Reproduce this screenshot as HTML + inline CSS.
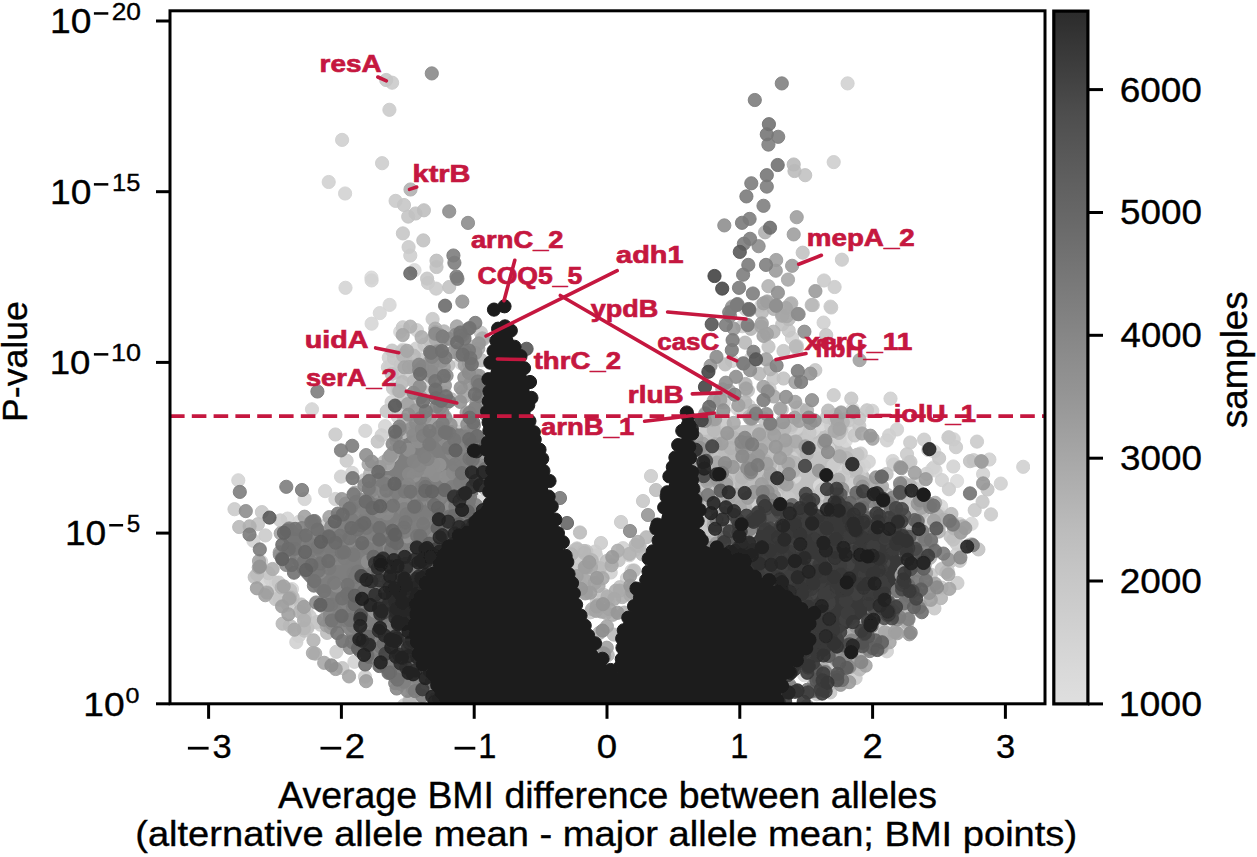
<!DOCTYPE html>
<html><head><meta charset="utf-8"><style>
html,body{margin:0;padding:0;background:#fff;}
svg{display:block;}
circle{stroke-width:1px;fill-opacity:0.9;stroke-opacity:0.9;}
circle.o{fill-opacity:1;stroke-opacity:1;}
text{font-family:"Liberation Sans",sans-serif;stroke:#000;stroke-width:0.35px;}
.lab{fill:#c5173f;stroke:#c5173f;stroke-width:0.7px;}
.tk{font-size:32px;fill:#000;}
.sup{font-size:22.5px;fill:#000;}
</style></head><body>
<svg width="1257" height="857" viewBox="0 0 1257 857">
<defs>
<filter id="bl" x="0" y="0" width="1" height="1"><feGaussianBlur stdDeviation="0.6"/></filter>
<clipPath id="clip"><rect x="170" y="11" width="875" height="693"/></clipPath>
<linearGradient id="cb" x1="0" y1="1" x2="0" y2="0">
<stop offset="0.00" stop-color="#dfdfdf"/><stop offset="0.05" stop-color="#d9d9d9"/><stop offset="0.10" stop-color="#d2d2d2"/><stop offset="0.15" stop-color="#cbcbcb"/><stop offset="0.20" stop-color="#c4c4c4"/><stop offset="0.25" stop-color="#bcbcbc"/><stop offset="0.30" stop-color="#b2b2b2"/><stop offset="0.35" stop-color="#a8a8a8"/><stop offset="0.40" stop-color="#9e9e9e"/><stop offset="0.45" stop-color="#949494"/><stop offset="0.50" stop-color="#8c8c8c"/><stop offset="0.55" stop-color="#838383"/><stop offset="0.60" stop-color="#7a7a7a"/><stop offset="0.65" stop-color="#717171"/><stop offset="0.70" stop-color="#686868"/><stop offset="0.75" stop-color="#606060"/><stop offset="0.80" stop-color="#575757"/><stop offset="0.85" stop-color="#4e4e4e"/><stop offset="0.90" stop-color="#424242"/><stop offset="0.95" stop-color="#373737"/><stop offset="1.00" stop-color="#2b2b2b"/>
</linearGradient>
</defs>
<rect width="1257" height="857" fill="#fff"/>
<g clip-path="url(#clip)"><g filter="url(#bl)">
<path d="M427.0 698.0 L406.8 686.9 L388.3 677.2 L373.5 666.1 L362.7 653.3 L351.2 643.8 L344.5 632.2 L330.7 617.5 L321.7 598.5 L308.9 584.6 L298.4 573.1 L289.3 558.5 L284.3 544.5 L286.9 533.5 L293.9 530.0 L311.4 530.0 L342.8 518.8 L356.0 502.3 L370.9 487.4 L386.6 468.5 L399.3 445.3 L406.7 425.0 L477.7 425.0 L479.9 698.0 Z" fill="#7e7e7e"/>
<path d="M700.0 428.0 L760.0 424.0 L835.0 426.0 L850.0 445.0 L870.0 475.0 L900.0 495.0 L930.0 515.0 L915.0 550.0 L895.0 585.0 L870.0 615.0 L840.0 645.0 L805.0 670.0 L780.0 690.0 L700.0 690.0 Z" fill="#c0c0c0"/>
<path d="M751.1 531.3 L786.5 513.6 L818.2 508.1 L854.1 512.7 L885.4 526.1 L901.4 544.6 L903.8 566.7 L895.6 590.5 L868.1 613.4 L838.3 636.3 L807.2 660.1 L788.6 684.1 L783.2 695.0 L711.0 695.0 L711.0 565.1 Z" fill="#383838"/>
<circle cx="957.1" cy="481.0" r="6.6" fill="#dcdcdc" stroke="#dcdcdc"/>
<circle cx="425.9" cy="385.2" r="6.6" fill="#dbdbdb" stroke="#dbdbdb"/>
<circle cx="852.7" cy="409.2" r="6.6" fill="#dbdbdb" stroke="#dbdbdb"/>
<circle cx="849.7" cy="431.1" r="6.6" fill="#dadada" stroke="#dadada"/>
<circle cx="485.5" cy="628.7" r="6.6" fill="#dadada" stroke="#dadada"/>
<circle cx="487.1" cy="684.0" r="6.6" fill="#dadada" stroke="#dadada"/>
<circle cx="821.7" cy="674.3" r="6.6" fill="#d9d9d9" stroke="#d9d9d9"/>
<circle cx="932.2" cy="469.1" r="6.6" fill="#d9d9d9" stroke="#d9d9d9"/>
<circle cx="923.1" cy="504.6" r="6.6" fill="#d9d9d9" stroke="#d9d9d9"/>
<circle cx="920.9" cy="576.2" r="6.6" fill="#d9d9d9" stroke="#d9d9d9"/>
<circle cx="414.5" cy="270.2" r="6.6" fill="#d9d9d9" stroke="#d9d9d9"/>
<circle cx="371.4" cy="277.6" r="6.6" fill="#d9d9d9" stroke="#d9d9d9"/>
<circle cx="482.4" cy="628.2" r="6.6" fill="#d9d9d9" stroke="#d9d9d9"/>
<circle cx="916.7" cy="543.3" r="6.6" fill="#d9d9d9" stroke="#d9d9d9"/>
<circle cx="904.7" cy="483.5" r="6.6" fill="#d9d9d9" stroke="#d9d9d9"/>
<circle cx="907.7" cy="582.0" r="6.6" fill="#d9d9d9" stroke="#d9d9d9"/>
<circle cx="804.3" cy="675.2" r="6.6" fill="#d9d9d9" stroke="#d9d9d9"/>
<circle cx="820.0" cy="485.8" r="6.6" fill="#d9d9d9" stroke="#d9d9d9"/>
<circle cx="479.4" cy="501.6" r="6.6" fill="#d9d9d9" stroke="#d9d9d9"/>
<circle cx="818.6" cy="423.4" r="6.6" fill="#d9d9d9" stroke="#d9d9d9"/>
<circle cx="820.9" cy="424.3" r="6.6" fill="#d9d9d9" stroke="#d9d9d9"/>
<circle cx="916.5" cy="572.7" r="6.6" fill="#d8d8d8" stroke="#d8d8d8"/>
<circle cx="971.6" cy="523.8" r="6.6" fill="#d8d8d8" stroke="#d8d8d8"/>
<circle cx="842.8" cy="492.3" r="6.6" fill="#d8d8d8" stroke="#d8d8d8"/>
<circle cx="845.8" cy="440.7" r="6.6" fill="#d8d8d8" stroke="#d8d8d8"/>
<circle cx="941.1" cy="506.2" r="6.6" fill="#d8d8d8" stroke="#d8d8d8"/>
<circle cx="859.5" cy="481.9" r="6.6" fill="#d8d8d8" stroke="#d8d8d8"/>
<circle cx="815.1" cy="660.6" r="6.6" fill="#d8d8d8" stroke="#d8d8d8"/>
<circle cx="845.8" cy="418.7" r="6.6" fill="#d8d8d8" stroke="#d8d8d8"/>
<circle cx="292.0" cy="589.0" r="6.6" fill="#d8d8d8" stroke="#d8d8d8"/>
<circle cx="924.2" cy="547.3" r="6.6" fill="#d8d8d8" stroke="#d8d8d8"/>
<circle cx="903.7" cy="550.7" r="6.6" fill="#d7d7d7" stroke="#d7d7d7"/>
<circle cx="790.3" cy="508.0" r="6.6" fill="#d7d7d7" stroke="#d7d7d7"/>
<circle cx="914.5" cy="483.8" r="6.6" fill="#d7d7d7" stroke="#d7d7d7"/>
<circle cx="935.5" cy="470.5" r="6.6" fill="#d7d7d7" stroke="#d7d7d7"/>
<circle cx="813.5" cy="429.7" r="6.6" fill="#d7d7d7" stroke="#d7d7d7"/>
<circle cx="482.0" cy="514.3" r="6.6" fill="#d7d7d7" stroke="#d7d7d7"/>
<circle cx="761.3" cy="305.5" r="6.6" fill="#d7d7d7" stroke="#d7d7d7"/>
<circle cx="484.9" cy="697.0" r="6.6" fill="#d7d7d7" stroke="#d7d7d7"/>
<circle cx="934.2" cy="451.5" r="6.6" fill="#d7d7d7" stroke="#d7d7d7"/>
<circle cx="439.1" cy="335.4" r="6.6" fill="#d7d7d7" stroke="#d7d7d7"/>
<circle cx="904.5" cy="539.3" r="6.6" fill="#d7d7d7" stroke="#d7d7d7"/>
<circle cx="895.9" cy="595.2" r="6.6" fill="#d7d7d7" stroke="#d7d7d7"/>
<circle cx="941.7" cy="517.1" r="6.6" fill="#d6d6d6" stroke="#d6d6d6"/>
<circle cx="299.3" cy="521.7" r="6.6" fill="#d6d6d6" stroke="#d6d6d6"/>
<circle cx="398.7" cy="407.2" r="6.6" fill="#d6d6d6" stroke="#d6d6d6"/>
<circle cx="828.1" cy="448.5" r="6.6" fill="#d6d6d6" stroke="#d6d6d6"/>
<circle cx="263.7" cy="579.3" r="6.6" fill="#d6d6d6" stroke="#d6d6d6"/>
<circle cx="389.6" cy="304.9" r="6.6" fill="#d6d6d6" stroke="#d6d6d6"/>
<circle cx="379.8" cy="313.1" r="6.6" fill="#d6d6d6" stroke="#d6d6d6"/>
<circle cx="371.6" cy="323.7" r="6.6" fill="#d6d6d6" stroke="#d6d6d6"/>
<circle cx="400.2" cy="331.8" r="6.6" fill="#d6d6d6" stroke="#d6d6d6"/>
<circle cx="403.0" cy="349.6" r="6.6" fill="#d6d6d6" stroke="#d6d6d6"/>
<circle cx="794.5" cy="476.8" r="6.6" fill="#d6d6d6" stroke="#d6d6d6"/>
<circle cx="844.0" cy="471.1" r="6.6" fill="#d6d6d6" stroke="#d6d6d6"/>
<circle cx="908.3" cy="508.1" r="6.6" fill="#d6d6d6" stroke="#d6d6d6"/>
<circle cx="793.8" cy="420.7" r="6.6" fill="#d6d6d6" stroke="#d6d6d6"/>
<circle cx="912.8" cy="548.1" r="6.6" fill="#d5d5d5" stroke="#d5d5d5"/>
<circle cx="806.7" cy="668.9" r="6.6" fill="#d5d5d5" stroke="#d5d5d5"/>
<circle cx="287.6" cy="518.6" r="6.6" fill="#d5d5d5" stroke="#d5d5d5"/>
<circle cx="826.9" cy="420.2" r="6.6" fill="#d5d5d5" stroke="#d5d5d5"/>
<circle cx="460.8" cy="363.0" r="6.6" fill="#d5d5d5" stroke="#d5d5d5"/>
<circle cx="915.4" cy="508.1" r="6.6" fill="#d5d5d5" stroke="#d5d5d5"/>
<circle cx="940.1" cy="513.8" r="6.6" fill="#d5d5d5" stroke="#d5d5d5"/>
<circle cx="385.1" cy="426.2" r="6.6" fill="#d5d5d5" stroke="#d5d5d5"/>
<circle cx="864.1" cy="466.1" r="6.6" fill="#d5d5d5" stroke="#d5d5d5"/>
<circle cx="895.5" cy="535.3" r="6.6" fill="#d5d5d5" stroke="#d5d5d5"/>
<circle cx="909.1" cy="515.0" r="6.6" fill="#d5d5d5" stroke="#d5d5d5"/>
<circle cx="908.2" cy="594.2" r="6.6" fill="#d5d5d5" stroke="#d5d5d5"/>
<circle cx="732.0" cy="361.0" r="6.6" fill="#d4d4d4" stroke="#d4d4d4"/>
<circle cx="737.4" cy="408.7" r="6.6" fill="#d4d4d4" stroke="#d4d4d4"/>
<circle cx="410.4" cy="375.5" r="6.6" fill="#d4d4d4" stroke="#d4d4d4"/>
<circle cx="886.0" cy="495.9" r="6.6" fill="#d4d4d4" stroke="#d4d4d4"/>
<circle cx="352.2" cy="472.9" r="6.6" fill="#d4d4d4" stroke="#d4d4d4"/>
<circle cx="399.1" cy="369.9" r="6.6" fill="#d4d4d4" stroke="#d4d4d4"/>
<circle cx="896.7" cy="507.0" r="6.6" fill="#d4d4d4" stroke="#d4d4d4"/>
<circle cx="892.7" cy="461.0" r="6.6" fill="#d4d4d4" stroke="#d4d4d4"/>
<circle cx="873.5" cy="627.2" r="6.6" fill="#d4d4d4" stroke="#d4d4d4"/>
<circle cx="281.9" cy="591.7" r="6.6" fill="#d4d4d4" stroke="#d4d4d4"/>
<circle cx="931.2" cy="522.2" r="6.6" fill="#d4d4d4" stroke="#d4d4d4"/>
<circle cx="631.7" cy="570.7" r="6.6" fill="#d4d4d4" stroke="#d4d4d4"/>
<circle cx="914.3" cy="581.7" r="6.6" fill="#d4d4d4" stroke="#d4d4d4"/>
<circle cx="345.5" cy="287.8" r="6.6" fill="#d4d4d4" stroke="#d4d4d4"/>
<circle cx="371.6" cy="280.4" r="6.6" fill="#d4d4d4" stroke="#d4d4d4"/>
<circle cx="312.0" cy="409.3" r="6.6" fill="#d4d4d4" stroke="#d4d4d4"/>
<circle cx="365.3" cy="430.8" r="6.6" fill="#d4d4d4" stroke="#d4d4d4"/>
<circle cx="238.3" cy="480.3" r="6.6" fill="#d4d4d4" stroke="#d4d4d4"/>
<circle cx="304.6" cy="499.0" r="6.6" fill="#d4d4d4" stroke="#d4d4d4"/>
<circle cx="843.0" cy="475.4" r="6.6" fill="#d4d4d4" stroke="#d4d4d4"/>
<circle cx="431.6" cy="340.1" r="6.6" fill="#d4d4d4" stroke="#d4d4d4"/>
<circle cx="390.1" cy="367.9" r="6.6" fill="#d3d3d3" stroke="#d3d3d3"/>
<circle cx="839.7" cy="439.2" r="6.6" fill="#d3d3d3" stroke="#d3d3d3"/>
<circle cx="797.0" cy="345.9" r="6.6" fill="#d3d3d3" stroke="#d3d3d3"/>
<circle cx="397.2" cy="407.5" r="6.6" fill="#d3d3d3" stroke="#d3d3d3"/>
<circle cx="298.8" cy="636.0" r="6.6" fill="#d3d3d3" stroke="#d3d3d3"/>
<circle cx="914.3" cy="602.4" r="6.6" fill="#d3d3d3" stroke="#d3d3d3"/>
<circle cx="397.9" cy="416.7" r="6.6" fill="#d3d3d3" stroke="#d3d3d3"/>
<circle cx="279.6" cy="599.8" r="6.6" fill="#d3d3d3" stroke="#d3d3d3"/>
<circle cx="344.5" cy="643.6" r="6.6" fill="#d3d3d3" stroke="#d3d3d3"/>
<circle cx="868.8" cy="461.7" r="6.6" fill="#d3d3d3" stroke="#d3d3d3"/>
<circle cx="953.3" cy="466.5" r="6.6" fill="#d3d3d3" stroke="#d3d3d3"/>
<circle cx="306.4" cy="610.6" r="6.6" fill="#d3d3d3" stroke="#d3d3d3"/>
<circle cx="412.3" cy="691.3" r="6.6" fill="#d3d3d3" stroke="#d3d3d3"/>
<circle cx="403.5" cy="366.2" r="6.6" fill="#d3d3d3" stroke="#d3d3d3"/>
<circle cx="354.4" cy="661.8" r="6.6" fill="#d3d3d3" stroke="#d3d3d3"/>
<circle cx="586.3" cy="575.6" r="6.6" fill="#d3d3d3" stroke="#d3d3d3"/>
<circle cx="793.1" cy="428.5" r="6.6" fill="#d3d3d3" stroke="#d3d3d3"/>
<circle cx="345.1" cy="193.5" r="6.6" fill="#d3d3d3" stroke="#d3d3d3"/>
<circle cx="846.7" cy="661.6" r="6.6" fill="#d3d3d3" stroke="#d3d3d3"/>
<circle cx="792.0" cy="338.0" r="6.6" fill="#d2d2d2" stroke="#d2d2d2"/>
<circle cx="634.6" cy="550.3" r="6.6" fill="#d2d2d2" stroke="#d2d2d2"/>
<circle cx="748.9" cy="405.9" r="6.6" fill="#d2d2d2" stroke="#d2d2d2"/>
<circle cx="886.4" cy="601.8" r="6.6" fill="#d2d2d2" stroke="#d2d2d2"/>
<circle cx="941.9" cy="480.1" r="6.6" fill="#d2d2d2" stroke="#d2d2d2"/>
<circle cx="411.8" cy="394.7" r="6.6" fill="#d2d2d2" stroke="#d2d2d2"/>
<circle cx="796.5" cy="427.9" r="6.6" fill="#d2d2d2" stroke="#d2d2d2"/>
<circle cx="270.5" cy="579.2" r="6.6" fill="#d2d2d2" stroke="#d2d2d2"/>
<circle cx="968.9" cy="545.1" r="6.6" fill="#d2d2d2" stroke="#d2d2d2"/>
<circle cx="253.4" cy="540.8" r="6.6" fill="#d2d2d2" stroke="#d2d2d2"/>
<circle cx="983.1" cy="474.0" r="6.6" fill="#d2d2d2" stroke="#d2d2d2"/>
<circle cx="834.0" cy="662.0" r="6.6" fill="#d2d2d2" stroke="#d2d2d2"/>
<circle cx="953.7" cy="439.3" r="6.6" fill="#d2d2d2" stroke="#d2d2d2"/>
<circle cx="959.9" cy="524.1" r="6.6" fill="#d2d2d2" stroke="#d2d2d2"/>
<circle cx="629.3" cy="555.3" r="6.6" fill="#d2d2d2" stroke="#d2d2d2"/>
<circle cx="408.0" cy="374.3" r="6.6" fill="#d2d2d2" stroke="#d2d2d2"/>
<circle cx="834.8" cy="484.0" r="6.6" fill="#d2d2d2" stroke="#d2d2d2"/>
<circle cx="623.0" cy="548.2" r="6.6" fill="#d2d2d2" stroke="#d2d2d2"/>
<circle cx="836.0" cy="432.5" r="6.6" fill="#d2d2d2" stroke="#d2d2d2"/>
<circle cx="900.2" cy="489.5" r="6.6" fill="#d2d2d2" stroke="#d2d2d2"/>
<circle cx="843.2" cy="648.5" r="6.6" fill="#d2d2d2" stroke="#d2d2d2"/>
<circle cx="723.9" cy="402.5" r="6.6" fill="#d1d1d1" stroke="#d1d1d1"/>
<circle cx="328.7" cy="182.0" r="6.6" fill="#d1d1d1" stroke="#d1d1d1"/>
<circle cx="847.6" cy="83.4" r="6.6" fill="#d1d1d1" stroke="#d1d1d1"/>
<circle cx="296.3" cy="642.2" r="6.6" fill="#d1d1d1" stroke="#d1d1d1"/>
<circle cx="766.6" cy="303.1" r="6.6" fill="#d1d1d1" stroke="#d1d1d1"/>
<circle cx="930.9" cy="525.1" r="6.6" fill="#d1d1d1" stroke="#d1d1d1"/>
<circle cx="933.7" cy="467.5" r="6.6" fill="#d1d1d1" stroke="#d1d1d1"/>
<circle cx="576.2" cy="570.0" r="6.6" fill="#d1d1d1" stroke="#d1d1d1"/>
<circle cx="731.6" cy="445.2" r="6.6" fill="#d1d1d1" stroke="#d1d1d1"/>
<circle cx="886.9" cy="651.3" r="6.6" fill="#d1d1d1" stroke="#d1d1d1"/>
<circle cx="701.0" cy="622.1" r="6.6" fill="#d1d1d1" stroke="#d1d1d1"/>
<circle cx="481.8" cy="576.3" r="6.6" fill="#d0d0d0" stroke="#d0d0d0"/>
<circle cx="849.5" cy="484.5" r="6.6" fill="#d0d0d0" stroke="#d0d0d0"/>
<circle cx="924.3" cy="560.1" r="6.6" fill="#d0d0d0" stroke="#d0d0d0"/>
<circle cx="908.4" cy="462.5" r="6.6" fill="#d0d0d0" stroke="#d0d0d0"/>
<circle cx="699.4" cy="520.6" r="6.6" fill="#d0d0d0" stroke="#d0d0d0"/>
<circle cx="933.2" cy="553.1" r="6.6" fill="#d0d0d0" stroke="#d0d0d0"/>
<circle cx="610.7" cy="572.5" r="6.6" fill="#d0d0d0" stroke="#d0d0d0"/>
<circle cx="341.0" cy="476.6" r="6.6" fill="#d0d0d0" stroke="#d0d0d0"/>
<circle cx="325.1" cy="491.1" r="6.6" fill="#d0d0d0" stroke="#d0d0d0"/>
<circle cx="335.4" cy="499.0" r="6.6" fill="#d0d0d0" stroke="#d0d0d0"/>
<circle cx="823.6" cy="322.6" r="6.6" fill="#d0d0d0" stroke="#d0d0d0"/>
<circle cx="890.5" cy="398.6" r="6.6" fill="#d0d0d0" stroke="#d0d0d0"/>
<circle cx="1023.2" cy="466.8" r="6.6" fill="#d0d0d0" stroke="#d0d0d0"/>
<circle cx="1000.8" cy="483.6" r="6.6" fill="#d0d0d0" stroke="#d0d0d0"/>
<circle cx="926.6" cy="473.8" r="6.6" fill="#d0d0d0" stroke="#d0d0d0"/>
<circle cx="787.3" cy="458.9" r="6.6" fill="#d0d0d0" stroke="#d0d0d0"/>
<circle cx="897.0" cy="429.5" r="6.6" fill="#d0d0d0" stroke="#d0d0d0"/>
<circle cx="283.1" cy="560.0" r="6.6" fill="#d0d0d0" stroke="#d0d0d0"/>
<circle cx="796.4" cy="427.0" r="6.6" fill="#d0d0d0" stroke="#d0d0d0"/>
<circle cx="704.2" cy="698.2" r="6.6" fill="#d0d0d0" stroke="#d0d0d0"/>
<circle cx="444.8" cy="392.5" r="6.6" fill="#d0d0d0" stroke="#d0d0d0"/>
<circle cx="872.3" cy="410.8" r="6.6" fill="#d0d0d0" stroke="#d0d0d0"/>
<circle cx="388.8" cy="357.6" r="6.6" fill="#d0d0d0" stroke="#d0d0d0"/>
<circle cx="891.8" cy="606.0" r="6.6" fill="#d0d0d0" stroke="#d0d0d0"/>
<circle cx="956.5" cy="554.6" r="6.6" fill="#d0d0d0" stroke="#d0d0d0"/>
<circle cx="770.3" cy="425.8" r="6.6" fill="#d0d0d0" stroke="#d0d0d0"/>
<circle cx="459.0" cy="421.5" r="6.6" fill="#d0d0d0" stroke="#d0d0d0"/>
<circle cx="391.6" cy="402.2" r="6.6" fill="#d0d0d0" stroke="#d0d0d0"/>
<circle cx="751.0" cy="358.4" r="6.6" fill="#d0d0d0" stroke="#d0d0d0"/>
<circle cx="989.4" cy="459.5" r="6.6" fill="#d0d0d0" stroke="#d0d0d0"/>
<circle cx="886.9" cy="440.4" r="6.6" fill="#d0d0d0" stroke="#d0d0d0"/>
<circle cx="626.9" cy="578.5" r="6.6" fill="#d0d0d0" stroke="#d0d0d0"/>
<circle cx="749.1" cy="532.3" r="6.6" fill="#d0d0d0" stroke="#d0d0d0"/>
<circle cx="904.8" cy="626.6" r="6.6" fill="#d0d0d0" stroke="#d0d0d0"/>
<circle cx="732.0" cy="460.6" r="6.6" fill="#cfcfcf" stroke="#cfcfcf"/>
<circle cx="381.6" cy="435.3" r="6.6" fill="#cfcfcf" stroke="#cfcfcf"/>
<circle cx="771.1" cy="467.6" r="6.6" fill="#cfcfcf" stroke="#cfcfcf"/>
<circle cx="903.1" cy="613.6" r="6.6" fill="#cfcfcf" stroke="#cfcfcf"/>
<circle cx="741.0" cy="411.6" r="6.6" fill="#cfcfcf" stroke="#cfcfcf"/>
<circle cx="596.0" cy="555.5" r="6.6" fill="#cfcfcf" stroke="#cfcfcf"/>
<circle cx="342.1" cy="139.9" r="6.6" fill="#cfcfcf" stroke="#cfcfcf"/>
<circle cx="791.6" cy="458.2" r="6.6" fill="#cfcfcf" stroke="#cfcfcf"/>
<circle cx="889.1" cy="435.4" r="6.6" fill="#cfcfcf" stroke="#cfcfcf"/>
<circle cx="917.0" cy="541.3" r="6.6" fill="#cfcfcf" stroke="#cfcfcf"/>
<circle cx="759.1" cy="505.6" r="6.6" fill="#cfcfcf" stroke="#cfcfcf"/>
<circle cx="931.4" cy="541.3" r="6.6" fill="#cfcfcf" stroke="#cfcfcf"/>
<circle cx="699.2" cy="456.7" r="6.6" fill="#cfcfcf" stroke="#cfcfcf"/>
<circle cx="401.0" cy="404.1" r="6.6" fill="#cfcfcf" stroke="#cfcfcf"/>
<circle cx="876.5" cy="610.4" r="6.6" fill="#cfcfcf" stroke="#cfcfcf"/>
<circle cx="850.9" cy="648.2" r="6.6" fill="#cfcfcf" stroke="#cfcfcf"/>
<circle cx="727.9" cy="535.3" r="6.6" fill="#cfcfcf" stroke="#cfcfcf"/>
<circle cx="858.4" cy="467.3" r="6.6" fill="#cfcfcf" stroke="#cfcfcf"/>
<circle cx="416.3" cy="348.5" r="6.6" fill="#cfcfcf" stroke="#cfcfcf"/>
<circle cx="413.3" cy="704.3" r="6.6" fill="#cfcfcf" stroke="#cfcfcf"/>
<circle cx="275.8" cy="582.7" r="6.6" fill="#cfcfcf" stroke="#cfcfcf"/>
<circle cx="695.1" cy="494.3" r="6.6" fill="#cecece" stroke="#cecece"/>
<circle cx="414.6" cy="404.0" r="6.6" fill="#cecece" stroke="#cecece"/>
<circle cx="387.9" cy="367.3" r="6.6" fill="#cecece" stroke="#cecece"/>
<circle cx="261.1" cy="561.6" r="6.6" fill="#cecece" stroke="#cecece"/>
<circle cx="794.6" cy="690.8" r="6.6" fill="#cecece" stroke="#cecece"/>
<circle cx="880.7" cy="477.7" r="6.6" fill="#cecece" stroke="#cecece"/>
<circle cx="416.9" cy="330.2" r="6.6" fill="#cecece" stroke="#cecece"/>
<circle cx="859.4" cy="631.6" r="6.6" fill="#cecece" stroke="#cecece"/>
<circle cx="437.2" cy="380.4" r="6.6" fill="#cecece" stroke="#cecece"/>
<circle cx="410.3" cy="255.5" r="6.6" fill="#cecece" stroke="#cecece"/>
<circle cx="833.7" cy="162.1" r="6.6" fill="#cecece" stroke="#cecece"/>
<circle cx="830.5" cy="306.6" r="6.6" fill="#cecece" stroke="#cecece"/>
<circle cx="739.4" cy="472.7" r="6.6" fill="#cecece" stroke="#cecece"/>
<circle cx="280.0" cy="590.5" r="6.6" fill="#cecece" stroke="#cecece"/>
<circle cx="690.4" cy="451.3" r="6.6" fill="#cecece" stroke="#cecece"/>
<circle cx="775.2" cy="495.8" r="6.6" fill="#cecece" stroke="#cecece"/>
<circle cx="893.7" cy="464.5" r="6.6" fill="#cecece" stroke="#cecece"/>
<circle cx="927.1" cy="553.7" r="6.6" fill="#cecece" stroke="#cecece"/>
<circle cx="718.6" cy="532.8" r="6.6" fill="#cecece" stroke="#cecece"/>
<circle cx="823.0" cy="493.2" r="6.6" fill="#cecece" stroke="#cecece"/>
<circle cx="858.5" cy="664.1" r="6.6" fill="#cecece" stroke="#cecece"/>
<circle cx="923.4" cy="550.4" r="6.6" fill="#cecece" stroke="#cecece"/>
<circle cx="851.3" cy="660.7" r="6.6" fill="#cdcdcd" stroke="#cdcdcd"/>
<circle cx="367.9" cy="483.0" r="6.6" fill="#cdcdcd" stroke="#cdcdcd"/>
<circle cx="320.4" cy="624.7" r="6.6" fill="#cdcdcd" stroke="#cdcdcd"/>
<circle cx="948.4" cy="437.4" r="6.6" fill="#cdcdcd" stroke="#cdcdcd"/>
<circle cx="948.9" cy="489.2" r="6.6" fill="#cdcdcd" stroke="#cdcdcd"/>
<circle cx="890.0" cy="505.4" r="6.6" fill="#cdcdcd" stroke="#cdcdcd"/>
<circle cx="906.6" cy="541.9" r="6.6" fill="#cdcdcd" stroke="#cdcdcd"/>
<circle cx="699.1" cy="451.1" r="6.6" fill="#cdcdcd" stroke="#cdcdcd"/>
<circle cx="651.0" cy="476.0" r="6.6" fill="#cdcdcd" stroke="#cdcdcd"/>
<circle cx="382.1" cy="163.2" r="6.6" fill="#cdcdcd" stroke="#cdcdcd"/>
<circle cx="595.2" cy="551.5" r="6.6" fill="#cdcdcd" stroke="#cdcdcd"/>
<circle cx="831.3" cy="426.1" r="6.6" fill="#cdcdcd" stroke="#cdcdcd"/>
<circle cx="700.4" cy="622.4" r="6.6" fill="#cdcdcd" stroke="#cdcdcd"/>
<circle cx="608.4" cy="600.0" r="6.6" fill="#cdcdcd" stroke="#cdcdcd"/>
<circle cx="764.4" cy="498.6" r="6.6" fill="#cdcdcd" stroke="#cdcdcd"/>
<circle cx="764.9" cy="513.6" r="6.6" fill="#cdcdcd" stroke="#cdcdcd"/>
<circle cx="365.0" cy="676.7" r="6.6" fill="#cdcdcd" stroke="#cdcdcd"/>
<circle cx="823.2" cy="489.1" r="6.6" fill="#cdcdcd" stroke="#cdcdcd"/>
<circle cx="745.9" cy="309.4" r="6.6" fill="#cccccc" stroke="#cccccc"/>
<circle cx="399.9" cy="391.0" r="6.6" fill="#cccccc" stroke="#cccccc"/>
<circle cx="404.0" cy="705.3" r="6.6" fill="#cccccc" stroke="#cccccc"/>
<circle cx="709.1" cy="602.8" r="6.6" fill="#cccccc" stroke="#cccccc"/>
<circle cx="833.5" cy="465.6" r="6.6" fill="#cccccc" stroke="#cccccc"/>
<circle cx="304.3" cy="614.3" r="6.6" fill="#cccccc" stroke="#cccccc"/>
<circle cx="765.7" cy="440.2" r="6.6" fill="#cccccc" stroke="#cccccc"/>
<circle cx="900.0" cy="487.7" r="6.6" fill="#cccccc" stroke="#cccccc"/>
<circle cx="829.7" cy="476.0" r="6.6" fill="#cccccc" stroke="#cccccc"/>
<circle cx="336.4" cy="651.8" r="6.6" fill="#cccccc" stroke="#cccccc"/>
<circle cx="398.0" cy="371.7" r="6.6" fill="#cccccc" stroke="#cccccc"/>
<circle cx="704.9" cy="427.8" r="6.6" fill="#cccccc" stroke="#cccccc"/>
<circle cx="742.3" cy="326.2" r="6.6" fill="#cccccc" stroke="#cccccc"/>
<circle cx="621.0" cy="522.0" r="6.6" fill="#cccccc" stroke="#cccccc"/>
<circle cx="601.0" cy="543.0" r="6.6" fill="#cccccc" stroke="#cccccc"/>
<circle cx="924.1" cy="439.6" r="6.6" fill="#cccccc" stroke="#cccccc"/>
<circle cx="915.5" cy="512.2" r="6.6" fill="#cccccc" stroke="#cccccc"/>
<circle cx="773.8" cy="440.7" r="6.6" fill="#cccccc" stroke="#cccccc"/>
<circle cx="415.7" cy="380.9" r="6.6" fill="#cccccc" stroke="#cccccc"/>
<circle cx="956.8" cy="543.9" r="6.6" fill="#cccccc" stroke="#cccccc"/>
<circle cx="574.6" cy="550.2" r="6.6" fill="#cbcbcb" stroke="#cbcbcb"/>
<circle cx="327.8" cy="523.7" r="6.6" fill="#cbcbcb" stroke="#cbcbcb"/>
<circle cx="855.6" cy="678.0" r="6.6" fill="#cbcbcb" stroke="#cbcbcb"/>
<circle cx="917.0" cy="489.3" r="6.6" fill="#cbcbcb" stroke="#cbcbcb"/>
<circle cx="932.1" cy="546.7" r="6.6" fill="#cbcbcb" stroke="#cbcbcb"/>
<circle cx="432.4" cy="416.8" r="6.6" fill="#cbcbcb" stroke="#cbcbcb"/>
<circle cx="888.9" cy="529.4" r="6.6" fill="#cbcbcb" stroke="#cbcbcb"/>
<circle cx="309.8" cy="616.5" r="6.6" fill="#cbcbcb" stroke="#cbcbcb"/>
<circle cx="860.8" cy="453.5" r="6.6" fill="#cbcbcb" stroke="#cbcbcb"/>
<circle cx="291.3" cy="626.8" r="6.6" fill="#cbcbcb" stroke="#cbcbcb"/>
<circle cx="755.8" cy="359.7" r="6.6" fill="#cbcbcb" stroke="#cbcbcb"/>
<circle cx="910.2" cy="442.5" r="6.6" fill="#cbcbcb" stroke="#cbcbcb"/>
<circle cx="612.5" cy="561.6" r="6.6" fill="#cbcbcb" stroke="#cbcbcb"/>
<circle cx="769.5" cy="388.5" r="6.6" fill="#cbcbcb" stroke="#cbcbcb"/>
<circle cx="639.1" cy="546.0" r="6.6" fill="#cbcbcb" stroke="#cbcbcb"/>
<circle cx="930.6" cy="549.4" r="6.6" fill="#cbcbcb" stroke="#cbcbcb"/>
<circle cx="691.9" cy="518.4" r="6.6" fill="#cbcbcb" stroke="#cbcbcb"/>
<circle cx="880.3" cy="495.0" r="6.6" fill="#cbcbcb" stroke="#cbcbcb"/>
<circle cx="392.1" cy="82.7" r="6.6" fill="#cbcbcb" stroke="#cbcbcb"/>
<circle cx="389.4" cy="109.8" r="6.6" fill="#cbcbcb" stroke="#cbcbcb"/>
<circle cx="408.6" cy="247.1" r="6.6" fill="#cbcbcb" stroke="#cbcbcb"/>
<circle cx="428.0" cy="282.9" r="6.6" fill="#cbcbcb" stroke="#cbcbcb"/>
<circle cx="436.1" cy="288.6" r="6.6" fill="#cbcbcb" stroke="#cbcbcb"/>
<circle cx="335.4" cy="434.5" r="6.6" fill="#cbcbcb" stroke="#cbcbcb"/>
<circle cx="346.6" cy="460.7" r="6.6" fill="#cbcbcb" stroke="#cbcbcb"/>
<circle cx="234.5" cy="509.2" r="6.6" fill="#cbcbcb" stroke="#cbcbcb"/>
<circle cx="265.4" cy="535.4" r="6.6" fill="#cbcbcb" stroke="#cbcbcb"/>
<circle cx="280.3" cy="520.4" r="6.6" fill="#cbcbcb" stroke="#cbcbcb"/>
<circle cx="841.9" cy="259.7" r="6.6" fill="#cbcbcb" stroke="#cbcbcb"/>
<circle cx="824.0" cy="280.5" r="6.6" fill="#cbcbcb" stroke="#cbcbcb"/>
<circle cx="834.6" cy="287.0" r="6.6" fill="#cbcbcb" stroke="#cbcbcb"/>
<circle cx="831.2" cy="307.5" r="6.6" fill="#cbcbcb" stroke="#cbcbcb"/>
<circle cx="796.9" cy="348.4" r="6.6" fill="#cbcbcb" stroke="#cbcbcb"/>
<circle cx="833.7" cy="395.2" r="6.6" fill="#cbcbcb" stroke="#cbcbcb"/>
<circle cx="991.0" cy="514.4" r="6.6" fill="#cbcbcb" stroke="#cbcbcb"/>
<circle cx="977.0" cy="441.6" r="6.6" fill="#cbcbcb" stroke="#cbcbcb"/>
<circle cx="949.0" cy="437.4" r="6.6" fill="#cbcbcb" stroke="#cbcbcb"/>
<circle cx="956.0" cy="447.2" r="6.6" fill="#cbcbcb" stroke="#cbcbcb"/>
<circle cx="907.0" cy="454.2" r="6.6" fill="#cbcbcb" stroke="#cbcbcb"/>
<circle cx="960.2" cy="532.6" r="6.6" fill="#cbcbcb" stroke="#cbcbcb"/>
<circle cx="947.6" cy="570.4" r="6.6" fill="#cbcbcb" stroke="#cbcbcb"/>
<circle cx="957.4" cy="583.0" r="6.6" fill="#cbcbcb" stroke="#cbcbcb"/>
<circle cx="791.4" cy="690.8" r="6.6" fill="#cbcbcb" stroke="#cbcbcb"/>
<circle cx="973.6" cy="460.2" r="6.6" fill="#cbcbcb" stroke="#cbcbcb"/>
<circle cx="757.0" cy="695.1" r="6.6" fill="#cbcbcb" stroke="#cbcbcb"/>
<circle cx="486.6" cy="682.0" r="6.6" fill="#cbcbcb" stroke="#cbcbcb"/>
<circle cx="696.5" cy="657.3" r="6.6" fill="#cbcbcb" stroke="#cbcbcb"/>
<circle cx="823.5" cy="449.0" r="6.6" fill="#cbcbcb" stroke="#cbcbcb"/>
<circle cx="924.3" cy="580.8" r="6.6" fill="#cbcbcb" stroke="#cbcbcb"/>
<circle cx="700.0" cy="483.2" r="6.6" fill="#cacaca" stroke="#cacaca"/>
<circle cx="875.6" cy="633.9" r="6.6" fill="#cacaca" stroke="#cacaca"/>
<circle cx="287.7" cy="604.8" r="6.6" fill="#cacaca" stroke="#cacaca"/>
<circle cx="437.9" cy="391.9" r="6.6" fill="#cacaca" stroke="#cacaca"/>
<circle cx="864.7" cy="510.2" r="6.6" fill="#cacaca" stroke="#cacaca"/>
<circle cx="877.7" cy="626.7" r="6.6" fill="#cacaca" stroke="#cacaca"/>
<circle cx="633.6" cy="588.5" r="6.6" fill="#cacaca" stroke="#cacaca"/>
<circle cx="919.2" cy="546.1" r="6.6" fill="#cacaca" stroke="#cacaca"/>
<circle cx="873.0" cy="500.2" r="6.6" fill="#cacaca" stroke="#cacaca"/>
<circle cx="912.0" cy="575.5" r="6.6" fill="#cacaca" stroke="#cacaca"/>
<circle cx="586.9" cy="575.6" r="6.6" fill="#cacaca" stroke="#cacaca"/>
<circle cx="905.4" cy="542.3" r="6.6" fill="#cacaca" stroke="#cacaca"/>
<circle cx="859.8" cy="476.9" r="6.6" fill="#cacaca" stroke="#cacaca"/>
<circle cx="468.5" cy="390.8" r="6.6" fill="#cacaca" stroke="#cacaca"/>
<circle cx="829.5" cy="667.7" r="6.6" fill="#cacaca" stroke="#cacaca"/>
<circle cx="395.6" cy="200.9" r="6.6" fill="#cacaca" stroke="#cacaca"/>
<circle cx="839.6" cy="672.8" r="6.6" fill="#cacaca" stroke="#cacaca"/>
<circle cx="714.0" cy="485.0" r="6.6" fill="#cacaca" stroke="#cacaca"/>
<circle cx="751.6" cy="464.6" r="6.6" fill="#cacaca" stroke="#cacaca"/>
<circle cx="596.9" cy="600.5" r="6.6" fill="#cacaca" stroke="#cacaca"/>
<circle cx="720.5" cy="401.9" r="6.6" fill="#c9c9c9" stroke="#c9c9c9"/>
<circle cx="928.3" cy="449.9" r="6.6" fill="#c9c9c9" stroke="#c9c9c9"/>
<circle cx="584.2" cy="584.3" r="6.6" fill="#c9c9c9" stroke="#c9c9c9"/>
<circle cx="403.3" cy="402.4" r="6.6" fill="#c9c9c9" stroke="#c9c9c9"/>
<circle cx="974.7" cy="510.2" r="6.6" fill="#c9c9c9" stroke="#c9c9c9"/>
<circle cx="402.8" cy="327.3" r="6.6" fill="#c9c9c9" stroke="#c9c9c9"/>
<circle cx="698.8" cy="543.5" r="6.6" fill="#c9c9c9" stroke="#c9c9c9"/>
<circle cx="480.7" cy="610.2" r="6.6" fill="#c9c9c9" stroke="#c9c9c9"/>
<circle cx="783.0" cy="420.0" r="6.6" fill="#c9c9c9" stroke="#c9c9c9"/>
<circle cx="393.0" cy="388.4" r="6.6" fill="#c9c9c9" stroke="#c9c9c9"/>
<circle cx="742.5" cy="502.4" r="6.6" fill="#c9c9c9" stroke="#c9c9c9"/>
<circle cx="733.1" cy="490.7" r="6.6" fill="#c9c9c9" stroke="#c9c9c9"/>
<circle cx="703.4" cy="663.4" r="6.6" fill="#c9c9c9" stroke="#c9c9c9"/>
<circle cx="842.7" cy="477.3" r="6.6" fill="#c9c9c9" stroke="#c9c9c9"/>
<circle cx="713.9" cy="417.5" r="6.6" fill="#c9c9c9" stroke="#c9c9c9"/>
<circle cx="432.6" cy="319.0" r="6.6" fill="#c9c9c9" stroke="#c9c9c9"/>
<circle cx="917.1" cy="561.1" r="6.6" fill="#c9c9c9" stroke="#c9c9c9"/>
<circle cx="763.6" cy="500.5" r="6.6" fill="#c9c9c9" stroke="#c9c9c9"/>
<circle cx="934.4" cy="608.4" r="6.6" fill="#c9c9c9" stroke="#c9c9c9"/>
<circle cx="291.2" cy="594.0" r="6.6" fill="#c9c9c9" stroke="#c9c9c9"/>
<circle cx="727.8" cy="546.4" r="6.6" fill="#c8c8c8" stroke="#c8c8c8"/>
<circle cx="923.3" cy="568.7" r="6.6" fill="#c8c8c8" stroke="#c8c8c8"/>
<circle cx="888.9" cy="609.3" r="6.6" fill="#c8c8c8" stroke="#c8c8c8"/>
<circle cx="857.6" cy="649.1" r="6.6" fill="#c8c8c8" stroke="#c8c8c8"/>
<circle cx="577.8" cy="563.3" r="6.6" fill="#c8c8c8" stroke="#c8c8c8"/>
<circle cx="912.9" cy="609.2" r="6.6" fill="#c8c8c8" stroke="#c8c8c8"/>
<circle cx="278.7" cy="582.6" r="6.6" fill="#c8c8c8" stroke="#c8c8c8"/>
<circle cx="911.9" cy="487.4" r="6.6" fill="#c8c8c8" stroke="#c8c8c8"/>
<circle cx="932.1" cy="533.9" r="6.6" fill="#c8c8c8" stroke="#c8c8c8"/>
<circle cx="841.4" cy="429.9" r="6.6" fill="#c8c8c8" stroke="#c8c8c8"/>
<circle cx="481.8" cy="517.6" r="6.6" fill="#c8c8c8" stroke="#c8c8c8"/>
<circle cx="643.0" cy="501.0" r="6.6" fill="#c8c8c8" stroke="#c8c8c8"/>
<circle cx="854.6" cy="435.5" r="6.6" fill="#c8c8c8" stroke="#c8c8c8"/>
<circle cx="261.9" cy="512.1" r="6.6" fill="#c8c8c8" stroke="#c8c8c8"/>
<circle cx="394.0" cy="358.3" r="6.6" fill="#c8c8c8" stroke="#c8c8c8"/>
<circle cx="816.8" cy="694.2" r="6.6" fill="#c8c8c8" stroke="#c8c8c8"/>
<circle cx="427.7" cy="392.5" r="6.6" fill="#c8c8c8" stroke="#c8c8c8"/>
<circle cx="707.8" cy="703.3" r="6.6" fill="#c8c8c8" stroke="#c8c8c8"/>
<circle cx="812.5" cy="673.2" r="6.6" fill="#c8c8c8" stroke="#c8c8c8"/>
<circle cx="797.2" cy="470.1" r="6.6" fill="#c8c8c8" stroke="#c8c8c8"/>
<circle cx="577.0" cy="548.4" r="6.6" fill="#c8c8c8" stroke="#c8c8c8"/>
<circle cx="859.1" cy="645.8" r="6.6" fill="#c8c8c8" stroke="#c8c8c8"/>
<circle cx="781.8" cy="409.5" r="6.6" fill="#c7c7c7" stroke="#c7c7c7"/>
<circle cx="622.8" cy="595.4" r="6.6" fill="#c7c7c7" stroke="#c7c7c7"/>
<circle cx="386.2" cy="80.0" r="6.6" fill="#c7c7c7" stroke="#c7c7c7"/>
<circle cx="404.0" cy="205.0" r="6.6" fill="#c7c7c7" stroke="#c7c7c7"/>
<circle cx="402.9" cy="233.4" r="6.6" fill="#c7c7c7" stroke="#c7c7c7"/>
<circle cx="463.0" cy="391.1" r="6.6" fill="#c7c7c7" stroke="#c7c7c7"/>
<circle cx="902.7" cy="586.0" r="6.6" fill="#c7c7c7" stroke="#c7c7c7"/>
<circle cx="850.7" cy="504.5" r="6.6" fill="#c7c7c7" stroke="#c7c7c7"/>
<circle cx="268.5" cy="573.2" r="6.6" fill="#c7c7c7" stroke="#c7c7c7"/>
<circle cx="422.7" cy="702.4" r="6.6" fill="#c7c7c7" stroke="#c7c7c7"/>
<circle cx="788.7" cy="498.2" r="6.6" fill="#c7c7c7" stroke="#c7c7c7"/>
<circle cx="400.8" cy="364.1" r="6.6" fill="#c7c7c7" stroke="#c7c7c7"/>
<circle cx="823.3" cy="508.4" r="6.6" fill="#c7c7c7" stroke="#c7c7c7"/>
<circle cx="860.7" cy="495.2" r="6.6" fill="#c7c7c7" stroke="#c7c7c7"/>
<circle cx="891.9" cy="532.0" r="6.6" fill="#c7c7c7" stroke="#c7c7c7"/>
<circle cx="813.1" cy="446.5" r="6.6" fill="#c7c7c7" stroke="#c7c7c7"/>
<circle cx="317.1" cy="622.0" r="6.6" fill="#c7c7c7" stroke="#c7c7c7"/>
<circle cx="959.8" cy="560.8" r="6.6" fill="#c7c7c7" stroke="#c7c7c7"/>
<circle cx="809.5" cy="432.7" r="6.6" fill="#c7c7c7" stroke="#c7c7c7"/>
<circle cx="817.6" cy="447.9" r="6.6" fill="#c6c6c6" stroke="#c6c6c6"/>
<circle cx="480.9" cy="332.7" r="6.6" fill="#c6c6c6" stroke="#c6c6c6"/>
<circle cx="723.6" cy="530.5" r="6.6" fill="#c6c6c6" stroke="#c6c6c6"/>
<circle cx="310.3" cy="623.4" r="6.6" fill="#c6c6c6" stroke="#c6c6c6"/>
<circle cx="473.8" cy="362.5" r="6.6" fill="#c6c6c6" stroke="#c6c6c6"/>
<circle cx="788.7" cy="330.6" r="6.6" fill="#c6c6c6" stroke="#c6c6c6"/>
<circle cx="943.9" cy="517.8" r="6.6" fill="#c6c6c6" stroke="#c6c6c6"/>
<circle cx="590.5" cy="612.3" r="6.6" fill="#c6c6c6" stroke="#c6c6c6"/>
<circle cx="427.1" cy="278.6" r="6.6" fill="#c6c6c6" stroke="#c6c6c6"/>
<circle cx="386.7" cy="411.2" r="6.6" fill="#c6c6c6" stroke="#c6c6c6"/>
<circle cx="812.8" cy="305.0" r="6.6" fill="#c6c6c6" stroke="#c6c6c6"/>
<circle cx="826.2" cy="335.1" r="6.6" fill="#c6c6c6" stroke="#c6c6c6"/>
<circle cx="783.5" cy="351.0" r="6.6" fill="#c6c6c6" stroke="#c6c6c6"/>
<circle cx="815.3" cy="370.2" r="6.6" fill="#c6c6c6" stroke="#c6c6c6"/>
<circle cx="773.5" cy="378.5" r="6.6" fill="#c6c6c6" stroke="#c6c6c6"/>
<circle cx="851.3" cy="398.6" r="6.6" fill="#c6c6c6" stroke="#c6c6c6"/>
<circle cx="827.0" cy="416.9" r="6.6" fill="#c6c6c6" stroke="#c6c6c6"/>
<circle cx="848.7" cy="420.3" r="6.6" fill="#c6c6c6" stroke="#c6c6c6"/>
<circle cx="867.0" cy="410.3" r="6.6" fill="#c6c6c6" stroke="#c6c6c6"/>
<circle cx="982.6" cy="501.8" r="6.6" fill="#c6c6c6" stroke="#c6c6c6"/>
<circle cx="930.8" cy="574.6" r="6.6" fill="#c6c6c6" stroke="#c6c6c6"/>
<circle cx="790.9" cy="427.3" r="6.6" fill="#c6c6c6" stroke="#c6c6c6"/>
<circle cx="908.5" cy="576.0" r="6.6" fill="#c6c6c6" stroke="#c6c6c6"/>
<circle cx="880.5" cy="640.5" r="6.6" fill="#c6c6c6" stroke="#c6c6c6"/>
<circle cx="757.4" cy="512.6" r="6.6" fill="#c6c6c6" stroke="#c6c6c6"/>
<circle cx="703.0" cy="533.5" r="6.6" fill="#c6c6c6" stroke="#c6c6c6"/>
<circle cx="707.9" cy="576.6" r="6.6" fill="#c6c6c6" stroke="#c6c6c6"/>
<circle cx="852.2" cy="667.2" r="6.6" fill="#c6c6c6" stroke="#c6c6c6"/>
<circle cx="464.4" cy="337.2" r="6.6" fill="#c6c6c6" stroke="#c6c6c6"/>
<circle cx="700.6" cy="531.9" r="6.6" fill="#c6c6c6" stroke="#c6c6c6"/>
<circle cx="405.2" cy="357.5" r="6.6" fill="#c6c6c6" stroke="#c6c6c6"/>
<circle cx="484.5" cy="633.4" r="6.6" fill="#c6c6c6" stroke="#c6c6c6"/>
<circle cx="951.5" cy="560.5" r="6.6" fill="#c6c6c6" stroke="#c6c6c6"/>
<circle cx="711.0" cy="518.4" r="6.6" fill="#c6c6c6" stroke="#c6c6c6"/>
<circle cx="939.1" cy="458.2" r="6.6" fill="#c6c6c6" stroke="#c6c6c6"/>
<circle cx="725.1" cy="424.5" r="6.6" fill="#c6c6c6" stroke="#c6c6c6"/>
<circle cx="805.8" cy="440.7" r="6.6" fill="#c6c6c6" stroke="#c6c6c6"/>
<circle cx="818.9" cy="445.0" r="6.6" fill="#c6c6c6" stroke="#c6c6c6"/>
<circle cx="734.6" cy="465.0" r="6.6" fill="#c6c6c6" stroke="#c6c6c6"/>
<circle cx="987.5" cy="489.5" r="6.6" fill="#c5c5c5" stroke="#c5c5c5"/>
<circle cx="830.3" cy="692.4" r="6.6" fill="#c5c5c5" stroke="#c5c5c5"/>
<circle cx="693.9" cy="551.2" r="6.6" fill="#c5c5c5" stroke="#c5c5c5"/>
<circle cx="909.0" cy="502.3" r="6.6" fill="#c5c5c5" stroke="#c5c5c5"/>
<circle cx="783.0" cy="314.3" r="6.6" fill="#c5c5c5" stroke="#c5c5c5"/>
<circle cx="859.3" cy="425.9" r="6.6" fill="#c5c5c5" stroke="#c5c5c5"/>
<circle cx="910.4" cy="461.9" r="6.6" fill="#c5c5c5" stroke="#c5c5c5"/>
<circle cx="422.6" cy="359.8" r="6.6" fill="#c5c5c5" stroke="#c5c5c5"/>
<circle cx="801.4" cy="409.8" r="6.6" fill="#c5c5c5" stroke="#c5c5c5"/>
<circle cx="848.8" cy="468.2" r="6.6" fill="#c5c5c5" stroke="#c5c5c5"/>
<circle cx="700.2" cy="697.1" r="6.6" fill="#c5c5c5" stroke="#c5c5c5"/>
<circle cx="424.4" cy="344.7" r="6.6" fill="#c5c5c5" stroke="#c5c5c5"/>
<circle cx="797.5" cy="407.4" r="6.6" fill="#c5c5c5" stroke="#c5c5c5"/>
<circle cx="414.1" cy="407.7" r="6.6" fill="#c5c5c5" stroke="#c5c5c5"/>
<circle cx="392.1" cy="350.6" r="6.6" fill="#c5c5c5" stroke="#c5c5c5"/>
<circle cx="603.3" cy="594.7" r="6.6" fill="#c5c5c5" stroke="#c5c5c5"/>
<circle cx="765.9" cy="488.5" r="6.6" fill="#c5c5c5" stroke="#c5c5c5"/>
<circle cx="941.5" cy="587.6" r="6.6" fill="#c5c5c5" stroke="#c5c5c5"/>
<circle cx="402.0" cy="351.3" r="6.6" fill="#c4c4c4" stroke="#c4c4c4"/>
<circle cx="763.6" cy="418.4" r="6.6" fill="#c4c4c4" stroke="#c4c4c4"/>
<circle cx="342.4" cy="668.1" r="6.6" fill="#c4c4c4" stroke="#c4c4c4"/>
<circle cx="914.5" cy="549.2" r="6.6" fill="#c4c4c4" stroke="#c4c4c4"/>
<circle cx="705.9" cy="582.2" r="6.6" fill="#c4c4c4" stroke="#c4c4c4"/>
<circle cx="918.6" cy="565.6" r="6.6" fill="#c4c4c4" stroke="#c4c4c4"/>
<circle cx="445.7" cy="404.0" r="6.6" fill="#c4c4c4" stroke="#c4c4c4"/>
<circle cx="275.6" cy="599.2" r="6.6" fill="#c4c4c4" stroke="#c4c4c4"/>
<circle cx="397.6" cy="390.1" r="6.6" fill="#c4c4c4" stroke="#c4c4c4"/>
<circle cx="408.2" cy="216.6" r="6.6" fill="#c4c4c4" stroke="#c4c4c4"/>
<circle cx="377.7" cy="441.5" r="6.6" fill="#c4c4c4" stroke="#c4c4c4"/>
<circle cx="726.6" cy="476.4" r="6.6" fill="#c4c4c4" stroke="#c4c4c4"/>
<circle cx="485.3" cy="489.2" r="6.6" fill="#c4c4c4" stroke="#c4c4c4"/>
<circle cx="751.4" cy="439.2" r="6.6" fill="#c4c4c4" stroke="#c4c4c4"/>
<circle cx="586.3" cy="551.3" r="6.6" fill="#c4c4c4" stroke="#c4c4c4"/>
<circle cx="821.8" cy="490.1" r="6.6" fill="#c4c4c4" stroke="#c4c4c4"/>
<circle cx="756.7" cy="433.0" r="6.6" fill="#c4c4c4" stroke="#c4c4c4"/>
<circle cx="935.8" cy="518.8" r="6.6" fill="#c4c4c4" stroke="#c4c4c4"/>
<circle cx="364.0" cy="480.3" r="6.6" fill="#c3c3c3" stroke="#c3c3c3"/>
<circle cx="857.5" cy="454.7" r="6.6" fill="#c3c3c3" stroke="#c3c3c3"/>
<circle cx="834.5" cy="420.0" r="6.6" fill="#c3c3c3" stroke="#c3c3c3"/>
<circle cx="901.9" cy="494.9" r="6.6" fill="#c3c3c3" stroke="#c3c3c3"/>
<circle cx="618.7" cy="560.2" r="6.6" fill="#c3c3c3" stroke="#c3c3c3"/>
<circle cx="859.3" cy="418.7" r="6.6" fill="#c3c3c3" stroke="#c3c3c3"/>
<circle cx="910.0" cy="525.1" r="6.6" fill="#c3c3c3" stroke="#c3c3c3"/>
<circle cx="591.8" cy="573.5" r="6.6" fill="#c3c3c3" stroke="#c3c3c3"/>
<circle cx="738.0" cy="493.0" r="6.6" fill="#c3c3c3" stroke="#c3c3c3"/>
<circle cx="289.8" cy="625.7" r="6.6" fill="#c3c3c3" stroke="#c3c3c3"/>
<circle cx="434.8" cy="346.6" r="6.6" fill="#c3c3c3" stroke="#c3c3c3"/>
<circle cx="818.8" cy="458.7" r="6.6" fill="#c2c2c2" stroke="#c2c2c2"/>
<circle cx="290.2" cy="590.2" r="6.6" fill="#c2c2c2" stroke="#c2c2c2"/>
<circle cx="805.2" cy="460.0" r="6.6" fill="#c2c2c2" stroke="#c2c2c2"/>
<circle cx="415.5" cy="213.5" r="6.6" fill="#c2c2c2" stroke="#c2c2c2"/>
<circle cx="423.3" cy="240.4" r="6.6" fill="#c2c2c2" stroke="#c2c2c2"/>
<circle cx="436.5" cy="267.0" r="6.6" fill="#c2c2c2" stroke="#c2c2c2"/>
<circle cx="449.2" cy="287.0" r="6.6" fill="#c2c2c2" stroke="#c2c2c2"/>
<circle cx="257.9" cy="524.2" r="6.6" fill="#c2c2c2" stroke="#c2c2c2"/>
<circle cx="805.2" cy="175.2" r="6.6" fill="#c2c2c2" stroke="#c2c2c2"/>
<circle cx="802.7" cy="252.7" r="6.6" fill="#c2c2c2" stroke="#c2c2c2"/>
<circle cx="768.5" cy="346.8" r="6.6" fill="#c2c2c2" stroke="#c2c2c2"/>
<circle cx="783.5" cy="378.5" r="6.6" fill="#c2c2c2" stroke="#c2c2c2"/>
<circle cx="970.0" cy="461.2" r="6.6" fill="#c2c2c2" stroke="#c2c2c2"/>
<circle cx="978.4" cy="549.4" r="6.6" fill="#c2c2c2" stroke="#c2c2c2"/>
<circle cx="953.2" cy="539.6" r="6.6" fill="#c2c2c2" stroke="#c2c2c2"/>
<circle cx="743.9" cy="697.4" r="6.6" fill="#c2c2c2" stroke="#c2c2c2"/>
<circle cx="430.2" cy="422.0" r="6.6" fill="#c2c2c2" stroke="#c2c2c2"/>
<circle cx="304.3" cy="630.7" r="6.6" fill="#c1c1c1" stroke="#c1c1c1"/>
<circle cx="435.7" cy="391.8" r="6.6" fill="#c1c1c1" stroke="#c1c1c1"/>
<circle cx="897.4" cy="509.4" r="6.6" fill="#c1c1c1" stroke="#c1c1c1"/>
<circle cx="619.8" cy="587.2" r="6.6" fill="#c1c1c1" stroke="#c1c1c1"/>
<circle cx="928.7" cy="556.5" r="6.6" fill="#c1c1c1" stroke="#c1c1c1"/>
<circle cx="918.5" cy="510.9" r="6.6" fill="#c1c1c1" stroke="#c1c1c1"/>
<circle cx="788.7" cy="485.5" r="6.6" fill="#c1c1c1" stroke="#c1c1c1"/>
<circle cx="758.3" cy="450.8" r="6.6" fill="#c1c1c1" stroke="#c1c1c1"/>
<circle cx="919.0" cy="504.6" r="6.6" fill="#c1c1c1" stroke="#c1c1c1"/>
<circle cx="886.6" cy="474.0" r="6.6" fill="#c1c1c1" stroke="#c1c1c1"/>
<circle cx="950.6" cy="536.6" r="6.6" fill="#c1c1c1" stroke="#c1c1c1"/>
<circle cx="391.7" cy="374.0" r="6.6" fill="#c1c1c1" stroke="#c1c1c1"/>
<circle cx="805.3" cy="471.5" r="6.6" fill="#c1c1c1" stroke="#c1c1c1"/>
<circle cx="483.1" cy="397.0" r="6.6" fill="#c1c1c1" stroke="#c1c1c1"/>
<circle cx="851.1" cy="495.9" r="6.6" fill="#c1c1c1" stroke="#c1c1c1"/>
<circle cx="681.2" cy="475.8" r="6.6" fill="#c1c1c1" stroke="#c1c1c1"/>
<circle cx="710.5" cy="618.9" r="6.6" fill="#c1c1c1" stroke="#c1c1c1"/>
<circle cx="782.2" cy="324.3" r="6.6" fill="#c1c1c1" stroke="#c1c1c1"/>
<circle cx="848.4" cy="636.3" r="6.6" fill="#c1c1c1" stroke="#c1c1c1"/>
<circle cx="885.1" cy="635.6" r="6.6" fill="#c0c0c0" stroke="#c0c0c0"/>
<circle cx="904.3" cy="498.7" r="6.6" fill="#c0c0c0" stroke="#c0c0c0"/>
<circle cx="729.3" cy="456.3" r="6.6" fill="#c0c0c0" stroke="#c0c0c0"/>
<circle cx="307.4" cy="628.1" r="6.6" fill="#c0c0c0" stroke="#c0c0c0"/>
<circle cx="430.6" cy="341.4" r="6.6" fill="#c0c0c0" stroke="#c0c0c0"/>
<circle cx="903.3" cy="482.7" r="6.6" fill="#c0c0c0" stroke="#c0c0c0"/>
<circle cx="791.7" cy="424.8" r="6.6" fill="#c0c0c0" stroke="#c0c0c0"/>
<circle cx="417.0" cy="380.9" r="6.6" fill="#c0c0c0" stroke="#c0c0c0"/>
<circle cx="750.0" cy="492.9" r="6.6" fill="#c0c0c0" stroke="#c0c0c0"/>
<circle cx="304.6" cy="616.7" r="6.6" fill="#c0c0c0" stroke="#c0c0c0"/>
<circle cx="769.8" cy="505.5" r="6.6" fill="#bfbfbf" stroke="#bfbfbf"/>
<circle cx="708.5" cy="461.7" r="6.6" fill="#bfbfbf" stroke="#bfbfbf"/>
<circle cx="444.7" cy="416.0" r="6.6" fill="#bfbfbf" stroke="#bfbfbf"/>
<circle cx="962.9" cy="526.1" r="6.6" fill="#bfbfbf" stroke="#bfbfbf"/>
<circle cx="708.9" cy="704.7" r="6.6" fill="#bfbfbf" stroke="#bfbfbf"/>
<circle cx="739.9" cy="473.6" r="6.6" fill="#bfbfbf" stroke="#bfbfbf"/>
<circle cx="747.9" cy="390.6" r="6.6" fill="#bfbfbf" stroke="#bfbfbf"/>
<circle cx="688.4" cy="497.7" r="6.6" fill="#bfbfbf" stroke="#bfbfbf"/>
<circle cx="835.2" cy="677.6" r="6.6" fill="#bfbfbf" stroke="#bfbfbf"/>
<circle cx="748.0" cy="440.9" r="6.6" fill="#bfbfbf" stroke="#bfbfbf"/>
<circle cx="423.9" cy="210.3" r="6.6" fill="#bfbfbf" stroke="#bfbfbf"/>
<circle cx="436.5" cy="260.7" r="6.6" fill="#bfbfbf" stroke="#bfbfbf"/>
<circle cx="606.8" cy="561.0" r="6.6" fill="#bebebe" stroke="#bebebe"/>
<circle cx="656.0" cy="490.0" r="6.6" fill="#bebebe" stroke="#bebebe"/>
<circle cx="909.1" cy="607.9" r="6.6" fill="#bebebe" stroke="#bebebe"/>
<circle cx="254.7" cy="577.2" r="6.6" fill="#bebebe" stroke="#bebebe"/>
<circle cx="634.0" cy="570.5" r="6.6" fill="#bebebe" stroke="#bebebe"/>
<circle cx="303.6" cy="612.3" r="6.6" fill="#bebebe" stroke="#bebebe"/>
<circle cx="403.0" cy="432.0" r="6.6" fill="#bebebe" stroke="#bebebe"/>
<circle cx="597.6" cy="568.2" r="6.6" fill="#bebebe" stroke="#bebebe"/>
<circle cx="292.7" cy="597.4" r="6.6" fill="#bebebe" stroke="#bebebe"/>
<circle cx="759.3" cy="515.3" r="6.6" fill="#bdbdbd" stroke="#bdbdbd"/>
<circle cx="951.4" cy="514.0" r="6.6" fill="#bdbdbd" stroke="#bdbdbd"/>
<circle cx="577.2" cy="549.4" r="6.6" fill="#bdbdbd" stroke="#bdbdbd"/>
<circle cx="572.7" cy="553.0" r="6.6" fill="#bdbdbd" stroke="#bdbdbd"/>
<circle cx="921.4" cy="503.9" r="6.6" fill="#bdbdbd" stroke="#bdbdbd"/>
<circle cx="725.2" cy="364.4" r="6.6" fill="#bdbdbd" stroke="#bdbdbd"/>
<circle cx="754.7" cy="469.6" r="6.6" fill="#bdbdbd" stroke="#bdbdbd"/>
<circle cx="327.1" cy="632.9" r="6.6" fill="#bdbdbd" stroke="#bdbdbd"/>
<circle cx="301.1" cy="604.5" r="6.6" fill="#bdbdbd" stroke="#bdbdbd"/>
<circle cx="257.1" cy="574.4" r="6.6" fill="#bdbdbd" stroke="#bdbdbd"/>
<circle cx="884.0" cy="618.2" r="6.6" fill="#bdbdbd" stroke="#bdbdbd"/>
<circle cx="713.8" cy="424.9" r="6.6" fill="#bdbdbd" stroke="#bdbdbd"/>
<circle cx="841.1" cy="419.9" r="6.6" fill="#bcbcbc" stroke="#bcbcbc"/>
<circle cx="718.2" cy="472.3" r="6.6" fill="#bcbcbc" stroke="#bcbcbc"/>
<circle cx="915.7" cy="512.0" r="6.6" fill="#bcbcbc" stroke="#bcbcbc"/>
<circle cx="448.3" cy="365.2" r="6.6" fill="#bcbcbc" stroke="#bcbcbc"/>
<circle cx="835.5" cy="414.9" r="6.6" fill="#bcbcbc" stroke="#bcbcbc"/>
<circle cx="419.7" cy="373.8" r="6.6" fill="#bcbcbc" stroke="#bcbcbc"/>
<circle cx="696.0" cy="457.6" r="6.6" fill="#bcbcbc" stroke="#bcbcbc"/>
<circle cx="941.7" cy="569.0" r="6.6" fill="#bcbcbc" stroke="#bcbcbc"/>
<circle cx="971.6" cy="544.3" r="6.6" fill="#bcbcbc" stroke="#bcbcbc"/>
<circle cx="859.1" cy="655.2" r="6.6" fill="#bcbcbc" stroke="#bcbcbc"/>
<circle cx="639.6" cy="546.1" r="6.6" fill="#bbbbbb" stroke="#bbbbbb"/>
<circle cx="794.5" cy="171.0" r="6.6" fill="#bbbbbb" stroke="#bbbbbb"/>
<circle cx="920.0" cy="495.6" r="6.6" fill="#bbbbbb" stroke="#bbbbbb"/>
<circle cx="438.7" cy="418.0" r="6.6" fill="#bbbbbb" stroke="#bbbbbb"/>
<circle cx="580.0" cy="532.5" r="6.6" fill="#bbbbbb" stroke="#bbbbbb"/>
<circle cx="584.0" cy="551.0" r="6.6" fill="#bbbbbb" stroke="#bbbbbb"/>
<circle cx="752.4" cy="480.2" r="6.6" fill="#bbbbbb" stroke="#bbbbbb"/>
<circle cx="600.1" cy="568.1" r="6.6" fill="#bbbbbb" stroke="#bbbbbb"/>
<circle cx="855.8" cy="470.2" r="6.6" fill="#bbbbbb" stroke="#bbbbbb"/>
<circle cx="952.8" cy="523.1" r="6.6" fill="#bababa" stroke="#bababa"/>
<circle cx="405.4" cy="421.0" r="6.6" fill="#bababa" stroke="#bababa"/>
<circle cx="889.0" cy="633.5" r="6.6" fill="#bababa" stroke="#bababa"/>
<circle cx="387.3" cy="464.0" r="6.6" fill="#bababa" stroke="#bababa"/>
<circle cx="725.1" cy="451.3" r="6.6" fill="#bababa" stroke="#bababa"/>
<circle cx="481.3" cy="360.2" r="6.6" fill="#bababa" stroke="#bababa"/>
<circle cx="788.8" cy="446.6" r="6.6" fill="#bababa" stroke="#bababa"/>
<circle cx="828.2" cy="410.6" r="6.6" fill="#bababa" stroke="#bababa"/>
<circle cx="938.7" cy="527.2" r="6.6" fill="#bababa" stroke="#bababa"/>
<circle cx="686.9" cy="538.0" r="6.6" fill="#b9b9b9" stroke="#b9b9b9"/>
<circle cx="694.7" cy="480.1" r="6.6" fill="#b9b9b9" stroke="#b9b9b9"/>
<circle cx="859.7" cy="669.4" r="6.6" fill="#b9b9b9" stroke="#b9b9b9"/>
<circle cx="239.2" cy="527.0" r="6.6" fill="#b9b9b9" stroke="#b9b9b9"/>
<circle cx="793.7" cy="164.5" r="6.6" fill="#b9b9b9" stroke="#b9b9b9"/>
<circle cx="811.7" cy="305.0" r="6.6" fill="#b9b9b9" stroke="#b9b9b9"/>
<circle cx="761.9" cy="312.3" r="6.6" fill="#b9b9b9" stroke="#b9b9b9"/>
<circle cx="788.6" cy="319.2" r="6.6" fill="#b9b9b9" stroke="#b9b9b9"/>
<circle cx="745.1" cy="342.6" r="6.6" fill="#b9b9b9" stroke="#b9b9b9"/>
<circle cx="707.5" cy="451.5" r="6.6" fill="#b9b9b9" stroke="#b9b9b9"/>
<circle cx="642.4" cy="554.3" r="6.6" fill="#b9b9b9" stroke="#b9b9b9"/>
<circle cx="713.7" cy="430.1" r="6.6" fill="#b9b9b9" stroke="#b9b9b9"/>
<circle cx="742.1" cy="484.9" r="6.6" fill="#b9b9b9" stroke="#b9b9b9"/>
<circle cx="613.8" cy="634.6" r="6.6" fill="#b9b9b9" stroke="#b9b9b9"/>
<circle cx="830.1" cy="684.1" r="6.6" fill="#b9b9b9" stroke="#b9b9b9"/>
<circle cx="691.0" cy="561.3" r="6.6" fill="#b9b9b9" stroke="#b9b9b9"/>
<circle cx="457.9" cy="349.6" r="6.6" fill="#b9b9b9" stroke="#b9b9b9"/>
<circle cx="451.5" cy="399.3" r="6.6" fill="#b9b9b9" stroke="#b9b9b9"/>
<circle cx="726.7" cy="540.3" r="6.6" fill="#b9b9b9" stroke="#b9b9b9"/>
<circle cx="795.9" cy="346.3" r="6.6" fill="#b9b9b9" stroke="#b9b9b9"/>
<circle cx="682.2" cy="503.0" r="6.6" fill="#b9b9b9" stroke="#b9b9b9"/>
<circle cx="413.8" cy="381.3" r="6.6" fill="#b8b8b8" stroke="#b8b8b8"/>
<circle cx="303.9" cy="628.3" r="6.6" fill="#b8b8b8" stroke="#b8b8b8"/>
<circle cx="743.3" cy="449.7" r="6.6" fill="#b8b8b8" stroke="#b8b8b8"/>
<circle cx="402.5" cy="382.0" r="6.6" fill="#b8b8b8" stroke="#b8b8b8"/>
<circle cx="788.9" cy="472.6" r="6.6" fill="#b8b8b8" stroke="#b8b8b8"/>
<circle cx="738.9" cy="440.4" r="6.6" fill="#b8b8b8" stroke="#b8b8b8"/>
<circle cx="794.5" cy="462.9" r="6.6" fill="#b8b8b8" stroke="#b8b8b8"/>
<circle cx="427.8" cy="417.4" r="6.6" fill="#b8b8b8" stroke="#b8b8b8"/>
<circle cx="413.8" cy="355.7" r="6.6" fill="#b8b8b8" stroke="#b8b8b8"/>
<circle cx="693.3" cy="485.6" r="6.6" fill="#b8b8b8" stroke="#b8b8b8"/>
<circle cx="282.6" cy="623.7" r="6.6" fill="#b8b8b8" stroke="#b8b8b8"/>
<circle cx="770.1" cy="464.3" r="6.6" fill="#b8b8b8" stroke="#b8b8b8"/>
<circle cx="946.3" cy="572.3" r="6.6" fill="#b8b8b8" stroke="#b8b8b8"/>
<circle cx="391.8" cy="456.0" r="6.6" fill="#b8b8b8" stroke="#b8b8b8"/>
<circle cx="789.4" cy="461.1" r="6.6" fill="#b7b7b7" stroke="#b7b7b7"/>
<circle cx="584.4" cy="553.0" r="6.6" fill="#b7b7b7" stroke="#b7b7b7"/>
<circle cx="734.8" cy="528.3" r="6.6" fill="#b7b7b7" stroke="#b7b7b7"/>
<circle cx="700.4" cy="677.7" r="6.6" fill="#b7b7b7" stroke="#b7b7b7"/>
<circle cx="733.1" cy="437.6" r="6.6" fill="#b7b7b7" stroke="#b7b7b7"/>
<circle cx="404.1" cy="420.0" r="6.6" fill="#b7b7b7" stroke="#b7b7b7"/>
<circle cx="759.3" cy="373.8" r="6.6" fill="#b7b7b7" stroke="#b7b7b7"/>
<circle cx="814.4" cy="501.0" r="6.6" fill="#b7b7b7" stroke="#b7b7b7"/>
<circle cx="690.0" cy="571.0" r="6.6" fill="#b7b7b7" stroke="#b7b7b7"/>
<circle cx="784.5" cy="428.7" r="6.6" fill="#b6b6b6" stroke="#b6b6b6"/>
<circle cx="797.4" cy="690.1" r="6.6" fill="#b6b6b6" stroke="#b6b6b6"/>
<circle cx="607.7" cy="655.1" r="6.6" fill="#b6b6b6" stroke="#b6b6b6"/>
<circle cx="829.7" cy="502.6" r="6.6" fill="#b6b6b6" stroke="#b6b6b6"/>
<circle cx="383.8" cy="462.2" r="6.6" fill="#b6b6b6" stroke="#b6b6b6"/>
<circle cx="707.7" cy="542.7" r="6.6" fill="#b6b6b6" stroke="#b6b6b6"/>
<circle cx="921.9" cy="497.0" r="6.6" fill="#b6b6b6" stroke="#b6b6b6"/>
<circle cx="953.9" cy="528.4" r="6.6" fill="#b6b6b6" stroke="#b6b6b6"/>
<circle cx="646.4" cy="537.3" r="6.6" fill="#b6b6b6" stroke="#b6b6b6"/>
<circle cx="743.8" cy="521.3" r="6.6" fill="#b6b6b6" stroke="#b6b6b6"/>
<circle cx="476.5" cy="375.4" r="6.6" fill="#b6b6b6" stroke="#b6b6b6"/>
<circle cx="378.4" cy="467.9" r="6.6" fill="#b6b6b6" stroke="#b6b6b6"/>
<circle cx="846.6" cy="458.1" r="6.6" fill="#b6b6b6" stroke="#b6b6b6"/>
<circle cx="906.9" cy="536.9" r="6.6" fill="#b6b6b6" stroke="#b6b6b6"/>
<circle cx="749.2" cy="416.8" r="6.6" fill="#b6b6b6" stroke="#b6b6b6"/>
<circle cx="718.8" cy="493.8" r="6.6" fill="#b6b6b6" stroke="#b6b6b6"/>
<circle cx="788.5" cy="689.4" r="6.6" fill="#b6b6b6" stroke="#b6b6b6"/>
<circle cx="637.3" cy="545.8" r="6.6" fill="#b5b5b5" stroke="#b5b5b5"/>
<circle cx="444.0" cy="331.4" r="6.6" fill="#b5b5b5" stroke="#b5b5b5"/>
<circle cx="635.7" cy="545.0" r="6.6" fill="#b5b5b5" stroke="#b5b5b5"/>
<circle cx="940.9" cy="598.1" r="6.6" fill="#b5b5b5" stroke="#b5b5b5"/>
<circle cx="403.1" cy="355.5" r="6.6" fill="#b5b5b5" stroke="#b5b5b5"/>
<circle cx="591.7" cy="560.2" r="6.6" fill="#b5b5b5" stroke="#b5b5b5"/>
<circle cx="878.2" cy="514.9" r="6.6" fill="#b5b5b5" stroke="#b5b5b5"/>
<circle cx="909.9" cy="485.4" r="6.6" fill="#b5b5b5" stroke="#b5b5b5"/>
<circle cx="696.8" cy="617.8" r="6.6" fill="#b5b5b5" stroke="#b5b5b5"/>
<circle cx="477.1" cy="377.7" r="6.6" fill="#b5b5b5" stroke="#b5b5b5"/>
<circle cx="695.5" cy="587.2" r="6.6" fill="#b5b5b5" stroke="#b5b5b5"/>
<circle cx="409.5" cy="700.8" r="6.6" fill="#b5b5b5" stroke="#b5b5b5"/>
<circle cx="842.8" cy="422.0" r="6.6" fill="#b5b5b5" stroke="#b5b5b5"/>
<circle cx="765.4" cy="461.0" r="6.6" fill="#b5b5b5" stroke="#b5b5b5"/>
<circle cx="704.3" cy="582.6" r="6.6" fill="#b5b5b5" stroke="#b5b5b5"/>
<circle cx="793.0" cy="471.4" r="6.6" fill="#b5b5b5" stroke="#b5b5b5"/>
<circle cx="734.4" cy="456.4" r="6.6" fill="#b5b5b5" stroke="#b5b5b5"/>
<circle cx="571.3" cy="554.4" r="6.6" fill="#b5b5b5" stroke="#b5b5b5"/>
<circle cx="920.4" cy="606.1" r="6.6" fill="#b5b5b5" stroke="#b5b5b5"/>
<circle cx="745.5" cy="509.3" r="6.6" fill="#b5b5b5" stroke="#b5b5b5"/>
<circle cx="706.1" cy="460.6" r="6.6" fill="#b5b5b5" stroke="#b5b5b5"/>
<circle cx="705.8" cy="460.5" r="6.6" fill="#b5b5b5" stroke="#b5b5b5"/>
<circle cx="706.2" cy="600.8" r="6.6" fill="#b5b5b5" stroke="#b5b5b5"/>
<circle cx="937.0" cy="514.6" r="6.6" fill="#b4b4b4" stroke="#b4b4b4"/>
<circle cx="742.1" cy="477.6" r="6.6" fill="#b4b4b4" stroke="#b4b4b4"/>
<circle cx="391.2" cy="456.6" r="6.6" fill="#b4b4b4" stroke="#b4b4b4"/>
<circle cx="838.8" cy="432.9" r="6.6" fill="#b4b4b4" stroke="#b4b4b4"/>
<circle cx="578.9" cy="579.4" r="6.6" fill="#b4b4b4" stroke="#b4b4b4"/>
<circle cx="721.0" cy="525.8" r="6.6" fill="#b4b4b4" stroke="#b4b4b4"/>
<circle cx="750.8" cy="328.8" r="6.6" fill="#b4b4b4" stroke="#b4b4b4"/>
<circle cx="708.1" cy="608.8" r="6.6" fill="#b4b4b4" stroke="#b4b4b4"/>
<circle cx="581.3" cy="585.1" r="6.6" fill="#b4b4b4" stroke="#b4b4b4"/>
<circle cx="938.8" cy="531.6" r="6.6" fill="#b3b3b3" stroke="#b3b3b3"/>
<circle cx="768.4" cy="286.2" r="6.6" fill="#b3b3b3" stroke="#b3b3b3"/>
<circle cx="791.3" cy="303.3" r="6.6" fill="#b3b3b3" stroke="#b3b3b3"/>
<circle cx="790.2" cy="304.2" r="6.6" fill="#b3b3b3" stroke="#b3b3b3"/>
<circle cx="773.5" cy="331.7" r="6.6" fill="#b3b3b3" stroke="#b3b3b3"/>
<circle cx="770.2" cy="369.3" r="6.6" fill="#b3b3b3" stroke="#b3b3b3"/>
<circle cx="745.1" cy="401.9" r="6.6" fill="#b3b3b3" stroke="#b3b3b3"/>
<circle cx="807.0" cy="410.3" r="6.6" fill="#b3b3b3" stroke="#b3b3b3"/>
<circle cx="726.1" cy="480.9" r="6.6" fill="#b3b3b3" stroke="#b3b3b3"/>
<circle cx="788.6" cy="507.2" r="6.6" fill="#b3b3b3" stroke="#b3b3b3"/>
<circle cx="695.8" cy="542.0" r="6.6" fill="#b3b3b3" stroke="#b3b3b3"/>
<circle cx="910.9" cy="541.7" r="6.6" fill="#b3b3b3" stroke="#b3b3b3"/>
<circle cx="281.7" cy="587.5" r="6.6" fill="#b3b3b3" stroke="#b3b3b3"/>
<circle cx="806.8" cy="453.9" r="6.6" fill="#b3b3b3" stroke="#b3b3b3"/>
<circle cx="410.3" cy="326.6" r="6.6" fill="#b3b3b3" stroke="#b3b3b3"/>
<circle cx="747.5" cy="696.4" r="6.6" fill="#b3b3b3" stroke="#b3b3b3"/>
<circle cx="911.9" cy="525.1" r="6.6" fill="#b3b3b3" stroke="#b3b3b3"/>
<circle cx="844.4" cy="661.6" r="6.6" fill="#b3b3b3" stroke="#b3b3b3"/>
<circle cx="930.0" cy="557.8" r="6.6" fill="#b2b2b2" stroke="#b2b2b2"/>
<circle cx="876.4" cy="493.4" r="6.6" fill="#b2b2b2" stroke="#b2b2b2"/>
<circle cx="745.5" cy="384.0" r="6.6" fill="#b2b2b2" stroke="#b2b2b2"/>
<circle cx="313.5" cy="640.3" r="6.6" fill="#b2b2b2" stroke="#b2b2b2"/>
<circle cx="692.0" cy="427.9" r="6.6" fill="#b2b2b2" stroke="#b2b2b2"/>
<circle cx="299.7" cy="611.7" r="6.6" fill="#b2b2b2" stroke="#b2b2b2"/>
<circle cx="708.0" cy="680.8" r="6.6" fill="#b2b2b2" stroke="#b2b2b2"/>
<circle cx="696.0" cy="523.4" r="6.6" fill="#b2b2b2" stroke="#b2b2b2"/>
<circle cx="906.7" cy="619.5" r="6.6" fill="#b2b2b2" stroke="#b2b2b2"/>
<circle cx="629.5" cy="553.9" r="6.6" fill="#b2b2b2" stroke="#b2b2b2"/>
<circle cx="437.0" cy="393.4" r="6.6" fill="#b2b2b2" stroke="#b2b2b2"/>
<circle cx="962.8" cy="526.7" r="6.6" fill="#b1b1b1" stroke="#b1b1b1"/>
<circle cx="624.4" cy="612.6" r="6.6" fill="#b1b1b1" stroke="#b1b1b1"/>
<circle cx="773.7" cy="308.9" r="6.6" fill="#b1b1b1" stroke="#b1b1b1"/>
<circle cx="730.6" cy="448.1" r="6.6" fill="#b1b1b1" stroke="#b1b1b1"/>
<circle cx="410.5" cy="189.5" r="6.6" fill="#b1b1b1" stroke="#b1b1b1"/>
<circle cx="864.6" cy="516.7" r="6.6" fill="#b1b1b1" stroke="#b1b1b1"/>
<circle cx="745.8" cy="443.6" r="6.6" fill="#b1b1b1" stroke="#b1b1b1"/>
<circle cx="622.3" cy="597.1" r="6.6" fill="#b1b1b1" stroke="#b1b1b1"/>
<circle cx="370.1" cy="473.9" r="6.6" fill="#b1b1b1" stroke="#b1b1b1"/>
<circle cx="839.6" cy="641.5" r="6.6" fill="#b1b1b1" stroke="#b1b1b1"/>
<circle cx="314.6" cy="527.3" r="6.6" fill="#b1b1b1" stroke="#b1b1b1"/>
<circle cx="705.1" cy="679.3" r="6.6" fill="#b1b1b1" stroke="#b1b1b1"/>
<circle cx="907.2" cy="622.8" r="6.6" fill="#b1b1b1" stroke="#b1b1b1"/>
<circle cx="704.8" cy="581.2" r="6.6" fill="#b1b1b1" stroke="#b1b1b1"/>
<circle cx="417.9" cy="389.4" r="6.6" fill="#b1b1b1" stroke="#b1b1b1"/>
<circle cx="914.8" cy="578.1" r="6.6" fill="#b0b0b0" stroke="#b0b0b0"/>
<circle cx="850.4" cy="665.8" r="6.6" fill="#b0b0b0" stroke="#b0b0b0"/>
<circle cx="722.3" cy="389.3" r="6.6" fill="#b0b0b0" stroke="#b0b0b0"/>
<circle cx="930.0" cy="543.6" r="6.6" fill="#b0b0b0" stroke="#b0b0b0"/>
<circle cx="765.1" cy="232.3" r="6.6" fill="#b0b0b0" stroke="#b0b0b0"/>
<circle cx="744.6" cy="530.2" r="6.6" fill="#b0b0b0" stroke="#b0b0b0"/>
<circle cx="483.3" cy="339.2" r="6.6" fill="#b0b0b0" stroke="#b0b0b0"/>
<circle cx="249.6" cy="526.3" r="6.6" fill="#b0b0b0" stroke="#b0b0b0"/>
<circle cx="831.7" cy="496.7" r="6.6" fill="#b0b0b0" stroke="#b0b0b0"/>
<circle cx="599.3" cy="633.0" r="6.6" fill="#b0b0b0" stroke="#b0b0b0"/>
<circle cx="762.8" cy="435.0" r="6.6" fill="#b0b0b0" stroke="#b0b0b0"/>
<circle cx="924.9" cy="564.6" r="6.6" fill="#b0b0b0" stroke="#b0b0b0"/>
<circle cx="943.9" cy="519.8" r="6.6" fill="#b0b0b0" stroke="#b0b0b0"/>
<circle cx="638.0" cy="541.9" r="6.6" fill="#afafaf" stroke="#afafaf"/>
<circle cx="304.0" cy="620.3" r="6.6" fill="#afafaf" stroke="#afafaf"/>
<circle cx="701.5" cy="552.9" r="6.6" fill="#afafaf" stroke="#afafaf"/>
<circle cx="474.3" cy="346.4" r="6.6" fill="#afafaf" stroke="#afafaf"/>
<circle cx="737.4" cy="508.1" r="6.6" fill="#afafaf" stroke="#afafaf"/>
<circle cx="903.7" cy="571.3" r="6.6" fill="#afafaf" stroke="#afafaf"/>
<circle cx="290.1" cy="597.6" r="6.6" fill="#afafaf" stroke="#afafaf"/>
<circle cx="715.5" cy="444.2" r="6.6" fill="#afafaf" stroke="#afafaf"/>
<circle cx="601.5" cy="611.7" r="6.6" fill="#afafaf" stroke="#afafaf"/>
<circle cx="740.2" cy="500.4" r="6.6" fill="#afafaf" stroke="#afafaf"/>
<circle cx="607.6" cy="596.5" r="6.6" fill="#afafaf" stroke="#afafaf"/>
<circle cx="597.5" cy="605.2" r="6.6" fill="#afafaf" stroke="#afafaf"/>
<circle cx="338.0" cy="517.4" r="6.6" fill="#afafaf" stroke="#afafaf"/>
<circle cx="830.0" cy="503.2" r="6.6" fill="#afafaf" stroke="#afafaf"/>
<circle cx="772.5" cy="700.4" r="6.6" fill="#aeaeae" stroke="#aeaeae"/>
<circle cx="813.9" cy="684.4" r="6.6" fill="#aeaeae" stroke="#aeaeae"/>
<circle cx="617.8" cy="550.7" r="6.6" fill="#aeaeae" stroke="#aeaeae"/>
<circle cx="687.7" cy="563.6" r="6.6" fill="#aeaeae" stroke="#aeaeae"/>
<circle cx="689.0" cy="538.0" r="6.6" fill="#aeaeae" stroke="#aeaeae"/>
<circle cx="846.5" cy="662.1" r="6.6" fill="#aeaeae" stroke="#aeaeae"/>
<circle cx="823.4" cy="669.1" r="6.6" fill="#aeaeae" stroke="#aeaeae"/>
<circle cx="713.9" cy="522.0" r="6.6" fill="#aeaeae" stroke="#aeaeae"/>
<circle cx="871.7" cy="488.4" r="6.6" fill="#aeaeae" stroke="#aeaeae"/>
<circle cx="765.9" cy="443.3" r="6.6" fill="#adadad" stroke="#adadad"/>
<circle cx="785.8" cy="449.6" r="6.6" fill="#adadad" stroke="#adadad"/>
<circle cx="272.6" cy="569.0" r="6.6" fill="#adadad" stroke="#adadad"/>
<circle cx="421.6" cy="337.2" r="6.6" fill="#adadad" stroke="#adadad"/>
<circle cx="482.2" cy="338.4" r="6.6" fill="#adadad" stroke="#adadad"/>
<circle cx="615.9" cy="590.7" r="6.6" fill="#adadad" stroke="#adadad"/>
<circle cx="898.1" cy="590.6" r="6.6" fill="#adadad" stroke="#adadad"/>
<circle cx="435.3" cy="328.6" r="6.6" fill="#adadad" stroke="#adadad"/>
<circle cx="399.3" cy="391.1" r="6.6" fill="#adadad" stroke="#adadad"/>
<circle cx="843.8" cy="660.1" r="6.6" fill="#adadad" stroke="#adadad"/>
<circle cx="935.2" cy="502.8" r="6.6" fill="#adadad" stroke="#adadad"/>
<circle cx="315.2" cy="653.6" r="6.6" fill="#adadad" stroke="#adadad"/>
<circle cx="703.7" cy="617.6" r="6.6" fill="#acacac" stroke="#acacac"/>
<circle cx="592.1" cy="609.1" r="6.6" fill="#acacac" stroke="#acacac"/>
<circle cx="696.8" cy="450.2" r="6.6" fill="#acacac" stroke="#acacac"/>
<circle cx="598.5" cy="586.0" r="6.6" fill="#acacac" stroke="#acacac"/>
<circle cx="440.7" cy="344.5" r="6.6" fill="#acacac" stroke="#acacac"/>
<circle cx="831.3" cy="495.2" r="6.6" fill="#acacac" stroke="#acacac"/>
<circle cx="712.1" cy="419.6" r="6.6" fill="#ababab" stroke="#ababab"/>
<circle cx="920.5" cy="605.9" r="6.6" fill="#ababab" stroke="#ababab"/>
<circle cx="837.3" cy="482.0" r="6.6" fill="#ababab" stroke="#ababab"/>
<circle cx="441.5" cy="353.4" r="6.6" fill="#ababab" stroke="#ababab"/>
<circle cx="912.9" cy="598.8" r="6.6" fill="#ababab" stroke="#ababab"/>
<circle cx="612.7" cy="614.8" r="6.6" fill="#ababab" stroke="#ababab"/>
<circle cx="882.0" cy="486.3" r="6.6" fill="#ababab" stroke="#ababab"/>
<circle cx="744.4" cy="521.9" r="6.6" fill="#ababab" stroke="#ababab"/>
<circle cx="601.8" cy="611.1" r="6.6" fill="#ababab" stroke="#ababab"/>
<circle cx="736.4" cy="494.8" r="6.6" fill="#ababab" stroke="#ababab"/>
<circle cx="611.6" cy="565.3" r="6.6" fill="#ababab" stroke="#ababab"/>
<circle cx="436.0" cy="339.6" r="6.6" fill="#ababab" stroke="#ababab"/>
<circle cx="688.6" cy="460.8" r="6.6" fill="#ababab" stroke="#ababab"/>
<circle cx="754.3" cy="410.9" r="6.6" fill="#ababab" stroke="#ababab"/>
<circle cx="824.1" cy="443.3" r="6.6" fill="#ababab" stroke="#ababab"/>
<circle cx="619.8" cy="590.6" r="6.6" fill="#ababab" stroke="#ababab"/>
<circle cx="923.7" cy="587.1" r="6.6" fill="#ababab" stroke="#ababab"/>
<circle cx="748.4" cy="526.4" r="6.6" fill="#ababab" stroke="#ababab"/>
<circle cx="312.9" cy="653.0" r="6.6" fill="#ababab" stroke="#ababab"/>
<circle cx="833.0" cy="648.8" r="6.6" fill="#aaaaaa" stroke="#aaaaaa"/>
<circle cx="837.9" cy="424.5" r="6.6" fill="#aaaaaa" stroke="#aaaaaa"/>
<circle cx="707.6" cy="477.3" r="6.6" fill="#aaaaaa" stroke="#aaaaaa"/>
<circle cx="695.8" cy="656.3" r="6.6" fill="#aaaaaa" stroke="#aaaaaa"/>
<circle cx="429.6" cy="361.7" r="6.6" fill="#aaaaaa" stroke="#aaaaaa"/>
<circle cx="795.8" cy="441.5" r="6.6" fill="#aaaaaa" stroke="#aaaaaa"/>
<circle cx="591.0" cy="567.0" r="6.6" fill="#aaaaaa" stroke="#aaaaaa"/>
<circle cx="768.6" cy="478.3" r="6.6" fill="#aaaaaa" stroke="#aaaaaa"/>
<circle cx="910.3" cy="582.9" r="6.6" fill="#aaaaaa" stroke="#aaaaaa"/>
<circle cx="414.1" cy="366.6" r="6.6" fill="#aaaaaa" stroke="#aaaaaa"/>
<circle cx="584.2" cy="591.9" r="6.6" fill="#aaaaaa" stroke="#aaaaaa"/>
<circle cx="885.0" cy="632.2" r="6.6" fill="#a9a9a9" stroke="#a9a9a9"/>
<circle cx="695.0" cy="540.0" r="6.6" fill="#a9a9a9" stroke="#a9a9a9"/>
<circle cx="772.7" cy="428.7" r="6.6" fill="#a9a9a9" stroke="#a9a9a9"/>
<circle cx="860.1" cy="481.6" r="6.6" fill="#a9a9a9" stroke="#a9a9a9"/>
<circle cx="773.8" cy="396.5" r="6.6" fill="#a9a9a9" stroke="#a9a9a9"/>
<circle cx="727.2" cy="496.1" r="6.6" fill="#a9a9a9" stroke="#a9a9a9"/>
<circle cx="630.4" cy="595.0" r="6.6" fill="#a9a9a9" stroke="#a9a9a9"/>
<circle cx="606.2" cy="612.9" r="6.6" fill="#a9a9a9" stroke="#a9a9a9"/>
<circle cx="729.3" cy="390.9" r="6.6" fill="#a9a9a9" stroke="#a9a9a9"/>
<circle cx="725.3" cy="513.3" r="6.6" fill="#a9a9a9" stroke="#a9a9a9"/>
<circle cx="786.9" cy="316.1" r="6.6" fill="#a9a9a9" stroke="#a9a9a9"/>
<circle cx="614.2" cy="598.9" r="6.6" fill="#a8a8a8" stroke="#a8a8a8"/>
<circle cx="738.8" cy="698.7" r="6.6" fill="#a8a8a8" stroke="#a8a8a8"/>
<circle cx="863.3" cy="483.0" r="6.6" fill="#a8a8a8" stroke="#a8a8a8"/>
<circle cx="838.5" cy="479.7" r="6.6" fill="#a8a8a8" stroke="#a8a8a8"/>
<circle cx="685.2" cy="528.4" r="6.6" fill="#a8a8a8" stroke="#a8a8a8"/>
<circle cx="489.4" cy="704.3" r="6.6" fill="#a8a8a8" stroke="#a8a8a8"/>
<circle cx="733.7" cy="422.9" r="6.6" fill="#a8a8a8" stroke="#a8a8a8"/>
<circle cx="906.7" cy="549.3" r="6.6" fill="#a8a8a8" stroke="#a8a8a8"/>
<circle cx="834.6" cy="430.9" r="6.6" fill="#a8a8a8" stroke="#a8a8a8"/>
<circle cx="739.8" cy="507.3" r="6.6" fill="#a8a8a8" stroke="#a8a8a8"/>
<circle cx="851.5" cy="654.6" r="6.6" fill="#a8a8a8" stroke="#a8a8a8"/>
<circle cx="839.7" cy="456.3" r="6.6" fill="#a8a8a8" stroke="#a8a8a8"/>
<circle cx="585.3" cy="580.7" r="6.6" fill="#a8a8a8" stroke="#a8a8a8"/>
<circle cx="684.8" cy="530.9" r="6.6" fill="#a8a8a8" stroke="#a8a8a8"/>
<circle cx="881.8" cy="647.8" r="6.6" fill="#a8a8a8" stroke="#a8a8a8"/>
<circle cx="901.6" cy="575.1" r="6.6" fill="#a7a7a7" stroke="#a7a7a7"/>
<circle cx="602.6" cy="578.2" r="6.6" fill="#a7a7a7" stroke="#a7a7a7"/>
<circle cx="851.0" cy="634.9" r="6.6" fill="#a7a7a7" stroke="#a7a7a7"/>
<circle cx="788.0" cy="279.6" r="6.6" fill="#a7a7a7" stroke="#a7a7a7"/>
<circle cx="782.4" cy="481.8" r="6.6" fill="#a7a7a7" stroke="#a7a7a7"/>
<circle cx="718.5" cy="512.9" r="6.6" fill="#a7a7a7" stroke="#a7a7a7"/>
<circle cx="911.2" cy="534.9" r="6.6" fill="#a7a7a7" stroke="#a7a7a7"/>
<circle cx="717.1" cy="462.5" r="6.6" fill="#a7a7a7" stroke="#a7a7a7"/>
<circle cx="948.4" cy="574.4" r="6.6" fill="#a7a7a7" stroke="#a7a7a7"/>
<circle cx="464.4" cy="396.6" r="6.6" fill="#a7a7a7" stroke="#a7a7a7"/>
<circle cx="294.4" cy="629.7" r="6.6" fill="#a7a7a7" stroke="#a7a7a7"/>
<circle cx="846.0" cy="651.1" r="6.6" fill="#a7a7a7" stroke="#a7a7a7"/>
<circle cx="706.2" cy="474.5" r="6.6" fill="#a7a7a7" stroke="#a7a7a7"/>
<circle cx="402.7" cy="335.0" r="6.6" fill="#a6a6a6" stroke="#a6a6a6"/>
<circle cx="324.2" cy="662.8" r="6.6" fill="#a6a6a6" stroke="#a6a6a6"/>
<circle cx="785.9" cy="308.0" r="6.6" fill="#a6a6a6" stroke="#a6a6a6"/>
<circle cx="420.8" cy="397.1" r="6.6" fill="#a6a6a6" stroke="#a6a6a6"/>
<circle cx="407.0" cy="350.8" r="6.6" fill="#a6a6a6" stroke="#a6a6a6"/>
<circle cx="889.6" cy="642.2" r="6.6" fill="#a6a6a6" stroke="#a6a6a6"/>
<circle cx="847.5" cy="650.9" r="6.6" fill="#a6a6a6" stroke="#a6a6a6"/>
<circle cx="758.8" cy="454.7" r="6.6" fill="#a6a6a6" stroke="#a6a6a6"/>
<circle cx="782.1" cy="315.7" r="6.6" fill="#a6a6a6" stroke="#a6a6a6"/>
<circle cx="368.6" cy="464.3" r="6.6" fill="#a6a6a6" stroke="#a6a6a6"/>
<circle cx="696.1" cy="446.7" r="6.6" fill="#a6a6a6" stroke="#a6a6a6"/>
<circle cx="697.6" cy="499.0" r="6.6" fill="#a6a6a6" stroke="#a6a6a6"/>
<circle cx="435.5" cy="332.1" r="6.6" fill="#a5a5a5" stroke="#a5a5a5"/>
<circle cx="479.3" cy="463.8" r="6.6" fill="#a5a5a5" stroke="#a5a5a5"/>
<circle cx="355.0" cy="492.6" r="6.6" fill="#a5a5a5" stroke="#a5a5a5"/>
<circle cx="427.9" cy="374.1" r="6.6" fill="#a5a5a5" stroke="#a5a5a5"/>
<circle cx="750.1" cy="473.6" r="6.6" fill="#a5a5a5" stroke="#a5a5a5"/>
<circle cx="728.4" cy="498.5" r="6.6" fill="#a5a5a5" stroke="#a5a5a5"/>
<circle cx="761.4" cy="326.7" r="6.6" fill="#a5a5a5" stroke="#a5a5a5"/>
<circle cx="478.3" cy="348.4" r="6.6" fill="#a5a5a5" stroke="#a5a5a5"/>
<circle cx="467.2" cy="368.4" r="6.6" fill="#a5a5a5" stroke="#a5a5a5"/>
<circle cx="949.4" cy="588.9" r="6.6" fill="#a5a5a5" stroke="#a5a5a5"/>
<circle cx="771.4" cy="491.0" r="6.6" fill="#a5a5a5" stroke="#a5a5a5"/>
<circle cx="935.1" cy="583.7" r="6.6" fill="#a4a4a4" stroke="#a4a4a4"/>
<circle cx="837.1" cy="419.2" r="6.6" fill="#a4a4a4" stroke="#a4a4a4"/>
<circle cx="748.0" cy="458.2" r="6.6" fill="#a4a4a4" stroke="#a4a4a4"/>
<circle cx="631.6" cy="588.5" r="6.6" fill="#a4a4a4" stroke="#a4a4a4"/>
<circle cx="258.8" cy="567.4" r="6.6" fill="#a4a4a4" stroke="#a4a4a4"/>
<circle cx="827.0" cy="676.2" r="6.6" fill="#a4a4a4" stroke="#a4a4a4"/>
<circle cx="259.0" cy="561.0" r="6.6" fill="#a4a4a4" stroke="#a4a4a4"/>
<circle cx="326.6" cy="625.5" r="6.6" fill="#a4a4a4" stroke="#a4a4a4"/>
<circle cx="725.3" cy="467.7" r="6.6" fill="#a4a4a4" stroke="#a4a4a4"/>
<circle cx="606.9" cy="626.4" r="6.6" fill="#a4a4a4" stroke="#a4a4a4"/>
<circle cx="466.4" cy="702.9" r="6.6" fill="#a4a4a4" stroke="#a4a4a4"/>
<circle cx="865.6" cy="665.6" r="6.6" fill="#a4a4a4" stroke="#a4a4a4"/>
<circle cx="862.0" cy="433.5" r="6.6" fill="#a4a4a4" stroke="#a4a4a4"/>
<circle cx="705.4" cy="413.3" r="6.6" fill="#a4a4a4" stroke="#a4a4a4"/>
<circle cx="404.5" cy="367.3" r="6.6" fill="#a4a4a4" stroke="#a4a4a4"/>
<circle cx="349.0" cy="676.4" r="6.6" fill="#a4a4a4" stroke="#a4a4a4"/>
<circle cx="596.0" cy="610.8" r="6.6" fill="#a4a4a4" stroke="#a4a4a4"/>
<circle cx="750.1" cy="466.9" r="6.6" fill="#a4a4a4" stroke="#a4a4a4"/>
<circle cx="609.2" cy="609.1" r="6.6" fill="#a3a3a3" stroke="#a3a3a3"/>
<circle cx="839.6" cy="428.9" r="6.6" fill="#a3a3a3" stroke="#a3a3a3"/>
<circle cx="934.0" cy="520.8" r="6.6" fill="#a3a3a3" stroke="#a3a3a3"/>
<circle cx="785.3" cy="513.3" r="6.6" fill="#a3a3a3" stroke="#a3a3a3"/>
<circle cx="707.4" cy="481.9" r="6.6" fill="#a3a3a3" stroke="#a3a3a3"/>
<circle cx="788.3" cy="463.9" r="6.6" fill="#a3a3a3" stroke="#a3a3a3"/>
<circle cx="594.7" cy="583.0" r="6.6" fill="#a3a3a3" stroke="#a3a3a3"/>
<circle cx="387.7" cy="463.2" r="6.6" fill="#a3a3a3" stroke="#a3a3a3"/>
<circle cx="456.9" cy="326.4" r="6.6" fill="#a3a3a3" stroke="#a3a3a3"/>
<circle cx="586.2" cy="567.4" r="6.6" fill="#a3a3a3" stroke="#a3a3a3"/>
<circle cx="873.6" cy="515.9" r="6.6" fill="#a3a3a3" stroke="#a3a3a3"/>
<circle cx="872.6" cy="438.7" r="6.6" fill="#a3a3a3" stroke="#a3a3a3"/>
<circle cx="409.0" cy="367.0" r="6.6" fill="#a3a3a3" stroke="#a3a3a3"/>
<circle cx="788.6" cy="508.9" r="6.6" fill="#a3a3a3" stroke="#a3a3a3"/>
<circle cx="586.3" cy="592.8" r="6.6" fill="#a3a3a3" stroke="#a3a3a3"/>
<circle cx="921.9" cy="507.7" r="6.6" fill="#a3a3a3" stroke="#a3a3a3"/>
<circle cx="789.1" cy="684.1" r="6.6" fill="#a3a3a3" stroke="#a3a3a3"/>
<circle cx="844.8" cy="654.4" r="6.6" fill="#a2a2a2" stroke="#a2a2a2"/>
<circle cx="265.3" cy="595.2" r="6.6" fill="#a2a2a2" stroke="#a2a2a2"/>
<circle cx="714.2" cy="525.9" r="6.6" fill="#a2a2a2" stroke="#a2a2a2"/>
<circle cx="585.1" cy="593.4" r="6.6" fill="#a2a2a2" stroke="#a2a2a2"/>
<circle cx="283.7" cy="586.4" r="6.6" fill="#a2a2a2" stroke="#a2a2a2"/>
<circle cx="795.4" cy="382.1" r="6.6" fill="#a2a2a2" stroke="#a2a2a2"/>
<circle cx="766.9" cy="333.9" r="6.6" fill="#a2a2a2" stroke="#a2a2a2"/>
<circle cx="702.8" cy="443.8" r="6.6" fill="#a2a2a2" stroke="#a2a2a2"/>
<circle cx="794.7" cy="417.7" r="6.6" fill="#a2a2a2" stroke="#a2a2a2"/>
<circle cx="280.7" cy="533.3" r="6.6" fill="#a2a2a2" stroke="#a2a2a2"/>
<circle cx="745.5" cy="522.2" r="6.6" fill="#a2a2a2" stroke="#a2a2a2"/>
<circle cx="279.7" cy="552.3" r="6.6" fill="#a2a2a2" stroke="#a2a2a2"/>
<circle cx="810.3" cy="664.3" r="6.6" fill="#a1a1a1" stroke="#a1a1a1"/>
<circle cx="710.2" cy="557.4" r="6.6" fill="#a1a1a1" stroke="#a1a1a1"/>
<circle cx="429.4" cy="418.4" r="6.6" fill="#a1a1a1" stroke="#a1a1a1"/>
<circle cx="774.2" cy="496.7" r="6.6" fill="#a1a1a1" stroke="#a1a1a1"/>
<circle cx="894.9" cy="632.1" r="6.6" fill="#a1a1a1" stroke="#a1a1a1"/>
<circle cx="699.6" cy="675.1" r="6.6" fill="#a1a1a1" stroke="#a1a1a1"/>
<circle cx="329.4" cy="517.1" r="6.6" fill="#a1a1a1" stroke="#a1a1a1"/>
<circle cx="926.1" cy="572.9" r="6.6" fill="#a1a1a1" stroke="#a1a1a1"/>
<circle cx="289.1" cy="598.6" r="6.6" fill="#a1a1a1" stroke="#a1a1a1"/>
<circle cx="707.5" cy="479.1" r="6.6" fill="#a1a1a1" stroke="#a1a1a1"/>
<circle cx="716.2" cy="549.0" r="6.6" fill="#a1a1a1" stroke="#a1a1a1"/>
<circle cx="266.9" cy="592.5" r="6.6" fill="#a1a1a1" stroke="#a1a1a1"/>
<circle cx="407.7" cy="404.1" r="6.6" fill="#a1a1a1" stroke="#a1a1a1"/>
<circle cx="304.6" cy="516.7" r="6.6" fill="#a1a1a1" stroke="#a1a1a1"/>
<circle cx="775.8" cy="305.0" r="6.6" fill="#a1a1a1" stroke="#a1a1a1"/>
<circle cx="763.5" cy="303.3" r="6.6" fill="#a1a1a1" stroke="#a1a1a1"/>
<circle cx="761.8" cy="323.4" r="6.6" fill="#a1a1a1" stroke="#a1a1a1"/>
<circle cx="763.5" cy="335.9" r="6.6" fill="#a1a1a1" stroke="#a1a1a1"/>
<circle cx="766.0" cy="359.3" r="6.6" fill="#a1a1a1" stroke="#a1a1a1"/>
<circle cx="746.0" cy="388.5" r="6.6" fill="#a1a1a1" stroke="#a1a1a1"/>
<circle cx="763.5" cy="386.9" r="6.6" fill="#a1a1a1" stroke="#a1a1a1"/>
<circle cx="795.2" cy="401.9" r="6.6" fill="#a1a1a1" stroke="#a1a1a1"/>
<circle cx="859.6" cy="360.1" r="6.6" fill="#a1a1a1" stroke="#a1a1a1"/>
<circle cx="738.4" cy="405.2" r="6.6" fill="#a1a1a1" stroke="#a1a1a1"/>
<circle cx="780.2" cy="408.6" r="6.6" fill="#a1a1a1" stroke="#a1a1a1"/>
<circle cx="981.2" cy="461.2" r="6.6" fill="#a1a1a1" stroke="#a1a1a1"/>
<circle cx="930.8" cy="599.8" r="6.6" fill="#a1a1a1" stroke="#a1a1a1"/>
<circle cx="732.3" cy="306.5" r="6.6" fill="#a0a0a0" stroke="#a0a0a0"/>
<circle cx="909.4" cy="634.3" r="6.6" fill="#a0a0a0" stroke="#a0a0a0"/>
<circle cx="720.2" cy="399.7" r="6.6" fill="#a0a0a0" stroke="#a0a0a0"/>
<circle cx="288.4" cy="614.3" r="6.6" fill="#a0a0a0" stroke="#a0a0a0"/>
<circle cx="897.3" cy="633.2" r="6.6" fill="#a0a0a0" stroke="#a0a0a0"/>
<circle cx="393.5" cy="452.3" r="6.6" fill="#a0a0a0" stroke="#a0a0a0"/>
<circle cx="910.0" cy="547.3" r="6.6" fill="#a0a0a0" stroke="#a0a0a0"/>
<circle cx="576.6" cy="576.2" r="6.6" fill="#a0a0a0" stroke="#a0a0a0"/>
<circle cx="701.9" cy="544.3" r="6.6" fill="#a0a0a0" stroke="#a0a0a0"/>
<circle cx="604.3" cy="656.6" r="6.6" fill="#a0a0a0" stroke="#a0a0a0"/>
<circle cx="799.1" cy="420.8" r="6.6" fill="#a0a0a0" stroke="#a0a0a0"/>
<circle cx="717.2" cy="481.4" r="6.6" fill="#a0a0a0" stroke="#a0a0a0"/>
<circle cx="770.7" cy="473.6" r="6.6" fill="#a0a0a0" stroke="#a0a0a0"/>
<circle cx="708.4" cy="556.7" r="6.6" fill="#a0a0a0" stroke="#a0a0a0"/>
<circle cx="750.4" cy="418.6" r="6.6" fill="#a0a0a0" stroke="#a0a0a0"/>
<circle cx="584.8" cy="567.1" r="6.6" fill="#a0a0a0" stroke="#a0a0a0"/>
<circle cx="596.8" cy="606.5" r="6.6" fill="#a0a0a0" stroke="#a0a0a0"/>
<circle cx="304.0" cy="606.9" r="6.6" fill="#9f9f9f" stroke="#9f9f9f"/>
<circle cx="282.1" cy="606.4" r="6.6" fill="#9f9f9f" stroke="#9f9f9f"/>
<circle cx="335.7" cy="669.0" r="6.6" fill="#9f9f9f" stroke="#9f9f9f"/>
<circle cx="256.9" cy="588.3" r="6.6" fill="#9f9f9f" stroke="#9f9f9f"/>
<circle cx="311.0" cy="527.1" r="6.6" fill="#9f9f9f" stroke="#9f9f9f"/>
<circle cx="726.3" cy="484.5" r="6.6" fill="#9f9f9f" stroke="#9f9f9f"/>
<circle cx="785.2" cy="440.4" r="6.6" fill="#9f9f9f" stroke="#9f9f9f"/>
<circle cx="742.9" cy="363.4" r="6.6" fill="#9f9f9f" stroke="#9f9f9f"/>
<circle cx="770.8" cy="695.9" r="6.6" fill="#9f9f9f" stroke="#9f9f9f"/>
<circle cx="366.1" cy="681.2" r="6.6" fill="#9f9f9f" stroke="#9f9f9f"/>
<circle cx="774.3" cy="435.3" r="6.6" fill="#9f9f9f" stroke="#9f9f9f"/>
<circle cx="698.5" cy="449.1" r="6.6" fill="#9f9f9f" stroke="#9f9f9f"/>
<circle cx="759.1" cy="434.3" r="6.6" fill="#9e9e9e" stroke="#9e9e9e"/>
<circle cx="606.8" cy="647.7" r="6.6" fill="#9e9e9e" stroke="#9e9e9e"/>
<circle cx="914.8" cy="472.8" r="6.6" fill="#9e9e9e" stroke="#9e9e9e"/>
<circle cx="796.7" cy="217.2" r="6.6" fill="#9e9e9e" stroke="#9e9e9e"/>
<circle cx="793.7" cy="234.4" r="6.6" fill="#9e9e9e" stroke="#9e9e9e"/>
<circle cx="776.2" cy="260.0" r="6.6" fill="#9e9e9e" stroke="#9e9e9e"/>
<circle cx="981.7" cy="461.7" r="6.6" fill="#9e9e9e" stroke="#9e9e9e"/>
<circle cx="739.0" cy="535.7" r="6.6" fill="#9e9e9e" stroke="#9e9e9e"/>
<circle cx="880.7" cy="647.6" r="6.6" fill="#9e9e9e" stroke="#9e9e9e"/>
<circle cx="766.6" cy="463.8" r="6.6" fill="#9e9e9e" stroke="#9e9e9e"/>
<circle cx="715.2" cy="419.2" r="6.6" fill="#9e9e9e" stroke="#9e9e9e"/>
<circle cx="786.7" cy="484.4" r="6.6" fill="#9e9e9e" stroke="#9e9e9e"/>
<circle cx="761.2" cy="450.0" r="6.6" fill="#9e9e9e" stroke="#9e9e9e"/>
<circle cx="767.1" cy="301.5" r="6.6" fill="#9e9e9e" stroke="#9e9e9e"/>
<circle cx="960.8" cy="532.6" r="6.6" fill="#9e9e9e" stroke="#9e9e9e"/>
<circle cx="464.7" cy="365.1" r="6.6" fill="#9e9e9e" stroke="#9e9e9e"/>
<circle cx="721.6" cy="443.6" r="6.6" fill="#9e9e9e" stroke="#9e9e9e"/>
<circle cx="694.2" cy="445.6" r="6.6" fill="#9d9d9d" stroke="#9d9d9d"/>
<circle cx="761.8" cy="484.2" r="6.6" fill="#9d9d9d" stroke="#9d9d9d"/>
<circle cx="443.8" cy="366.9" r="6.6" fill="#9d9d9d" stroke="#9d9d9d"/>
<circle cx="388.7" cy="458.1" r="6.6" fill="#9d9d9d" stroke="#9d9d9d"/>
<circle cx="632.2" cy="592.1" r="6.6" fill="#9d9d9d" stroke="#9d9d9d"/>
<circle cx="805.4" cy="446.4" r="6.6" fill="#9d9d9d" stroke="#9d9d9d"/>
<circle cx="696.4" cy="438.2" r="6.6" fill="#9d9d9d" stroke="#9d9d9d"/>
<circle cx="710.4" cy="586.3" r="6.6" fill="#9d9d9d" stroke="#9d9d9d"/>
<circle cx="466.6" cy="412.5" r="6.6" fill="#9d9d9d" stroke="#9d9d9d"/>
<circle cx="590.2" cy="592.7" r="6.6" fill="#9d9d9d" stroke="#9d9d9d"/>
<circle cx="481.0" cy="695.3" r="6.6" fill="#9d9d9d" stroke="#9d9d9d"/>
<circle cx="775.5" cy="517.3" r="6.6" fill="#9d9d9d" stroke="#9d9d9d"/>
<circle cx="705.3" cy="414.3" r="6.6" fill="#9c9c9c" stroke="#9c9c9c"/>
<circle cx="771.0" cy="424.3" r="6.6" fill="#9c9c9c" stroke="#9c9c9c"/>
<circle cx="821.4" cy="671.4" r="6.6" fill="#9c9c9c" stroke="#9c9c9c"/>
<circle cx="430.9" cy="376.5" r="6.6" fill="#9c9c9c" stroke="#9c9c9c"/>
<circle cx="483.8" cy="473.0" r="6.6" fill="#9c9c9c" stroke="#9c9c9c"/>
<circle cx="379.7" cy="467.1" r="6.6" fill="#9c9c9c" stroke="#9c9c9c"/>
<circle cx="330.6" cy="627.5" r="6.6" fill="#9c9c9c" stroke="#9c9c9c"/>
<circle cx="747.8" cy="497.8" r="6.6" fill="#9c9c9c" stroke="#9c9c9c"/>
<circle cx="436.2" cy="370.3" r="6.6" fill="#9c9c9c" stroke="#9c9c9c"/>
<circle cx="713.6" cy="400.9" r="6.6" fill="#9c9c9c" stroke="#9c9c9c"/>
<circle cx="488.3" cy="658.4" r="6.6" fill="#9c9c9c" stroke="#9c9c9c"/>
<circle cx="841.1" cy="412.5" r="6.6" fill="#9b9b9b" stroke="#9b9b9b"/>
<circle cx="775.8" cy="270.7" r="6.6" fill="#9b9b9b" stroke="#9b9b9b"/>
<circle cx="792.1" cy="265.8" r="6.6" fill="#9b9b9b" stroke="#9b9b9b"/>
<circle cx="815.4" cy="291.1" r="6.6" fill="#9b9b9b" stroke="#9b9b9b"/>
<circle cx="589.2" cy="562.2" r="6.6" fill="#9b9b9b" stroke="#9b9b9b"/>
<circle cx="731.6" cy="308.2" r="6.6" fill="#9b9b9b" stroke="#9b9b9b"/>
<circle cx="425.6" cy="411.8" r="6.6" fill="#9b9b9b" stroke="#9b9b9b"/>
<circle cx="696.9" cy="469.6" r="6.6" fill="#9b9b9b" stroke="#9b9b9b"/>
<circle cx="702.1" cy="647.7" r="6.6" fill="#9b9b9b" stroke="#9b9b9b"/>
<circle cx="742.4" cy="527.8" r="6.6" fill="#9b9b9b" stroke="#9b9b9b"/>
<circle cx="849.2" cy="682.1" r="6.6" fill="#9a9a9a" stroke="#9a9a9a"/>
<circle cx="469.9" cy="383.9" r="6.6" fill="#9a9a9a" stroke="#9a9a9a"/>
<circle cx="612.3" cy="557.0" r="6.6" fill="#9a9a9a" stroke="#9a9a9a"/>
<circle cx="689.1" cy="511.3" r="6.6" fill="#9a9a9a" stroke="#9a9a9a"/>
<circle cx="780.2" cy="458.0" r="6.6" fill="#9a9a9a" stroke="#9a9a9a"/>
<circle cx="710.9" cy="574.1" r="6.6" fill="#9a9a9a" stroke="#9a9a9a"/>
<circle cx="396.5" cy="440.7" r="6.6" fill="#9a9a9a" stroke="#9a9a9a"/>
<circle cx="684.4" cy="514.2" r="6.6" fill="#9a9a9a" stroke="#9a9a9a"/>
<circle cx="703.6" cy="453.8" r="6.6" fill="#9a9a9a" stroke="#9a9a9a"/>
<circle cx="965.3" cy="528.1" r="6.6" fill="#9a9a9a" stroke="#9a9a9a"/>
<circle cx="710.1" cy="658.6" r="6.6" fill="#9a9a9a" stroke="#9a9a9a"/>
<circle cx="840.6" cy="684.8" r="6.6" fill="#999999" stroke="#999999"/>
<circle cx="435.7" cy="368.5" r="6.6" fill="#999999" stroke="#999999"/>
<circle cx="708.3" cy="612.8" r="6.6" fill="#999999" stroke="#999999"/>
<circle cx="925.7" cy="479.2" r="6.6" fill="#999999" stroke="#999999"/>
<circle cx="630.3" cy="585.6" r="6.6" fill="#999999" stroke="#999999"/>
<circle cx="737.1" cy="522.7" r="6.6" fill="#999999" stroke="#999999"/>
<circle cx="431.8" cy="356.9" r="6.6" fill="#999999" stroke="#999999"/>
<circle cx="900.3" cy="467.3" r="6.6" fill="#999999" stroke="#999999"/>
<circle cx="597.0" cy="578.0" r="6.6" fill="#999999" stroke="#999999"/>
<circle cx="630.0" cy="576.0" r="6.6" fill="#999999" stroke="#999999"/>
<circle cx="699.7" cy="543.7" r="6.6" fill="#999999" stroke="#999999"/>
<circle cx="717.3" cy="479.1" r="6.6" fill="#989898" stroke="#989898"/>
<circle cx="486.8" cy="598.6" r="6.6" fill="#989898" stroke="#989898"/>
<circle cx="695.3" cy="515.8" r="6.6" fill="#989898" stroke="#989898"/>
<circle cx="807.1" cy="705.9" r="6.6" fill="#989898" stroke="#989898"/>
<circle cx="753.8" cy="492.0" r="6.6" fill="#989898" stroke="#989898"/>
<circle cx="716.4" cy="543.3" r="6.6" fill="#989898" stroke="#989898"/>
<circle cx="913.6" cy="544.4" r="6.6" fill="#989898" stroke="#989898"/>
<circle cx="733.7" cy="328.6" r="6.6" fill="#989898" stroke="#989898"/>
<circle cx="917.7" cy="503.7" r="6.6" fill="#989898" stroke="#989898"/>
<circle cx="436.8" cy="351.5" r="6.6" fill="#989898" stroke="#989898"/>
<circle cx="758.0" cy="455.7" r="6.6" fill="#989898" stroke="#989898"/>
<circle cx="459.7" cy="335.7" r="6.6" fill="#989898" stroke="#989898"/>
<circle cx="709.7" cy="677.8" r="6.6" fill="#989898" stroke="#989898"/>
<circle cx="948.3" cy="559.6" r="6.6" fill="#989898" stroke="#989898"/>
<circle cx="751.3" cy="460.8" r="6.6" fill="#979797" stroke="#979797"/>
<circle cx="772.2" cy="516.9" r="6.6" fill="#979797" stroke="#979797"/>
<circle cx="438.5" cy="355.4" r="6.6" fill="#979797" stroke="#979797"/>
<circle cx="870.4" cy="435.7" r="6.6" fill="#979797" stroke="#979797"/>
<circle cx="905.5" cy="601.5" r="6.6" fill="#979797" stroke="#979797"/>
<circle cx="775.7" cy="446.9" r="6.6" fill="#979797" stroke="#979797"/>
<circle cx="872.7" cy="500.5" r="6.6" fill="#979797" stroke="#979797"/>
<circle cx="742.2" cy="448.2" r="6.6" fill="#979797" stroke="#979797"/>
<circle cx="727.3" cy="433.2" r="6.6" fill="#979797" stroke="#979797"/>
<circle cx="371.1" cy="498.0" r="6.6" fill="#979797" stroke="#979797"/>
<circle cx="390.5" cy="455.5" r="6.6" fill="#979797" stroke="#979797"/>
<circle cx="617.6" cy="612.8" r="6.6" fill="#979797" stroke="#979797"/>
<circle cx="732.8" cy="467.0" r="6.6" fill="#979797" stroke="#979797"/>
<circle cx="415.2" cy="410.6" r="6.6" fill="#979797" stroke="#979797"/>
<circle cx="397.1" cy="530.3" r="6.6" fill="#979797" stroke="#979797"/>
<circle cx="374.8" cy="610.9" r="6.6" fill="#979797" stroke="#979797"/>
<circle cx="785.3" cy="702.1" r="6.6" fill="#979797" stroke="#979797"/>
<circle cx="468.9" cy="363.1" r="6.6" fill="#979797" stroke="#979797"/>
<circle cx="580.9" cy="588.9" r="6.6" fill="#979797" stroke="#979797"/>
<circle cx="983.1" cy="483.4" r="6.6" fill="#979797" stroke="#979797"/>
<circle cx="603.0" cy="604.2" r="6.6" fill="#969696" stroke="#969696"/>
<circle cx="783.0" cy="422.2" r="6.6" fill="#969696" stroke="#969696"/>
<circle cx="786.8" cy="694.8" r="6.6" fill="#969696" stroke="#969696"/>
<circle cx="710.5" cy="648.8" r="6.6" fill="#969696" stroke="#969696"/>
<circle cx="752.1" cy="418.5" r="6.6" fill="#969696" stroke="#969696"/>
<circle cx="406.7" cy="536.4" r="6.6" fill="#969696" stroke="#969696"/>
<circle cx="478.9" cy="343.4" r="6.6" fill="#969696" stroke="#969696"/>
<circle cx="929.1" cy="592.9" r="6.6" fill="#969696" stroke="#969696"/>
<circle cx="648.0" cy="515.0" r="6.6" fill="#969696" stroke="#969696"/>
<circle cx="444.9" cy="385.4" r="6.6" fill="#969696" stroke="#969696"/>
<circle cx="436.7" cy="390.0" r="6.6" fill="#969696" stroke="#969696"/>
<circle cx="341.7" cy="499.1" r="6.6" fill="#969696" stroke="#969696"/>
<circle cx="856.1" cy="626.6" r="6.6" fill="#969696" stroke="#969696"/>
<circle cx="431.5" cy="660.5" r="6.6" fill="#969696" stroke="#969696"/>
<circle cx="489.4" cy="687.2" r="6.6" fill="#969696" stroke="#969696"/>
<circle cx="819.0" cy="470.7" r="6.6" fill="#959595" stroke="#959595"/>
<circle cx="462.3" cy="301.6" r="6.6" fill="#959595" stroke="#959595"/>
<circle cx="901.4" cy="468.2" r="6.6" fill="#959595" stroke="#959595"/>
<circle cx="451.3" cy="552.2" r="6.6" fill="#959595" stroke="#959595"/>
<circle cx="475.3" cy="379.7" r="6.6" fill="#959595" stroke="#959595"/>
<circle cx="404.1" cy="524.9" r="6.6" fill="#959595" stroke="#959595"/>
<circle cx="351.3" cy="507.4" r="6.6" fill="#959595" stroke="#959595"/>
<circle cx="424.8" cy="417.4" r="6.6" fill="#959595" stroke="#959595"/>
<circle cx="853.3" cy="648.4" r="6.6" fill="#959595" stroke="#959595"/>
<circle cx="901.7" cy="534.5" r="6.6" fill="#959595" stroke="#959595"/>
<circle cx="460.3" cy="355.2" r="6.6" fill="#959595" stroke="#959595"/>
<circle cx="710.6" cy="365.7" r="6.6" fill="#959595" stroke="#959595"/>
<circle cx="836.5" cy="659.9" r="6.6" fill="#959595" stroke="#959595"/>
<circle cx="389.5" cy="507.9" r="6.6" fill="#959595" stroke="#959595"/>
<circle cx="423.5" cy="469.8" r="6.6" fill="#959595" stroke="#959595"/>
<circle cx="862.4" cy="486.6" r="6.6" fill="#959595" stroke="#959595"/>
<circle cx="479.3" cy="375.9" r="6.6" fill="#959595" stroke="#959595"/>
<circle cx="440.4" cy="557.0" r="6.6" fill="#959595" stroke="#959595"/>
<circle cx="476.5" cy="402.4" r="6.6" fill="#949494" stroke="#949494"/>
<circle cx="453.4" cy="351.9" r="6.6" fill="#949494" stroke="#949494"/>
<circle cx="414.0" cy="475.6" r="6.6" fill="#949494" stroke="#949494"/>
<circle cx="483.9" cy="453.3" r="6.6" fill="#949494" stroke="#949494"/>
<circle cx="876.1" cy="477.4" r="6.6" fill="#949494" stroke="#949494"/>
<circle cx="877.5" cy="502.7" r="6.6" fill="#949494" stroke="#949494"/>
<circle cx="439.4" cy="464.9" r="6.6" fill="#949494" stroke="#949494"/>
<circle cx="439.9" cy="689.6" r="6.6" fill="#949494" stroke="#949494"/>
<circle cx="445.6" cy="418.2" r="6.6" fill="#949494" stroke="#949494"/>
<circle cx="842.3" cy="489.1" r="6.6" fill="#949494" stroke="#949494"/>
<circle cx="412.1" cy="654.9" r="6.6" fill="#949494" stroke="#949494"/>
<circle cx="427.5" cy="686.4" r="6.6" fill="#949494" stroke="#949494"/>
<circle cx="453.0" cy="641.7" r="6.6" fill="#949494" stroke="#949494"/>
<circle cx="462.3" cy="335.8" r="6.6" fill="#939393" stroke="#939393"/>
<circle cx="810.4" cy="373.6" r="6.6" fill="#939393" stroke="#939393"/>
<circle cx="292.6" cy="537.1" r="6.6" fill="#939393" stroke="#939393"/>
<circle cx="453.4" cy="646.8" r="6.6" fill="#939393" stroke="#939393"/>
<circle cx="441.6" cy="581.5" r="6.6" fill="#939393" stroke="#939393"/>
<circle cx="475.4" cy="353.1" r="6.6" fill="#939393" stroke="#939393"/>
<circle cx="259.9" cy="566.6" r="6.6" fill="#939393" stroke="#939393"/>
<circle cx="810.5" cy="423.1" r="6.6" fill="#939393" stroke="#939393"/>
<circle cx="440.4" cy="335.4" r="6.6" fill="#939393" stroke="#939393"/>
<circle cx="460.3" cy="401.9" r="6.6" fill="#939393" stroke="#939393"/>
<circle cx="485.2" cy="414.0" r="6.6" fill="#939393" stroke="#939393"/>
<circle cx="450.6" cy="424.9" r="6.6" fill="#929292" stroke="#929292"/>
<circle cx="442.3" cy="360.8" r="6.6" fill="#929292" stroke="#929292"/>
<circle cx="420.5" cy="369.4" r="6.6" fill="#929292" stroke="#929292"/>
<circle cx="854.8" cy="510.7" r="6.6" fill="#929292" stroke="#929292"/>
<circle cx="477.0" cy="510.5" r="6.6" fill="#919191" stroke="#919191"/>
<circle cx="411.0" cy="428.6" r="6.6" fill="#919191" stroke="#919191"/>
<circle cx="433.2" cy="504.1" r="6.6" fill="#919191" stroke="#919191"/>
<circle cx="460.7" cy="387.8" r="6.6" fill="#919191" stroke="#919191"/>
<circle cx="279.8" cy="554.7" r="6.6" fill="#919191" stroke="#919191"/>
<circle cx="422.1" cy="466.9" r="6.6" fill="#919191" stroke="#919191"/>
<circle cx="446.4" cy="477.0" r="6.6" fill="#919191" stroke="#919191"/>
<circle cx="603.7" cy="653.3" r="6.6" fill="#919191" stroke="#919191"/>
<circle cx="737.9" cy="522.4" r="6.6" fill="#919191" stroke="#919191"/>
<circle cx="408.6" cy="449.9" r="6.6" fill="#919191" stroke="#919191"/>
<circle cx="700.0" cy="448.0" r="6.6" fill="#919191" stroke="#919191"/>
<circle cx="330.0" cy="620.1" r="6.6" fill="#919191" stroke="#919191"/>
<circle cx="407.4" cy="670.9" r="6.6" fill="#919191" stroke="#919191"/>
<circle cx="477.5" cy="698.6" r="6.6" fill="#919191" stroke="#919191"/>
<circle cx="438.4" cy="351.4" r="6.6" fill="#919191" stroke="#919191"/>
<circle cx="705.0" cy="420.9" r="6.6" fill="#909090" stroke="#909090"/>
<circle cx="426.1" cy="369.6" r="6.6" fill="#909090" stroke="#909090"/>
<circle cx="442.2" cy="412.2" r="6.6" fill="#909090" stroke="#909090"/>
<circle cx="451.4" cy="506.8" r="6.6" fill="#909090" stroke="#909090"/>
<circle cx="448.5" cy="702.2" r="6.6" fill="#909090" stroke="#909090"/>
<circle cx="814.7" cy="420.5" r="6.6" fill="#909090" stroke="#909090"/>
<circle cx="418.2" cy="441.3" r="6.6" fill="#909090" stroke="#909090"/>
<circle cx="435.2" cy="475.1" r="6.6" fill="#909090" stroke="#909090"/>
<circle cx="464.3" cy="377.5" r="6.6" fill="#909090" stroke="#909090"/>
<circle cx="332.3" cy="623.6" r="6.6" fill="#8f8f8f" stroke="#8f8f8f"/>
<circle cx="475.9" cy="505.1" r="6.6" fill="#8f8f8f" stroke="#8f8f8f"/>
<circle cx="477.6" cy="617.5" r="6.6" fill="#8f8f8f" stroke="#8f8f8f"/>
<circle cx="367.9" cy="561.7" r="6.6" fill="#8f8f8f" stroke="#8f8f8f"/>
<circle cx="318.3" cy="550.2" r="6.6" fill="#8f8f8f" stroke="#8f8f8f"/>
<circle cx="433.3" cy="464.3" r="6.6" fill="#8f8f8f" stroke="#8f8f8f"/>
<circle cx="488.7" cy="562.7" r="6.6" fill="#8f8f8f" stroke="#8f8f8f"/>
<circle cx="324.9" cy="602.2" r="6.6" fill="#8f8f8f" stroke="#8f8f8f"/>
<circle cx="429.0" cy="470.7" r="6.6" fill="#8f8f8f" stroke="#8f8f8f"/>
<circle cx="724.3" cy="225.4" r="6.6" fill="#8f8f8f" stroke="#8f8f8f"/>
<circle cx="432.3" cy="364.2" r="6.6" fill="#8f8f8f" stroke="#8f8f8f"/>
<circle cx="376.3" cy="504.5" r="6.6" fill="#8f8f8f" stroke="#8f8f8f"/>
<circle cx="435.9" cy="358.0" r="6.6" fill="#8f8f8f" stroke="#8f8f8f"/>
<circle cx="696.3" cy="496.1" r="6.6" fill="#8e8e8e" stroke="#8e8e8e"/>
<circle cx="435.8" cy="644.5" r="6.6" fill="#8e8e8e" stroke="#8e8e8e"/>
<circle cx="408.5" cy="414.7" r="6.6" fill="#8e8e8e" stroke="#8e8e8e"/>
<circle cx="331.4" cy="665.4" r="6.6" fill="#8e8e8e" stroke="#8e8e8e"/>
<circle cx="898.8" cy="514.6" r="6.6" fill="#8e8e8e" stroke="#8e8e8e"/>
<circle cx="467.3" cy="424.4" r="6.6" fill="#8e8e8e" stroke="#8e8e8e"/>
<circle cx="443.3" cy="542.0" r="6.6" fill="#8e8e8e" stroke="#8e8e8e"/>
<circle cx="477.9" cy="386.0" r="6.6" fill="#8e8e8e" stroke="#8e8e8e"/>
<circle cx="717.5" cy="548.5" r="6.6" fill="#8e8e8e" stroke="#8e8e8e"/>
<circle cx="394.0" cy="610.0" r="6.6" fill="#8e8e8e" stroke="#8e8e8e"/>
<circle cx="404.4" cy="503.1" r="6.6" fill="#8e8e8e" stroke="#8e8e8e"/>
<circle cx="401.9" cy="550.7" r="6.6" fill="#8e8e8e" stroke="#8e8e8e"/>
<circle cx="366.2" cy="455.1" r="6.6" fill="#8e8e8e" stroke="#8e8e8e"/>
<circle cx="371.8" cy="461.6" r="6.6" fill="#8e8e8e" stroke="#8e8e8e"/>
<circle cx="245.8" cy="511.1" r="6.6" fill="#8e8e8e" stroke="#8e8e8e"/>
<circle cx="345.7" cy="503.6" r="6.6" fill="#8e8e8e" stroke="#8e8e8e"/>
<circle cx="758.6" cy="246.2" r="6.6" fill="#8e8e8e" stroke="#8e8e8e"/>
<circle cx="777.9" cy="292.7" r="6.6" fill="#8e8e8e" stroke="#8e8e8e"/>
<circle cx="797.8" cy="314.0" r="6.6" fill="#8e8e8e" stroke="#8e8e8e"/>
<circle cx="776.0" cy="305.8" r="6.6" fill="#8e8e8e" stroke="#8e8e8e"/>
<circle cx="798.6" cy="314.2" r="6.6" fill="#8e8e8e" stroke="#8e8e8e"/>
<circle cx="730.1" cy="315.9" r="6.6" fill="#8e8e8e" stroke="#8e8e8e"/>
<circle cx="804.4" cy="331.7" r="6.6" fill="#8e8e8e" stroke="#8e8e8e"/>
<circle cx="750.1" cy="370.2" r="6.6" fill="#8e8e8e" stroke="#8e8e8e"/>
<circle cx="736.0" cy="376.8" r="6.6" fill="#8e8e8e" stroke="#8e8e8e"/>
<circle cx="725.9" cy="382.7" r="6.6" fill="#8e8e8e" stroke="#8e8e8e"/>
<circle cx="786.0" cy="396.9" r="6.6" fill="#8e8e8e" stroke="#8e8e8e"/>
<circle cx="812.0" cy="400.2" r="6.6" fill="#8e8e8e" stroke="#8e8e8e"/>
<circle cx="723.4" cy="410.3" r="6.6" fill="#8e8e8e" stroke="#8e8e8e"/>
<circle cx="389.0" cy="548.7" r="6.6" fill="#8e8e8e" stroke="#8e8e8e"/>
<circle cx="456.0" cy="661.3" r="6.6" fill="#8e8e8e" stroke="#8e8e8e"/>
<circle cx="336.6" cy="585.6" r="6.6" fill="#8e8e8e" stroke="#8e8e8e"/>
<circle cx="767.6" cy="491.6" r="6.6" fill="#8e8e8e" stroke="#8e8e8e"/>
<circle cx="369.9" cy="643.3" r="6.6" fill="#8d8d8d" stroke="#8d8d8d"/>
<circle cx="323.9" cy="619.7" r="6.6" fill="#8d8d8d" stroke="#8d8d8d"/>
<circle cx="456.8" cy="617.8" r="6.6" fill="#8d8d8d" stroke="#8d8d8d"/>
<circle cx="766.4" cy="414.0" r="6.6" fill="#8d8d8d" stroke="#8d8d8d"/>
<circle cx="360.8" cy="499.5" r="6.6" fill="#8d8d8d" stroke="#8d8d8d"/>
<circle cx="602.6" cy="630.6" r="6.6" fill="#8d8d8d" stroke="#8d8d8d"/>
<circle cx="446.6" cy="375.6" r="6.6" fill="#8d8d8d" stroke="#8d8d8d"/>
<circle cx="453.9" cy="515.6" r="6.6" fill="#8d8d8d" stroke="#8d8d8d"/>
<circle cx="321.7" cy="605.7" r="6.6" fill="#8d8d8d" stroke="#8d8d8d"/>
<circle cx="351.0" cy="597.8" r="6.6" fill="#8d8d8d" stroke="#8d8d8d"/>
<circle cx="445.3" cy="440.2" r="6.6" fill="#8d8d8d" stroke="#8d8d8d"/>
<circle cx="479.8" cy="514.4" r="6.6" fill="#8d8d8d" stroke="#8d8d8d"/>
<circle cx="412.3" cy="611.6" r="6.6" fill="#8d8d8d" stroke="#8d8d8d"/>
<circle cx="913.9" cy="550.5" r="6.6" fill="#8d8d8d" stroke="#8d8d8d"/>
<circle cx="444.7" cy="608.4" r="6.6" fill="#8d8d8d" stroke="#8d8d8d"/>
<circle cx="447.8" cy="675.9" r="6.6" fill="#8d8d8d" stroke="#8d8d8d"/>
<circle cx="419.7" cy="386.6" r="6.6" fill="#8d8d8d" stroke="#8d8d8d"/>
<circle cx="325.8" cy="562.0" r="6.6" fill="#8d8d8d" stroke="#8d8d8d"/>
<circle cx="337.9" cy="537.4" r="6.6" fill="#8d8d8d" stroke="#8d8d8d"/>
<circle cx="419.8" cy="665.3" r="6.6" fill="#8d8d8d" stroke="#8d8d8d"/>
<circle cx="349.8" cy="647.8" r="6.6" fill="#8d8d8d" stroke="#8d8d8d"/>
<circle cx="452.1" cy="574.8" r="6.6" fill="#8d8d8d" stroke="#8d8d8d"/>
<circle cx="449.2" cy="211.4" r="6.6" fill="#8d8d8d" stroke="#8d8d8d"/>
<circle cx="468.0" cy="222.9" r="6.6" fill="#8d8d8d" stroke="#8d8d8d"/>
<circle cx="412.9" cy="580.6" r="6.6" fill="#8d8d8d" stroke="#8d8d8d"/>
<circle cx="380.7" cy="487.9" r="6.6" fill="#8d8d8d" stroke="#8d8d8d"/>
<circle cx="289.9" cy="529.8" r="6.6" fill="#8d8d8d" stroke="#8d8d8d"/>
<circle cx="383.5" cy="601.8" r="6.6" fill="#8c8c8c" stroke="#8c8c8c"/>
<circle cx="293.3" cy="531.9" r="6.6" fill="#8c8c8c" stroke="#8c8c8c"/>
<circle cx="431.4" cy="371.8" r="6.6" fill="#8c8c8c" stroke="#8c8c8c"/>
<circle cx="747.2" cy="468.3" r="6.6" fill="#8c8c8c" stroke="#8c8c8c"/>
<circle cx="382.8" cy="490.2" r="6.6" fill="#8c8c8c" stroke="#8c8c8c"/>
<circle cx="442.5" cy="658.5" r="6.6" fill="#8c8c8c" stroke="#8c8c8c"/>
<circle cx="315.1" cy="541.0" r="6.6" fill="#8c8c8c" stroke="#8c8c8c"/>
<circle cx="853.2" cy="411.8" r="6.6" fill="#8c8c8c" stroke="#8c8c8c"/>
<circle cx="397.9" cy="573.7" r="6.6" fill="#8c8c8c" stroke="#8c8c8c"/>
<circle cx="767.8" cy="391.3" r="6.6" fill="#8c8c8c" stroke="#8c8c8c"/>
<circle cx="467.5" cy="329.6" r="6.6" fill="#8c8c8c" stroke="#8c8c8c"/>
<circle cx="464.1" cy="600.0" r="6.6" fill="#8c8c8c" stroke="#8c8c8c"/>
<circle cx="369.8" cy="547.5" r="6.6" fill="#8c8c8c" stroke="#8c8c8c"/>
<circle cx="468.9" cy="372.8" r="6.6" fill="#8c8c8c" stroke="#8c8c8c"/>
<circle cx="479.6" cy="680.2" r="6.6" fill="#8c8c8c" stroke="#8c8c8c"/>
<circle cx="422.4" cy="366.6" r="6.6" fill="#8c8c8c" stroke="#8c8c8c"/>
<circle cx="286.2" cy="564.9" r="6.6" fill="#8c8c8c" stroke="#8c8c8c"/>
<circle cx="828.0" cy="452.0" r="6.6" fill="#8c8c8c" stroke="#8c8c8c"/>
<circle cx="320.2" cy="571.9" r="6.6" fill="#8c8c8c" stroke="#8c8c8c"/>
<circle cx="349.6" cy="540.3" r="6.6" fill="#8c8c8c" stroke="#8c8c8c"/>
<circle cx="434.9" cy="538.4" r="6.6" fill="#8c8c8c" stroke="#8c8c8c"/>
<circle cx="423.1" cy="519.7" r="6.6" fill="#8c8c8c" stroke="#8c8c8c"/>
<circle cx="383.2" cy="632.3" r="6.6" fill="#8c8c8c" stroke="#8c8c8c"/>
<circle cx="412.8" cy="688.6" r="6.6" fill="#8c8c8c" stroke="#8c8c8c"/>
<circle cx="433.0" cy="631.1" r="6.6" fill="#8c8c8c" stroke="#8c8c8c"/>
<circle cx="403.9" cy="506.9" r="6.6" fill="#8c8c8c" stroke="#8c8c8c"/>
<circle cx="902.2" cy="583.5" r="6.6" fill="#8b8b8b" stroke="#8b8b8b"/>
<circle cx="330.2" cy="612.0" r="6.6" fill="#8b8b8b" stroke="#8b8b8b"/>
<circle cx="724.9" cy="463.2" r="6.6" fill="#8b8b8b" stroke="#8b8b8b"/>
<circle cx="420.5" cy="634.0" r="6.6" fill="#8b8b8b" stroke="#8b8b8b"/>
<circle cx="716.5" cy="356.9" r="6.6" fill="#8b8b8b" stroke="#8b8b8b"/>
<circle cx="707.5" cy="677.4" r="6.6" fill="#8b8b8b" stroke="#8b8b8b"/>
<circle cx="449.1" cy="338.8" r="6.6" fill="#8b8b8b" stroke="#8b8b8b"/>
<circle cx="348.7" cy="627.7" r="6.6" fill="#8b8b8b" stroke="#8b8b8b"/>
<circle cx="387.5" cy="482.1" r="6.6" fill="#8b8b8b" stroke="#8b8b8b"/>
<circle cx="415.5" cy="564.3" r="6.6" fill="#8b8b8b" stroke="#8b8b8b"/>
<circle cx="416.1" cy="423.3" r="6.6" fill="#8b8b8b" stroke="#8b8b8b"/>
<circle cx="399.8" cy="429.6" r="6.6" fill="#8b8b8b" stroke="#8b8b8b"/>
<circle cx="413.5" cy="435.1" r="6.6" fill="#8b8b8b" stroke="#8b8b8b"/>
<circle cx="387.4" cy="607.3" r="6.6" fill="#8b8b8b" stroke="#8b8b8b"/>
<circle cx="468.3" cy="643.1" r="6.6" fill="#8b8b8b" stroke="#8b8b8b"/>
<circle cx="405.0" cy="577.6" r="6.6" fill="#8b8b8b" stroke="#8b8b8b"/>
<circle cx="453.9" cy="586.0" r="6.6" fill="#8b8b8b" stroke="#8b8b8b"/>
<circle cx="937.0" cy="587.4" r="6.6" fill="#8b8b8b" stroke="#8b8b8b"/>
<circle cx="400.6" cy="683.8" r="6.6" fill="#8b8b8b" stroke="#8b8b8b"/>
<circle cx="464.6" cy="601.6" r="6.6" fill="#8b8b8b" stroke="#8b8b8b"/>
<circle cx="869.0" cy="648.9" r="6.6" fill="#8b8b8b" stroke="#8b8b8b"/>
<circle cx="722.1" cy="549.5" r="6.6" fill="#8b8b8b" stroke="#8b8b8b"/>
<circle cx="479.3" cy="667.6" r="6.6" fill="#8b8b8b" stroke="#8b8b8b"/>
<circle cx="383.9" cy="484.3" r="6.6" fill="#8b8b8b" stroke="#8b8b8b"/>
<circle cx="920.1" cy="500.4" r="6.6" fill="#8b8b8b" stroke="#8b8b8b"/>
<circle cx="379.7" cy="606.5" r="6.6" fill="#8b8b8b" stroke="#8b8b8b"/>
<circle cx="432.4" cy="608.0" r="6.6" fill="#8a8a8a" stroke="#8a8a8a"/>
<circle cx="448.8" cy="662.1" r="6.6" fill="#8a8a8a" stroke="#8a8a8a"/>
<circle cx="419.1" cy="501.0" r="6.6" fill="#8a8a8a" stroke="#8a8a8a"/>
<circle cx="431.8" cy="73.4" r="6.6" fill="#8a8a8a" stroke="#8a8a8a"/>
<circle cx="330.0" cy="615.4" r="6.6" fill="#8a8a8a" stroke="#8a8a8a"/>
<circle cx="331.2" cy="526.6" r="6.6" fill="#8a8a8a" stroke="#8a8a8a"/>
<circle cx="288.2" cy="548.5" r="6.6" fill="#8a8a8a" stroke="#8a8a8a"/>
<circle cx="389.7" cy="645.6" r="6.6" fill="#8a8a8a" stroke="#8a8a8a"/>
<circle cx="960.4" cy="557.5" r="6.6" fill="#8a8a8a" stroke="#8a8a8a"/>
<circle cx="897.4" cy="619.3" r="6.6" fill="#8a8a8a" stroke="#8a8a8a"/>
<circle cx="791.3" cy="687.4" r="6.6" fill="#8a8a8a" stroke="#8a8a8a"/>
<circle cx="316.2" cy="602.5" r="6.6" fill="#8a8a8a" stroke="#8a8a8a"/>
<circle cx="286.3" cy="534.8" r="6.6" fill="#8a8a8a" stroke="#8a8a8a"/>
<circle cx="386.8" cy="513.4" r="6.6" fill="#8a8a8a" stroke="#8a8a8a"/>
<circle cx="364.4" cy="485.2" r="6.6" fill="#8a8a8a" stroke="#8a8a8a"/>
<circle cx="930.2" cy="507.2" r="6.6" fill="#8a8a8a" stroke="#8a8a8a"/>
<circle cx="368.6" cy="587.1" r="6.6" fill="#8a8a8a" stroke="#8a8a8a"/>
<circle cx="450.8" cy="587.1" r="6.6" fill="#8a8a8a" stroke="#8a8a8a"/>
<circle cx="435.2" cy="333.7" r="6.6" fill="#8a8a8a" stroke="#8a8a8a"/>
<circle cx="302.9" cy="561.6" r="6.6" fill="#898989" stroke="#898989"/>
<circle cx="882.4" cy="522.7" r="6.6" fill="#898989" stroke="#898989"/>
<circle cx="417.3" cy="470.6" r="6.6" fill="#898989" stroke="#898989"/>
<circle cx="409.1" cy="474.1" r="6.6" fill="#898989" stroke="#898989"/>
<circle cx="379.9" cy="511.3" r="6.6" fill="#898989" stroke="#898989"/>
<circle cx="455.8" cy="334.7" r="6.6" fill="#898989" stroke="#898989"/>
<circle cx="710.4" cy="644.4" r="6.6" fill="#898989" stroke="#898989"/>
<circle cx="742.4" cy="456.2" r="6.6" fill="#898989" stroke="#898989"/>
<circle cx="449.2" cy="583.7" r="6.6" fill="#898989" stroke="#898989"/>
<circle cx="453.1" cy="472.8" r="6.6" fill="#898989" stroke="#898989"/>
<circle cx="437.3" cy="601.6" r="6.6" fill="#898989" stroke="#898989"/>
<circle cx="369.6" cy="633.8" r="6.6" fill="#898989" stroke="#898989"/>
<circle cx="452.3" cy="453.4" r="6.6" fill="#898989" stroke="#898989"/>
<circle cx="389.1" cy="547.7" r="6.6" fill="#898989" stroke="#898989"/>
<circle cx="401.8" cy="608.8" r="6.6" fill="#898989" stroke="#898989"/>
<circle cx="365.2" cy="644.5" r="6.6" fill="#888888" stroke="#888888"/>
<circle cx="485.7" cy="657.9" r="6.6" fill="#888888" stroke="#888888"/>
<circle cx="483.8" cy="465.7" r="6.6" fill="#888888" stroke="#888888"/>
<circle cx="724.0" cy="529.0" r="6.6" fill="#888888" stroke="#888888"/>
<circle cx="917.2" cy="548.1" r="6.6" fill="#888888" stroke="#888888"/>
<circle cx="460.0" cy="546.0" r="6.6" fill="#888888" stroke="#888888"/>
<circle cx="464.4" cy="351.1" r="6.6" fill="#888888" stroke="#888888"/>
<circle cx="302.4" cy="554.8" r="6.6" fill="#888888" stroke="#888888"/>
<circle cx="471.9" cy="663.1" r="6.6" fill="#888888" stroke="#888888"/>
<circle cx="701.4" cy="582.7" r="6.6" fill="#888888" stroke="#888888"/>
<circle cx="843.8" cy="504.3" r="6.6" fill="#888888" stroke="#888888"/>
<circle cx="847.3" cy="655.0" r="6.6" fill="#888888" stroke="#888888"/>
<circle cx="630.0" cy="531.0" r="6.6" fill="#888888" stroke="#888888"/>
<circle cx="808.8" cy="417.6" r="6.6" fill="#888888" stroke="#888888"/>
<circle cx="817.0" cy="691.2" r="6.6" fill="#888888" stroke="#888888"/>
<circle cx="443.4" cy="624.1" r="6.6" fill="#888888" stroke="#888888"/>
<circle cx="867.3" cy="626.0" r="6.6" fill="#888888" stroke="#888888"/>
<circle cx="771.5" cy="499.7" r="6.6" fill="#888888" stroke="#888888"/>
<circle cx="440.2" cy="407.6" r="6.6" fill="#888888" stroke="#888888"/>
<circle cx="385.9" cy="500.7" r="6.6" fill="#888888" stroke="#888888"/>
<circle cx="849.3" cy="667.0" r="6.6" fill="#888888" stroke="#888888"/>
<circle cx="710.2" cy="627.2" r="6.6" fill="#888888" stroke="#888888"/>
<circle cx="913.7" cy="553.4" r="6.6" fill="#888888" stroke="#888888"/>
<circle cx="825.2" cy="440.6" r="6.6" fill="#888888" stroke="#888888"/>
<circle cx="413.4" cy="392.8" r="6.6" fill="#888888" stroke="#888888"/>
<circle cx="910.7" cy="632.7" r="6.6" fill="#888888" stroke="#888888"/>
<circle cx="930.2" cy="504.3" r="6.6" fill="#888888" stroke="#888888"/>
<circle cx="474.3" cy="456.0" r="6.6" fill="#878787" stroke="#878787"/>
<circle cx="436.7" cy="572.8" r="6.6" fill="#878787" stroke="#878787"/>
<circle cx="481.4" cy="547.9" r="6.6" fill="#878787" stroke="#878787"/>
<circle cx="408.3" cy="484.6" r="6.6" fill="#878787" stroke="#878787"/>
<circle cx="693.7" cy="420.5" r="6.6" fill="#878787" stroke="#878787"/>
<circle cx="392.6" cy="443.9" r="6.6" fill="#878787" stroke="#878787"/>
<circle cx="443.1" cy="571.5" r="6.6" fill="#878787" stroke="#878787"/>
<circle cx="395.2" cy="683.2" r="6.6" fill="#878787" stroke="#878787"/>
<circle cx="476.2" cy="505.7" r="6.6" fill="#878787" stroke="#878787"/>
<circle cx="329.0" cy="549.1" r="6.6" fill="#878787" stroke="#878787"/>
<circle cx="335.4" cy="558.1" r="6.6" fill="#878787" stroke="#878787"/>
<circle cx="396.7" cy="688.5" r="6.6" fill="#878787" stroke="#878787"/>
<circle cx="419.6" cy="465.4" r="6.6" fill="#878787" stroke="#878787"/>
<circle cx="370.9" cy="491.4" r="6.6" fill="#878787" stroke="#878787"/>
<circle cx="689.7" cy="445.3" r="6.6" fill="#878787" stroke="#878787"/>
<circle cx="747.8" cy="442.7" r="6.6" fill="#878787" stroke="#878787"/>
<circle cx="310.9" cy="541.7" r="6.6" fill="#878787" stroke="#878787"/>
<circle cx="375.2" cy="647.3" r="6.6" fill="#868686" stroke="#868686"/>
<circle cx="334.5" cy="558.3" r="6.6" fill="#868686" stroke="#868686"/>
<circle cx="480.5" cy="592.8" r="6.6" fill="#868686" stroke="#868686"/>
<circle cx="353.0" cy="512.5" r="6.6" fill="#868686" stroke="#868686"/>
<circle cx="434.6" cy="555.8" r="6.6" fill="#868686" stroke="#868686"/>
<circle cx="358.3" cy="622.7" r="6.6" fill="#868686" stroke="#868686"/>
<circle cx="480.5" cy="468.3" r="6.6" fill="#868686" stroke="#868686"/>
<circle cx="475.0" cy="706.0" r="6.6" fill="#868686" stroke="#868686"/>
<circle cx="419.2" cy="370.1" r="6.6" fill="#868686" stroke="#868686"/>
<circle cx="407.4" cy="690.9" r="6.6" fill="#868686" stroke="#868686"/>
<circle cx="477.1" cy="562.4" r="6.6" fill="#868686" stroke="#868686"/>
<circle cx="878.0" cy="493.7" r="6.6" fill="#868686" stroke="#868686"/>
<circle cx="870.3" cy="500.9" r="6.6" fill="#868686" stroke="#868686"/>
<circle cx="464.8" cy="510.6" r="6.6" fill="#858585" stroke="#858585"/>
<circle cx="288.4" cy="548.4" r="6.6" fill="#858585" stroke="#858585"/>
<circle cx="419.0" cy="364.7" r="6.6" fill="#858585" stroke="#858585"/>
<circle cx="420.4" cy="561.5" r="6.6" fill="#858585" stroke="#858585"/>
<circle cx="741.4" cy="442.0" r="6.6" fill="#858585" stroke="#858585"/>
<circle cx="454.8" cy="648.7" r="6.6" fill="#858585" stroke="#858585"/>
<circle cx="434.3" cy="547.7" r="6.6" fill="#858585" stroke="#858585"/>
<circle cx="449.6" cy="653.2" r="6.6" fill="#858585" stroke="#858585"/>
<circle cx="861.3" cy="662.0" r="6.6" fill="#858585" stroke="#858585"/>
<circle cx="482.6" cy="557.7" r="6.6" fill="#858585" stroke="#858585"/>
<circle cx="869.7" cy="651.1" r="6.6" fill="#858585" stroke="#858585"/>
<circle cx="793.4" cy="689.2" r="6.6" fill="#858585" stroke="#858585"/>
<circle cx="474.0" cy="614.3" r="6.6" fill="#858585" stroke="#858585"/>
<circle cx="294.1" cy="540.7" r="6.6" fill="#858585" stroke="#858585"/>
<circle cx="474.7" cy="408.4" r="6.6" fill="#858585" stroke="#858585"/>
<circle cx="324.5" cy="600.2" r="6.6" fill="#858585" stroke="#858585"/>
<circle cx="460.7" cy="446.8" r="6.6" fill="#858585" stroke="#858585"/>
<circle cx="335.7" cy="538.0" r="6.6" fill="#858585" stroke="#858585"/>
<circle cx="413.8" cy="461.4" r="6.6" fill="#858585" stroke="#858585"/>
<circle cx="345.8" cy="601.9" r="6.6" fill="#858585" stroke="#858585"/>
<circle cx="365.8" cy="502.7" r="6.6" fill="#858585" stroke="#858585"/>
<circle cx="744.9" cy="437.8" r="6.6" fill="#858585" stroke="#858585"/>
<circle cx="419.0" cy="679.0" r="6.6" fill="#858585" stroke="#858585"/>
<circle cx="383.2" cy="588.6" r="6.6" fill="#858585" stroke="#858585"/>
<circle cx="476.9" cy="436.8" r="6.6" fill="#858585" stroke="#858585"/>
<circle cx="421.9" cy="429.1" r="6.6" fill="#858585" stroke="#858585"/>
<circle cx="692.0" cy="596.1" r="6.6" fill="#848484" stroke="#848484"/>
<circle cx="713.0" cy="561.3" r="6.6" fill="#848484" stroke="#848484"/>
<circle cx="427.5" cy="459.1" r="6.6" fill="#848484" stroke="#848484"/>
<circle cx="313.8" cy="543.7" r="6.6" fill="#848484" stroke="#848484"/>
<circle cx="320.3" cy="562.8" r="6.6" fill="#848484" stroke="#848484"/>
<circle cx="438.6" cy="497.8" r="6.6" fill="#848484" stroke="#848484"/>
<circle cx="464.8" cy="611.7" r="6.6" fill="#848484" stroke="#848484"/>
<circle cx="900.1" cy="483.3" r="6.6" fill="#848484" stroke="#848484"/>
<circle cx="483.0" cy="625.4" r="6.6" fill="#848484" stroke="#848484"/>
<circle cx="484.0" cy="474.7" r="6.6" fill="#848484" stroke="#848484"/>
<circle cx="907.7" cy="578.2" r="6.6" fill="#848484" stroke="#848484"/>
<circle cx="473.7" cy="572.2" r="6.6" fill="#848484" stroke="#848484"/>
<circle cx="381.1" cy="637.3" r="6.6" fill="#848484" stroke="#848484"/>
<circle cx="454.5" cy="567.8" r="6.6" fill="#848484" stroke="#848484"/>
<circle cx="340.1" cy="558.3" r="6.6" fill="#848484" stroke="#848484"/>
<circle cx="422.4" cy="675.4" r="6.6" fill="#848484" stroke="#848484"/>
<circle cx="475.7" cy="408.4" r="6.6" fill="#848484" stroke="#848484"/>
<circle cx="464.1" cy="613.5" r="6.6" fill="#848484" stroke="#848484"/>
<circle cx="438.4" cy="353.0" r="6.6" fill="#848484" stroke="#848484"/>
<circle cx="362.7" cy="575.4" r="6.6" fill="#848484" stroke="#848484"/>
<circle cx="395.7" cy="435.1" r="6.6" fill="#848484" stroke="#848484"/>
<circle cx="415.0" cy="581.5" r="6.6" fill="#848484" stroke="#848484"/>
<circle cx="397.5" cy="609.8" r="6.6" fill="#838383" stroke="#838383"/>
<circle cx="461.8" cy="694.6" r="6.6" fill="#838383" stroke="#838383"/>
<circle cx="473.8" cy="425.6" r="6.6" fill="#838383" stroke="#838383"/>
<circle cx="925.0" cy="551.1" r="6.6" fill="#838383" stroke="#838383"/>
<circle cx="404.5" cy="509.1" r="6.6" fill="#838383" stroke="#838383"/>
<circle cx="403.5" cy="509.6" r="6.6" fill="#838383" stroke="#838383"/>
<circle cx="916.5" cy="593.2" r="6.6" fill="#838383" stroke="#838383"/>
<circle cx="432.0" cy="356.8" r="6.6" fill="#838383" stroke="#838383"/>
<circle cx="851.7" cy="640.5" r="6.6" fill="#838383" stroke="#838383"/>
<circle cx="387.3" cy="579.0" r="6.6" fill="#838383" stroke="#838383"/>
<circle cx="399.4" cy="426.7" r="6.6" fill="#838383" stroke="#838383"/>
<circle cx="788.9" cy="474.1" r="6.6" fill="#838383" stroke="#838383"/>
<circle cx="751.1" cy="472.0" r="6.6" fill="#838383" stroke="#838383"/>
<circle cx="341.7" cy="555.6" r="6.6" fill="#838383" stroke="#838383"/>
<circle cx="776.6" cy="365.5" r="6.6" fill="#838383" stroke="#838383"/>
<circle cx="892.4" cy="497.9" r="6.6" fill="#838383" stroke="#838383"/>
<circle cx="356.0" cy="599.4" r="6.6" fill="#838383" stroke="#838383"/>
<circle cx="734.6" cy="394.7" r="6.6" fill="#838383" stroke="#838383"/>
<circle cx="463.1" cy="677.3" r="6.6" fill="#838383" stroke="#838383"/>
<circle cx="442.0" cy="693.5" r="6.6" fill="#828282" stroke="#828282"/>
<circle cx="422.2" cy="696.0" r="6.6" fill="#828282" stroke="#828282"/>
<circle cx="444.5" cy="523.9" r="6.6" fill="#828282" stroke="#828282"/>
<circle cx="874.1" cy="612.6" r="6.6" fill="#828282" stroke="#828282"/>
<circle cx="401.2" cy="587.8" r="6.6" fill="#828282" stroke="#828282"/>
<circle cx="918.1" cy="570.5" r="6.6" fill="#828282" stroke="#828282"/>
<circle cx="369.7" cy="635.4" r="6.6" fill="#828282" stroke="#828282"/>
<circle cx="469.4" cy="413.1" r="6.6" fill="#828282" stroke="#828282"/>
<circle cx="433.0" cy="655.6" r="6.6" fill="#828282" stroke="#828282"/>
<circle cx="309.5" cy="543.2" r="6.6" fill="#828282" stroke="#828282"/>
<circle cx="420.3" cy="418.3" r="6.6" fill="#828282" stroke="#828282"/>
<circle cx="462.2" cy="460.2" r="6.6" fill="#828282" stroke="#828282"/>
<circle cx="363.0" cy="507.8" r="6.6" fill="#828282" stroke="#828282"/>
<circle cx="478.2" cy="650.4" r="6.6" fill="#828282" stroke="#828282"/>
<circle cx="404.0" cy="681.7" r="6.6" fill="#818181" stroke="#818181"/>
<circle cx="781.8" cy="83.4" r="6.6" fill="#818181" stroke="#818181"/>
<circle cx="375.7" cy="505.3" r="6.6" fill="#818181" stroke="#818181"/>
<circle cx="451.9" cy="588.9" r="6.6" fill="#818181" stroke="#818181"/>
<circle cx="436.7" cy="435.1" r="6.6" fill="#818181" stroke="#818181"/>
<circle cx="464.0" cy="686.0" r="6.6" fill="#818181" stroke="#818181"/>
<circle cx="401.4" cy="525.5" r="6.6" fill="#818181" stroke="#818181"/>
<circle cx="790.8" cy="506.0" r="6.6" fill="#818181" stroke="#818181"/>
<circle cx="441.9" cy="685.5" r="6.6" fill="#818181" stroke="#818181"/>
<circle cx="477.9" cy="520.2" r="6.6" fill="#818181" stroke="#818181"/>
<circle cx="302.0" cy="528.1" r="6.6" fill="#818181" stroke="#818181"/>
<circle cx="363.4" cy="535.4" r="6.6" fill="#818181" stroke="#818181"/>
<circle cx="709.9" cy="566.9" r="6.6" fill="#818181" stroke="#818181"/>
<circle cx="735.0" cy="543.4" r="6.6" fill="#818181" stroke="#818181"/>
<circle cx="338.8" cy="615.6" r="6.6" fill="#818181" stroke="#818181"/>
<circle cx="433.8" cy="500.9" r="6.6" fill="#818181" stroke="#818181"/>
<circle cx="436.5" cy="406.4" r="6.6" fill="#818181" stroke="#818181"/>
<circle cx="343.3" cy="524.1" r="6.6" fill="#808080" stroke="#808080"/>
<circle cx="455.3" cy="632.1" r="6.6" fill="#808080" stroke="#808080"/>
<circle cx="451.7" cy="640.4" r="6.6" fill="#808080" stroke="#808080"/>
<circle cx="923.4" cy="536.5" r="6.6" fill="#808080" stroke="#808080"/>
<circle cx="458.2" cy="651.4" r="6.6" fill="#808080" stroke="#808080"/>
<circle cx="282.1" cy="557.9" r="6.6" fill="#808080" stroke="#808080"/>
<circle cx="464.2" cy="550.9" r="6.6" fill="#808080" stroke="#808080"/>
<circle cx="463.4" cy="548.4" r="6.6" fill="#808080" stroke="#808080"/>
<circle cx="369.5" cy="657.0" r="6.6" fill="#808080" stroke="#808080"/>
<circle cx="382.9" cy="506.2" r="6.6" fill="#808080" stroke="#808080"/>
<circle cx="681.7" cy="476.7" r="6.6" fill="#808080" stroke="#808080"/>
<circle cx="462.3" cy="465.5" r="6.6" fill="#808080" stroke="#808080"/>
<circle cx="438.5" cy="427.6" r="6.6" fill="#808080" stroke="#808080"/>
<circle cx="439.3" cy="512.1" r="6.6" fill="#808080" stroke="#808080"/>
<circle cx="369.0" cy="480.8" r="6.6" fill="#808080" stroke="#808080"/>
<circle cx="424.2" cy="456.7" r="6.6" fill="#808080" stroke="#808080"/>
<circle cx="451.8" cy="487.1" r="6.6" fill="#808080" stroke="#808080"/>
<circle cx="735.2" cy="703.5" r="6.6" fill="#808080" stroke="#808080"/>
<circle cx="711.4" cy="552.6" r="6.6" fill="#808080" stroke="#808080"/>
<circle cx="376.6" cy="506.4" r="6.6" fill="#808080" stroke="#808080"/>
<circle cx="368.0" cy="648.3" r="6.6" fill="#808080" stroke="#808080"/>
<circle cx="421.3" cy="636.3" r="6.6" fill="#7f7f7f" stroke="#7f7f7f"/>
<circle cx="404.9" cy="531.7" r="6.6" fill="#7f7f7f" stroke="#7f7f7f"/>
<circle cx="331.8" cy="556.2" r="6.6" fill="#7f7f7f" stroke="#7f7f7f"/>
<circle cx="908.5" cy="619.1" r="6.6" fill="#7f7f7f" stroke="#7f7f7f"/>
<circle cx="762.7" cy="492.1" r="6.6" fill="#7f7f7f" stroke="#7f7f7f"/>
<circle cx="480.5" cy="609.0" r="6.6" fill="#7f7f7f" stroke="#7f7f7f"/>
<circle cx="768.4" cy="144.6" r="6.6" fill="#7f7f7f" stroke="#7f7f7f"/>
<circle cx="763.5" cy="205.8" r="6.6" fill="#7f7f7f" stroke="#7f7f7f"/>
<circle cx="766.0" cy="264.9" r="6.6" fill="#7f7f7f" stroke="#7f7f7f"/>
<circle cx="406.0" cy="560.4" r="6.6" fill="#7f7f7f" stroke="#7f7f7f"/>
<circle cx="421.9" cy="560.1" r="6.6" fill="#7f7f7f" stroke="#7f7f7f"/>
<circle cx="403.5" cy="661.2" r="6.6" fill="#7f7f7f" stroke="#7f7f7f"/>
<circle cx="467.5" cy="628.9" r="6.6" fill="#7f7f7f" stroke="#7f7f7f"/>
<circle cx="750.3" cy="529.0" r="6.6" fill="#7f7f7f" stroke="#7f7f7f"/>
<circle cx="401.6" cy="673.9" r="6.6" fill="#7f7f7f" stroke="#7f7f7f"/>
<circle cx="405.1" cy="551.6" r="6.6" fill="#7f7f7f" stroke="#7f7f7f"/>
<circle cx="334.2" cy="543.2" r="6.6" fill="#7f7f7f" stroke="#7f7f7f"/>
<circle cx="442.1" cy="537.2" r="6.6" fill="#7f7f7f" stroke="#7f7f7f"/>
<circle cx="440.2" cy="606.8" r="6.6" fill="#7f7f7f" stroke="#7f7f7f"/>
<circle cx="471.9" cy="511.6" r="6.6" fill="#7f7f7f" stroke="#7f7f7f"/>
<circle cx="444.3" cy="607.9" r="6.6" fill="#7f7f7f" stroke="#7f7f7f"/>
<circle cx="449.5" cy="677.5" r="6.6" fill="#7f7f7f" stroke="#7f7f7f"/>
<circle cx="465.6" cy="436.5" r="6.6" fill="#7f7f7f" stroke="#7f7f7f"/>
<circle cx="454.6" cy="464.7" r="6.6" fill="#7e7e7e" stroke="#7e7e7e"/>
<circle cx="412.2" cy="555.7" r="6.6" fill="#7e7e7e" stroke="#7e7e7e"/>
<circle cx="402.9" cy="671.5" r="6.6" fill="#7e7e7e" stroke="#7e7e7e"/>
<circle cx="879.5" cy="501.3" r="6.6" fill="#7e7e7e" stroke="#7e7e7e"/>
<circle cx="751.1" cy="469.2" r="6.6" fill="#7e7e7e" stroke="#7e7e7e"/>
<circle cx="336.8" cy="621.2" r="6.6" fill="#7e7e7e" stroke="#7e7e7e"/>
<circle cx="417.4" cy="591.5" r="6.6" fill="#7e7e7e" stroke="#7e7e7e"/>
<circle cx="479.3" cy="446.4" r="6.6" fill="#7e7e7e" stroke="#7e7e7e"/>
<circle cx="401.5" cy="549.0" r="6.6" fill="#7e7e7e" stroke="#7e7e7e"/>
<circle cx="343.3" cy="540.8" r="6.6" fill="#7e7e7e" stroke="#7e7e7e"/>
<circle cx="333.0" cy="545.9" r="6.6" fill="#7e7e7e" stroke="#7e7e7e"/>
<circle cx="722.1" cy="472.9" r="6.6" fill="#7e7e7e" stroke="#7e7e7e"/>
<circle cx="423.1" cy="436.0" r="6.6" fill="#7e7e7e" stroke="#7e7e7e"/>
<circle cx="315.8" cy="527.2" r="6.6" fill="#7e7e7e" stroke="#7e7e7e"/>
<circle cx="443.9" cy="556.7" r="6.6" fill="#7e7e7e" stroke="#7e7e7e"/>
<circle cx="352.9" cy="626.0" r="6.6" fill="#7e7e7e" stroke="#7e7e7e"/>
<circle cx="439.0" cy="607.1" r="6.6" fill="#7e7e7e" stroke="#7e7e7e"/>
<circle cx="711.9" cy="547.8" r="6.6" fill="#7e7e7e" stroke="#7e7e7e"/>
<circle cx="477.7" cy="538.5" r="6.6" fill="#7d7d7d" stroke="#7d7d7d"/>
<circle cx="344.4" cy="558.2" r="6.6" fill="#7d7d7d" stroke="#7d7d7d"/>
<circle cx="916.7" cy="581.8" r="6.6" fill="#7d7d7d" stroke="#7d7d7d"/>
<circle cx="466.9" cy="583.5" r="6.6" fill="#7d7d7d" stroke="#7d7d7d"/>
<circle cx="463.7" cy="681.4" r="6.6" fill="#7d7d7d" stroke="#7d7d7d"/>
<circle cx="441.5" cy="598.1" r="6.6" fill="#7d7d7d" stroke="#7d7d7d"/>
<circle cx="464.2" cy="535.4" r="6.6" fill="#7d7d7d" stroke="#7d7d7d"/>
<circle cx="453.4" cy="255.5" r="6.6" fill="#7d7d7d" stroke="#7d7d7d"/>
<circle cx="454.4" cy="262.8" r="6.6" fill="#7d7d7d" stroke="#7d7d7d"/>
<circle cx="317.4" cy="391.5" r="6.6" fill="#7d7d7d" stroke="#7d7d7d"/>
<circle cx="341.0" cy="450.4" r="6.6" fill="#7d7d7d" stroke="#7d7d7d"/>
<circle cx="239.8" cy="491.9" r="6.6" fill="#7d7d7d" stroke="#7d7d7d"/>
<circle cx="286.3" cy="486.8" r="6.6" fill="#7d7d7d" stroke="#7d7d7d"/>
<circle cx="754.8" cy="100.0" r="6.6" fill="#7d7d7d" stroke="#7d7d7d"/>
<circle cx="778.2" cy="136.8" r="6.6" fill="#7d7d7d" stroke="#7d7d7d"/>
<circle cx="766.8" cy="186.6" r="6.6" fill="#7d7d7d" stroke="#7d7d7d"/>
<circle cx="751.3" cy="183.3" r="6.6" fill="#7d7d7d" stroke="#7d7d7d"/>
<circle cx="749.6" cy="218.9" r="6.6" fill="#7d7d7d" stroke="#7d7d7d"/>
<circle cx="750.1" cy="238.8" r="6.6" fill="#7d7d7d" stroke="#7d7d7d"/>
<circle cx="743.1" cy="274.7" r="6.6" fill="#7d7d7d" stroke="#7d7d7d"/>
<circle cx="752.9" cy="293.5" r="6.6" fill="#7d7d7d" stroke="#7d7d7d"/>
<circle cx="729.2" cy="312.3" r="6.6" fill="#7d7d7d" stroke="#7d7d7d"/>
<circle cx="358.6" cy="641.0" r="6.6" fill="#7d7d7d" stroke="#7d7d7d"/>
<circle cx="413.1" cy="616.4" r="6.6" fill="#7d7d7d" stroke="#7d7d7d"/>
<circle cx="423.2" cy="494.5" r="6.6" fill="#7d7d7d" stroke="#7d7d7d"/>
<circle cx="433.7" cy="615.5" r="6.6" fill="#7d7d7d" stroke="#7d7d7d"/>
<circle cx="445.6" cy="534.4" r="6.6" fill="#7d7d7d" stroke="#7d7d7d"/>
<circle cx="899.2" cy="616.8" r="6.6" fill="#7d7d7d" stroke="#7d7d7d"/>
<circle cx="348.4" cy="597.6" r="6.6" fill="#7c7c7c" stroke="#7c7c7c"/>
<circle cx="741.2" cy="695.0" r="6.6" fill="#7c7c7c" stroke="#7c7c7c"/>
<circle cx="477.7" cy="381.5" r="6.6" fill="#7c7c7c" stroke="#7c7c7c"/>
<circle cx="394.8" cy="676.8" r="6.6" fill="#7c7c7c" stroke="#7c7c7c"/>
<circle cx="345.8" cy="620.1" r="6.6" fill="#7c7c7c" stroke="#7c7c7c"/>
<circle cx="406.5" cy="514.3" r="6.6" fill="#7c7c7c" stroke="#7c7c7c"/>
<circle cx="313.9" cy="585.6" r="6.6" fill="#7c7c7c" stroke="#7c7c7c"/>
<circle cx="376.0" cy="548.7" r="6.6" fill="#7c7c7c" stroke="#7c7c7c"/>
<circle cx="409.9" cy="662.3" r="6.6" fill="#7c7c7c" stroke="#7c7c7c"/>
<circle cx="434.9" cy="513.3" r="6.6" fill="#7c7c7c" stroke="#7c7c7c"/>
<circle cx="459.3" cy="677.7" r="6.6" fill="#7c7c7c" stroke="#7c7c7c"/>
<circle cx="415.0" cy="691.1" r="6.6" fill="#7c7c7c" stroke="#7c7c7c"/>
<circle cx="919.0" cy="607.6" r="6.6" fill="#7c7c7c" stroke="#7c7c7c"/>
<circle cx="475.8" cy="473.6" r="6.6" fill="#7c7c7c" stroke="#7c7c7c"/>
<circle cx="289.1" cy="528.5" r="6.6" fill="#7c7c7c" stroke="#7c7c7c"/>
<circle cx="322.6" cy="553.7" r="6.6" fill="#7c7c7c" stroke="#7c7c7c"/>
<circle cx="716.6" cy="519.6" r="6.6" fill="#7c7c7c" stroke="#7c7c7c"/>
<circle cx="458.0" cy="531.5" r="6.6" fill="#7c7c7c" stroke="#7c7c7c"/>
<circle cx="441.7" cy="525.8" r="6.6" fill="#7c7c7c" stroke="#7c7c7c"/>
<circle cx="442.6" cy="336.7" r="6.6" fill="#7c7c7c" stroke="#7c7c7c"/>
<circle cx="479.2" cy="396.2" r="6.6" fill="#7c7c7c" stroke="#7c7c7c"/>
<circle cx="422.8" cy="518.2" r="6.6" fill="#7c7c7c" stroke="#7c7c7c"/>
<circle cx="423.6" cy="511.9" r="6.6" fill="#7c7c7c" stroke="#7c7c7c"/>
<circle cx="442.6" cy="423.3" r="6.6" fill="#7c7c7c" stroke="#7c7c7c"/>
<circle cx="772.8" cy="518.7" r="6.6" fill="#7c7c7c" stroke="#7c7c7c"/>
<circle cx="447.6" cy="433.2" r="6.6" fill="#7b7b7b" stroke="#7b7b7b"/>
<circle cx="366.6" cy="547.4" r="6.6" fill="#7b7b7b" stroke="#7b7b7b"/>
<circle cx="442.4" cy="520.3" r="6.6" fill="#7b7b7b" stroke="#7b7b7b"/>
<circle cx="700.1" cy="706.0" r="6.6" fill="#7b7b7b" stroke="#7b7b7b"/>
<circle cx="368.7" cy="501.8" r="6.6" fill="#7b7b7b" stroke="#7b7b7b"/>
<circle cx="460.3" cy="482.3" r="6.6" fill="#7b7b7b" stroke="#7b7b7b"/>
<circle cx="448.6" cy="447.8" r="6.6" fill="#7b7b7b" stroke="#7b7b7b"/>
<circle cx="457.7" cy="701.1" r="6.6" fill="#7b7b7b" stroke="#7b7b7b"/>
<circle cx="407.8" cy="569.4" r="6.6" fill="#7b7b7b" stroke="#7b7b7b"/>
<circle cx="475.7" cy="541.5" r="6.6" fill="#7b7b7b" stroke="#7b7b7b"/>
<circle cx="752.2" cy="444.4" r="6.6" fill="#7b7b7b" stroke="#7b7b7b"/>
<circle cx="337.3" cy="541.1" r="6.6" fill="#7b7b7b" stroke="#7b7b7b"/>
<circle cx="456.5" cy="276.5" r="6.6" fill="#7b7b7b" stroke="#7b7b7b"/>
<circle cx="457.4" cy="278.8" r="6.6" fill="#7b7b7b" stroke="#7b7b7b"/>
<circle cx="475.3" cy="322.9" r="6.6" fill="#7b7b7b" stroke="#7b7b7b"/>
<circle cx="352.2" cy="445.8" r="6.6" fill="#7b7b7b" stroke="#7b7b7b"/>
<circle cx="384.9" cy="484.0" r="6.6" fill="#7b7b7b" stroke="#7b7b7b"/>
<circle cx="302.0" cy="490.0" r="6.6" fill="#7b7b7b" stroke="#7b7b7b"/>
<circle cx="249.5" cy="534.5" r="6.6" fill="#7b7b7b" stroke="#7b7b7b"/>
<circle cx="259.8" cy="549.4" r="6.6" fill="#7b7b7b" stroke="#7b7b7b"/>
<circle cx="289.6" cy="546.6" r="6.6" fill="#7b7b7b" stroke="#7b7b7b"/>
<circle cx="313.0" cy="521.4" r="6.6" fill="#7b7b7b" stroke="#7b7b7b"/>
<circle cx="310.2" cy="544.7" r="6.6" fill="#7b7b7b" stroke="#7b7b7b"/>
<circle cx="351.3" cy="519.5" r="6.6" fill="#7b7b7b" stroke="#7b7b7b"/>
<circle cx="355.9" cy="501.8" r="6.6" fill="#7b7b7b" stroke="#7b7b7b"/>
<circle cx="746.4" cy="196.4" r="6.6" fill="#7b7b7b" stroke="#7b7b7b"/>
<circle cx="742.0" cy="222.8" r="6.6" fill="#7b7b7b" stroke="#7b7b7b"/>
<circle cx="743.9" cy="243.7" r="6.6" fill="#7b7b7b" stroke="#7b7b7b"/>
<circle cx="748.3" cy="264.9" r="6.6" fill="#7b7b7b" stroke="#7b7b7b"/>
<circle cx="739.0" cy="287.8" r="6.6" fill="#7b7b7b" stroke="#7b7b7b"/>
<circle cx="737.4" cy="304.1" r="6.6" fill="#7b7b7b" stroke="#7b7b7b"/>
<circle cx="736.8" cy="305.0" r="6.6" fill="#7b7b7b" stroke="#7b7b7b"/>
<circle cx="749.3" cy="310.0" r="6.6" fill="#7b7b7b" stroke="#7b7b7b"/>
<circle cx="725.9" cy="325.0" r="6.6" fill="#7b7b7b" stroke="#7b7b7b"/>
<circle cx="747.6" cy="325.0" r="6.6" fill="#7b7b7b" stroke="#7b7b7b"/>
<circle cx="732.6" cy="340.1" r="6.6" fill="#7b7b7b" stroke="#7b7b7b"/>
<circle cx="731.8" cy="350.1" r="6.6" fill="#7b7b7b" stroke="#7b7b7b"/>
<circle cx="753.5" cy="351.8" r="6.6" fill="#7b7b7b" stroke="#7b7b7b"/>
<circle cx="743.5" cy="363.5" r="6.6" fill="#7b7b7b" stroke="#7b7b7b"/>
<circle cx="797.8" cy="371.0" r="6.6" fill="#7b7b7b" stroke="#7b7b7b"/>
<circle cx="801.1" cy="381.9" r="6.6" fill="#7b7b7b" stroke="#7b7b7b"/>
<circle cx="763.5" cy="400.2" r="6.6" fill="#7b7b7b" stroke="#7b7b7b"/>
<circle cx="756.0" cy="413.6" r="6.6" fill="#7b7b7b" stroke="#7b7b7b"/>
<circle cx="770.2" cy="423.6" r="6.6" fill="#7b7b7b" stroke="#7b7b7b"/>
<circle cx="881.8" cy="476.6" r="6.6" fill="#7b7b7b" stroke="#7b7b7b"/>
<circle cx="972.8" cy="545.2" r="6.6" fill="#7b7b7b" stroke="#7b7b7b"/>
<circle cx="943.4" cy="553.6" r="6.6" fill="#7b7b7b" stroke="#7b7b7b"/>
<circle cx="908.4" cy="595.6" r="6.6" fill="#7b7b7b" stroke="#7b7b7b"/>
<circle cx="922.4" cy="531.2" r="6.6" fill="#7b7b7b" stroke="#7b7b7b"/>
<circle cx="378.6" cy="479.6" r="6.6" fill="#7b7b7b" stroke="#7b7b7b"/>
<circle cx="703.1" cy="571.5" r="6.6" fill="#7b7b7b" stroke="#7b7b7b"/>
<circle cx="707.3" cy="582.2" r="6.6" fill="#7b7b7b" stroke="#7b7b7b"/>
<circle cx="375.2" cy="630.5" r="6.6" fill="#7b7b7b" stroke="#7b7b7b"/>
<circle cx="405.1" cy="605.1" r="6.6" fill="#7b7b7b" stroke="#7b7b7b"/>
<circle cx="411.5" cy="515.0" r="6.6" fill="#7b7b7b" stroke="#7b7b7b"/>
<circle cx="468.9" cy="508.1" r="6.6" fill="#7b7b7b" stroke="#7b7b7b"/>
<circle cx="353.6" cy="573.4" r="6.6" fill="#7b7b7b" stroke="#7b7b7b"/>
<circle cx="373.5" cy="571.9" r="6.6" fill="#7a7a7a" stroke="#7a7a7a"/>
<circle cx="359.6" cy="650.5" r="6.6" fill="#7a7a7a" stroke="#7a7a7a"/>
<circle cx="425.8" cy="411.2" r="6.6" fill="#7a7a7a" stroke="#7a7a7a"/>
<circle cx="311.3" cy="550.3" r="6.6" fill="#7a7a7a" stroke="#7a7a7a"/>
<circle cx="442.5" cy="539.2" r="6.6" fill="#7a7a7a" stroke="#7a7a7a"/>
<circle cx="329.3" cy="568.4" r="6.6" fill="#7a7a7a" stroke="#7a7a7a"/>
<circle cx="475.8" cy="570.9" r="6.6" fill="#7a7a7a" stroke="#7a7a7a"/>
<circle cx="331.6" cy="550.2" r="6.6" fill="#7a7a7a" stroke="#7a7a7a"/>
<circle cx="334.0" cy="582.8" r="6.6" fill="#7a7a7a" stroke="#7a7a7a"/>
<circle cx="399.7" cy="447.1" r="6.6" fill="#7a7a7a" stroke="#7a7a7a"/>
<circle cx="771.3" cy="505.9" r="6.6" fill="#7a7a7a" stroke="#7a7a7a"/>
<circle cx="318.2" cy="548.4" r="6.6" fill="#7a7a7a" stroke="#7a7a7a"/>
<circle cx="466.2" cy="479.2" r="6.6" fill="#7a7a7a" stroke="#7a7a7a"/>
<circle cx="352.9" cy="606.3" r="6.6" fill="#7a7a7a" stroke="#7a7a7a"/>
<circle cx="457.6" cy="681.7" r="6.6" fill="#7a7a7a" stroke="#7a7a7a"/>
<circle cx="475.8" cy="644.9" r="6.6" fill="#7a7a7a" stroke="#7a7a7a"/>
<circle cx="353.5" cy="494.3" r="6.6" fill="#797979" stroke="#797979"/>
<circle cx="429.4" cy="444.3" r="6.6" fill="#797979" stroke="#797979"/>
<circle cx="357.8" cy="571.6" r="6.6" fill="#797979" stroke="#797979"/>
<circle cx="423.7" cy="663.0" r="6.6" fill="#797979" stroke="#797979"/>
<circle cx="708.6" cy="641.9" r="6.6" fill="#797979" stroke="#797979"/>
<circle cx="455.4" cy="506.4" r="6.6" fill="#797979" stroke="#797979"/>
<circle cx="355.4" cy="577.1" r="6.6" fill="#797979" stroke="#797979"/>
<circle cx="481.9" cy="534.4" r="6.6" fill="#797979" stroke="#797979"/>
<circle cx="707.9" cy="495.1" r="6.6" fill="#797979" stroke="#797979"/>
<circle cx="406.3" cy="613.2" r="6.6" fill="#797979" stroke="#797979"/>
<circle cx="352.9" cy="528.3" r="6.6" fill="#797979" stroke="#797979"/>
<circle cx="290.9" cy="540.8" r="6.6" fill="#797979" stroke="#797979"/>
<circle cx="404.7" cy="491.4" r="6.6" fill="#797979" stroke="#797979"/>
<circle cx="353.5" cy="554.9" r="6.6" fill="#797979" stroke="#797979"/>
<circle cx="757.6" cy="465.2" r="6.6" fill="#797979" stroke="#797979"/>
<circle cx="403.6" cy="617.1" r="6.6" fill="#797979" stroke="#797979"/>
<circle cx="369.9" cy="585.2" r="6.6" fill="#797979" stroke="#797979"/>
<circle cx="952.9" cy="524.6" r="6.6" fill="#797979" stroke="#797979"/>
<circle cx="454.4" cy="498.8" r="6.6" fill="#797979" stroke="#797979"/>
<circle cx="350.8" cy="508.0" r="6.6" fill="#797979" stroke="#797979"/>
<circle cx="925.3" cy="539.6" r="6.6" fill="#797979" stroke="#797979"/>
<circle cx="459.5" cy="521.7" r="6.6" fill="#797979" stroke="#797979"/>
<circle cx="386.4" cy="490.7" r="6.6" fill="#797979" stroke="#797979"/>
<circle cx="429.5" cy="431.1" r="6.6" fill="#787878" stroke="#787878"/>
<circle cx="480.1" cy="621.1" r="6.6" fill="#787878" stroke="#787878"/>
<circle cx="430.1" cy="352.0" r="6.6" fill="#787878" stroke="#787878"/>
<circle cx="423.2" cy="524.0" r="6.6" fill="#787878" stroke="#787878"/>
<circle cx="434.3" cy="618.5" r="6.6" fill="#787878" stroke="#787878"/>
<circle cx="449.0" cy="401.3" r="6.6" fill="#787878" stroke="#787878"/>
<circle cx="368.8" cy="488.7" r="6.6" fill="#787878" stroke="#787878"/>
<circle cx="468.9" cy="350.4" r="6.6" fill="#787878" stroke="#787878"/>
<circle cx="560.0" cy="498.0" r="6.6" fill="#787878" stroke="#787878"/>
<circle cx="445.4" cy="357.4" r="6.6" fill="#787878" stroke="#787878"/>
<circle cx="337.8" cy="513.6" r="6.6" fill="#787878" stroke="#787878"/>
<circle cx="293.8" cy="534.0" r="6.6" fill="#787878" stroke="#787878"/>
<circle cx="825.5" cy="672.2" r="6.6" fill="#787878" stroke="#787878"/>
<circle cx="485.1" cy="469.0" r="6.6" fill="#787878" stroke="#787878"/>
<circle cx="765.8" cy="516.0" r="6.6" fill="#787878" stroke="#787878"/>
<circle cx="331.4" cy="604.6" r="6.6" fill="#787878" stroke="#787878"/>
<circle cx="409.2" cy="651.3" r="6.6" fill="#787878" stroke="#787878"/>
<circle cx="702.4" cy="670.7" r="6.6" fill="#777777" stroke="#777777"/>
<circle cx="766.8" cy="134.3" r="6.6" fill="#777777" stroke="#777777"/>
<circle cx="766.8" cy="175.2" r="6.6" fill="#777777" stroke="#777777"/>
<circle cx="366.7" cy="527.8" r="6.6" fill="#777777" stroke="#777777"/>
<circle cx="381.9" cy="618.0" r="6.6" fill="#777777" stroke="#777777"/>
<circle cx="318.0" cy="546.7" r="6.6" fill="#777777" stroke="#777777"/>
<circle cx="807.4" cy="689.8" r="6.6" fill="#777777" stroke="#777777"/>
<circle cx="369.1" cy="645.5" r="6.6" fill="#777777" stroke="#777777"/>
<circle cx="470.0" cy="496.9" r="6.6" fill="#777777" stroke="#777777"/>
<circle cx="468.8" cy="501.4" r="6.6" fill="#777777" stroke="#777777"/>
<circle cx="888.2" cy="502.7" r="6.6" fill="#777777" stroke="#777777"/>
<circle cx="328.0" cy="605.0" r="6.6" fill="#777777" stroke="#777777"/>
<circle cx="483.2" cy="692.9" r="6.6" fill="#777777" stroke="#777777"/>
<circle cx="391.9" cy="570.6" r="6.6" fill="#777777" stroke="#777777"/>
<circle cx="416.5" cy="506.3" r="6.6" fill="#777777" stroke="#777777"/>
<circle cx="891.4" cy="615.1" r="6.6" fill="#767676" stroke="#767676"/>
<circle cx="484.8" cy="673.6" r="6.6" fill="#767676" stroke="#767676"/>
<circle cx="436.9" cy="577.3" r="6.6" fill="#767676" stroke="#767676"/>
<circle cx="444.8" cy="563.3" r="6.6" fill="#767676" stroke="#767676"/>
<circle cx="350.1" cy="620.0" r="6.6" fill="#767676" stroke="#767676"/>
<circle cx="352.2" cy="642.0" r="6.6" fill="#767676" stroke="#767676"/>
<circle cx="470.5" cy="583.6" r="6.6" fill="#767676" stroke="#767676"/>
<circle cx="479.3" cy="385.0" r="6.6" fill="#757575" stroke="#757575"/>
<circle cx="381.8" cy="575.5" r="6.6" fill="#757575" stroke="#757575"/>
<circle cx="303.6" cy="562.0" r="6.6" fill="#757575" stroke="#757575"/>
<circle cx="461.0" cy="681.0" r="6.6" fill="#757575" stroke="#757575"/>
<circle cx="449.5" cy="433.6" r="6.6" fill="#757575" stroke="#757575"/>
<circle cx="318.5" cy="570.8" r="6.6" fill="#757575" stroke="#757575"/>
<circle cx="328.7" cy="537.5" r="6.6" fill="#757575" stroke="#757575"/>
<circle cx="314.6" cy="521.1" r="6.6" fill="#757575" stroke="#757575"/>
<circle cx="311.3" cy="522.3" r="6.6" fill="#757575" stroke="#757575"/>
<circle cx="381.0" cy="647.2" r="6.6" fill="#757575" stroke="#757575"/>
<circle cx="405.5" cy="522.2" r="6.6" fill="#757575" stroke="#757575"/>
<circle cx="756.5" cy="514.3" r="6.6" fill="#757575" stroke="#757575"/>
<circle cx="916.1" cy="554.8" r="6.6" fill="#757575" stroke="#757575"/>
<circle cx="424.1" cy="545.6" r="6.6" fill="#757575" stroke="#757575"/>
<circle cx="454.3" cy="439.9" r="6.6" fill="#757575" stroke="#757575"/>
<circle cx="396.4" cy="537.4" r="6.6" fill="#757575" stroke="#757575"/>
<circle cx="484.4" cy="469.6" r="6.6" fill="#747474" stroke="#747474"/>
<circle cx="337.3" cy="633.1" r="6.6" fill="#747474" stroke="#747474"/>
<circle cx="443.3" cy="544.2" r="6.6" fill="#747474" stroke="#747474"/>
<circle cx="443.2" cy="640.3" r="6.6" fill="#747474" stroke="#747474"/>
<circle cx="463.8" cy="511.6" r="6.6" fill="#747474" stroke="#747474"/>
<circle cx="469.1" cy="702.4" r="6.6" fill="#747474" stroke="#747474"/>
<circle cx="340.1" cy="535.7" r="6.6" fill="#747474" stroke="#747474"/>
<circle cx="459.7" cy="608.6" r="6.6" fill="#747474" stroke="#747474"/>
<circle cx="897.3" cy="591.1" r="6.6" fill="#747474" stroke="#747474"/>
<circle cx="441.9" cy="653.0" r="6.6" fill="#747474" stroke="#747474"/>
<circle cx="436.7" cy="700.4" r="6.6" fill="#747474" stroke="#747474"/>
<circle cx="460.5" cy="335.9" r="6.6" fill="#747474" stroke="#747474"/>
<circle cx="438.9" cy="515.1" r="6.6" fill="#747474" stroke="#747474"/>
<circle cx="403.9" cy="639.9" r="6.6" fill="#747474" stroke="#747474"/>
<circle cx="431.1" cy="352.8" r="6.6" fill="#747474" stroke="#747474"/>
<circle cx="417.2" cy="536.1" r="6.6" fill="#747474" stroke="#747474"/>
<circle cx="423.7" cy="603.6" r="6.6" fill="#747474" stroke="#747474"/>
<circle cx="324.2" cy="591.1" r="6.6" fill="#747474" stroke="#747474"/>
<circle cx="471.3" cy="443.8" r="6.6" fill="#747474" stroke="#747474"/>
<circle cx="341.8" cy="552.6" r="6.6" fill="#737373" stroke="#737373"/>
<circle cx="363.6" cy="596.4" r="6.6" fill="#737373" stroke="#737373"/>
<circle cx="342.5" cy="641.0" r="6.6" fill="#737373" stroke="#737373"/>
<circle cx="442.7" cy="667.5" r="6.6" fill="#737373" stroke="#737373"/>
<circle cx="320.2" cy="563.5" r="6.6" fill="#737373" stroke="#737373"/>
<circle cx="403.2" cy="654.2" r="6.6" fill="#737373" stroke="#737373"/>
<circle cx="295.0" cy="548.7" r="6.6" fill="#737373" stroke="#737373"/>
<circle cx="331.8" cy="620.5" r="6.6" fill="#737373" stroke="#737373"/>
<circle cx="385.4" cy="613.4" r="6.6" fill="#737373" stroke="#737373"/>
<circle cx="295.1" cy="539.5" r="6.6" fill="#737373" stroke="#737373"/>
<circle cx="446.7" cy="432.8" r="6.6" fill="#737373" stroke="#737373"/>
<circle cx="475.7" cy="674.4" r="6.6" fill="#737373" stroke="#737373"/>
<circle cx="894.9" cy="522.6" r="6.6" fill="#737373" stroke="#737373"/>
<circle cx="481.7" cy="671.6" r="6.6" fill="#737373" stroke="#737373"/>
<circle cx="464.5" cy="338.7" r="6.6" fill="#737373" stroke="#737373"/>
<circle cx="485.6" cy="602.3" r="6.6" fill="#727272" stroke="#727272"/>
<circle cx="435.2" cy="381.2" r="6.6" fill="#727272" stroke="#727272"/>
<circle cx="456.8" cy="566.8" r="6.6" fill="#727272" stroke="#727272"/>
<circle cx="931.0" cy="540.2" r="6.6" fill="#727272" stroke="#727272"/>
<circle cx="949.7" cy="520.9" r="6.6" fill="#727272" stroke="#727272"/>
<circle cx="425.5" cy="486.9" r="6.6" fill="#727272" stroke="#727272"/>
<circle cx="347.7" cy="584.9" r="6.6" fill="#727272" stroke="#727272"/>
<circle cx="349.2" cy="508.7" r="6.6" fill="#727272" stroke="#727272"/>
<circle cx="457.3" cy="625.1" r="6.6" fill="#727272" stroke="#727272"/>
<circle cx="455.9" cy="638.7" r="6.6" fill="#727272" stroke="#727272"/>
<circle cx="473.2" cy="485.3" r="6.6" fill="#727272" stroke="#727272"/>
<circle cx="404.0" cy="527.5" r="6.6" fill="#727272" stroke="#727272"/>
<circle cx="436.6" cy="633.7" r="6.6" fill="#727272" stroke="#727272"/>
<circle cx="344.2" cy="552.2" r="6.6" fill="#727272" stroke="#727272"/>
<circle cx="352.6" cy="478.1" r="6.6" fill="#727272" stroke="#727272"/>
<circle cx="369.0" cy="481.2" r="6.6" fill="#727272" stroke="#727272"/>
<circle cx="286.8" cy="530.7" r="6.6" fill="#727272" stroke="#727272"/>
<circle cx="295.2" cy="528.9" r="6.6" fill="#727272" stroke="#727272"/>
<circle cx="349.4" cy="538.2" r="6.6" fill="#727272" stroke="#727272"/>
<circle cx="768.9" cy="124.2" r="6.6" fill="#727272" stroke="#727272"/>
<circle cx="970.0" cy="493.4" r="6.6" fill="#727272" stroke="#727272"/>
<circle cx="435.3" cy="699.2" r="6.6" fill="#727272" stroke="#727272"/>
<circle cx="393.0" cy="505.7" r="6.6" fill="#727272" stroke="#727272"/>
<circle cx="481.4" cy="637.4" r="6.6" fill="#727272" stroke="#727272"/>
<circle cx="925.9" cy="580.6" r="6.6" fill="#727272" stroke="#727272"/>
<circle cx="470.4" cy="358.2" r="6.6" fill="#727272" stroke="#727272"/>
<circle cx="469.5" cy="458.6" r="6.6" fill="#727272" stroke="#727272"/>
<circle cx="703.1" cy="601.4" r="6.6" fill="#727272" stroke="#727272"/>
<circle cx="460.4" cy="332.5" r="6.6" fill="#727272" stroke="#727272"/>
<circle cx="837.1" cy="677.3" r="6.6" fill="#727272" stroke="#727272"/>
<circle cx="470.1" cy="677.2" r="6.6" fill="#727272" stroke="#727272"/>
<circle cx="444.9" cy="432.2" r="6.6" fill="#727272" stroke="#727272"/>
<circle cx="410.5" cy="491.7" r="6.6" fill="#717171" stroke="#717171"/>
<circle cx="314.3" cy="581.0" r="6.6" fill="#717171" stroke="#717171"/>
<circle cx="461.9" cy="473.2" r="6.6" fill="#717171" stroke="#717171"/>
<circle cx="933.6" cy="505.7" r="6.6" fill="#717171" stroke="#717171"/>
<circle cx="391.2" cy="549.3" r="6.6" fill="#717171" stroke="#717171"/>
<circle cx="469.6" cy="328.1" r="6.6" fill="#717171" stroke="#717171"/>
<circle cx="294.0" cy="572.7" r="6.6" fill="#717171" stroke="#717171"/>
<circle cx="460.2" cy="689.9" r="6.6" fill="#717171" stroke="#717171"/>
<circle cx="472.7" cy="459.7" r="6.6" fill="#717171" stroke="#717171"/>
<circle cx="889.2" cy="606.3" r="6.6" fill="#717171" stroke="#717171"/>
<circle cx="357.4" cy="529.6" r="6.6" fill="#717171" stroke="#717171"/>
<circle cx="449.5" cy="516.6" r="6.6" fill="#717171" stroke="#717171"/>
<circle cx="777.7" cy="165.0" r="6.6" fill="#717171" stroke="#717171"/>
<circle cx="397.5" cy="679.6" r="6.6" fill="#717171" stroke="#717171"/>
<circle cx="443.2" cy="665.6" r="6.6" fill="#717171" stroke="#717171"/>
<circle cx="752.0" cy="700.1" r="6.6" fill="#717171" stroke="#717171"/>
<circle cx="425.4" cy="660.3" r="6.6" fill="#717171" stroke="#717171"/>
<circle cx="864.0" cy="499.7" r="6.6" fill="#717171" stroke="#717171"/>
<circle cx="317.5" cy="529.6" r="6.6" fill="#707070" stroke="#707070"/>
<circle cx="435.9" cy="398.0" r="6.6" fill="#707070" stroke="#707070"/>
<circle cx="474.1" cy="613.0" r="6.6" fill="#707070" stroke="#707070"/>
<circle cx="420.3" cy="536.1" r="6.6" fill="#707070" stroke="#707070"/>
<circle cx="342.1" cy="598.5" r="6.6" fill="#707070" stroke="#707070"/>
<circle cx="441.9" cy="351.0" r="6.6" fill="#707070" stroke="#707070"/>
<circle cx="443.8" cy="376.0" r="6.6" fill="#707070" stroke="#707070"/>
<circle cx="454.5" cy="529.9" r="6.6" fill="#707070" stroke="#707070"/>
<circle cx="903.5" cy="603.5" r="6.6" fill="#707070" stroke="#707070"/>
<circle cx="473.7" cy="641.6" r="6.6" fill="#707070" stroke="#707070"/>
<circle cx="347.2" cy="594.0" r="6.6" fill="#707070" stroke="#707070"/>
<circle cx="431.5" cy="682.2" r="6.6" fill="#707070" stroke="#707070"/>
<circle cx="921.8" cy="612.2" r="6.6" fill="#6f6f6f" stroke="#6f6f6f"/>
<circle cx="917.7" cy="521.1" r="6.6" fill="#6f6f6f" stroke="#6f6f6f"/>
<circle cx="486.3" cy="547.3" r="6.6" fill="#6f6f6f" stroke="#6f6f6f"/>
<circle cx="402.9" cy="560.8" r="6.6" fill="#6f6f6f" stroke="#6f6f6f"/>
<circle cx="786.3" cy="509.3" r="6.6" fill="#6f6f6f" stroke="#6f6f6f"/>
<circle cx="445.9" cy="396.3" r="6.6" fill="#6f6f6f" stroke="#6f6f6f"/>
<circle cx="391.0" cy="604.6" r="6.6" fill="#6f6f6f" stroke="#6f6f6f"/>
<circle cx="473.3" cy="422.5" r="6.6" fill="#6f6f6f" stroke="#6f6f6f"/>
<circle cx="477.4" cy="677.9" r="6.6" fill="#6f6f6f" stroke="#6f6f6f"/>
<circle cx="471.8" cy="364.2" r="6.6" fill="#6f6f6f" stroke="#6f6f6f"/>
<circle cx="438.2" cy="549.0" r="6.6" fill="#6f6f6f" stroke="#6f6f6f"/>
<circle cx="467.9" cy="702.6" r="6.6" fill="#6f6f6f" stroke="#6f6f6f"/>
<circle cx="761.9" cy="703.5" r="6.6" fill="#6f6f6f" stroke="#6f6f6f"/>
<circle cx="842.1" cy="680.0" r="6.6" fill="#6f6f6f" stroke="#6f6f6f"/>
<circle cx="452.8" cy="632.1" r="6.6" fill="#6f6f6f" stroke="#6f6f6f"/>
<circle cx="441.3" cy="400.8" r="6.6" fill="#6f6f6f" stroke="#6f6f6f"/>
<circle cx="462.5" cy="595.3" r="6.6" fill="#6f6f6f" stroke="#6f6f6f"/>
<circle cx="444.1" cy="607.6" r="6.6" fill="#6e6e6e" stroke="#6e6e6e"/>
<circle cx="305.7" cy="535.4" r="6.6" fill="#6e6e6e" stroke="#6e6e6e"/>
<circle cx="383.8" cy="643.6" r="6.6" fill="#6e6e6e" stroke="#6e6e6e"/>
<circle cx="463.1" cy="671.7" r="6.6" fill="#6e6e6e" stroke="#6e6e6e"/>
<circle cx="469.7" cy="417.7" r="6.6" fill="#6e6e6e" stroke="#6e6e6e"/>
<circle cx="462.7" cy="354.5" r="6.6" fill="#6d6d6d" stroke="#6d6d6d"/>
<circle cx="479.6" cy="687.2" r="6.6" fill="#6d6d6d" stroke="#6d6d6d"/>
<circle cx="288.7" cy="549.2" r="6.6" fill="#6d6d6d" stroke="#6d6d6d"/>
<circle cx="462.7" cy="702.8" r="6.6" fill="#6d6d6d" stroke="#6d6d6d"/>
<circle cx="379.5" cy="527.9" r="6.6" fill="#6d6d6d" stroke="#6d6d6d"/>
<circle cx="862.3" cy="507.5" r="6.6" fill="#6d6d6d" stroke="#6d6d6d"/>
<circle cx="475.0" cy="583.3" r="6.6" fill="#6d6d6d" stroke="#6d6d6d"/>
<circle cx="792.1" cy="505.1" r="6.6" fill="#6d6d6d" stroke="#6d6d6d"/>
<circle cx="435.4" cy="389.5" r="6.6" fill="#6d6d6d" stroke="#6d6d6d"/>
<circle cx="475.3" cy="680.2" r="6.6" fill="#6d6d6d" stroke="#6d6d6d"/>
<circle cx="474.9" cy="394.3" r="6.6" fill="#6d6d6d" stroke="#6d6d6d"/>
<circle cx="905.8" cy="536.3" r="6.6" fill="#6d6d6d" stroke="#6d6d6d"/>
<circle cx="423.1" cy="401.4" r="6.6" fill="#6d6d6d" stroke="#6d6d6d"/>
<circle cx="897.7" cy="527.2" r="6.6" fill="#6d6d6d" stroke="#6d6d6d"/>
<circle cx="390.1" cy="672.4" r="6.6" fill="#6d6d6d" stroke="#6d6d6d"/>
<circle cx="473.8" cy="566.2" r="6.6" fill="#6d6d6d" stroke="#6d6d6d"/>
<circle cx="457.1" cy="342.4" r="6.6" fill="#6d6d6d" stroke="#6d6d6d"/>
<circle cx="404.7" cy="586.4" r="6.6" fill="#6c6c6c" stroke="#6c6c6c"/>
<circle cx="388.5" cy="672.9" r="6.6" fill="#6c6c6c" stroke="#6c6c6c"/>
<circle cx="414.2" cy="506.7" r="6.6" fill="#6c6c6c" stroke="#6c6c6c"/>
<circle cx="420.2" cy="374.0" r="6.6" fill="#6c6c6c" stroke="#6c6c6c"/>
<circle cx="477.2" cy="436.0" r="6.6" fill="#6c6c6c" stroke="#6c6c6c"/>
<circle cx="434.6" cy="645.8" r="6.6" fill="#6c6c6c" stroke="#6c6c6c"/>
<circle cx="291.7" cy="565.0" r="6.6" fill="#6c6c6c" stroke="#6c6c6c"/>
<circle cx="434.2" cy="505.1" r="6.6" fill="#6c6c6c" stroke="#6c6c6c"/>
<circle cx="780.2" cy="510.3" r="6.6" fill="#6c6c6c" stroke="#6c6c6c"/>
<circle cx="837.1" cy="646.1" r="6.6" fill="#6c6c6c" stroke="#6c6c6c"/>
<circle cx="453.6" cy="516.2" r="6.6" fill="#6c6c6c" stroke="#6c6c6c"/>
<circle cx="432.9" cy="574.2" r="6.6" fill="#6c6c6c" stroke="#6c6c6c"/>
<circle cx="367.4" cy="655.8" r="6.6" fill="#6c6c6c" stroke="#6c6c6c"/>
<circle cx="890.8" cy="508.6" r="6.6" fill="#6c6c6c" stroke="#6c6c6c"/>
<circle cx="328.3" cy="561.1" r="6.6" fill="#6c6c6c" stroke="#6c6c6c"/>
<circle cx="392.2" cy="540.8" r="6.6" fill="#6c6c6c" stroke="#6c6c6c"/>
<circle cx="896.1" cy="605.9" r="6.6" fill="#6b6b6b" stroke="#6b6b6b"/>
<circle cx="469.0" cy="650.7" r="6.6" fill="#6b6b6b" stroke="#6b6b6b"/>
<circle cx="408.8" cy="608.1" r="6.6" fill="#6b6b6b" stroke="#6b6b6b"/>
<circle cx="445.1" cy="305.7" r="6.6" fill="#6b6b6b" stroke="#6b6b6b"/>
<circle cx="770.0" cy="227.7" r="6.6" fill="#6b6b6b" stroke="#6b6b6b"/>
<circle cx="748.8" cy="309.0" r="6.6" fill="#6b6b6b" stroke="#6b6b6b"/>
<circle cx="365.2" cy="664.5" r="6.6" fill="#6b6b6b" stroke="#6b6b6b"/>
<circle cx="887.6" cy="602.7" r="6.6" fill="#6b6b6b" stroke="#6b6b6b"/>
<circle cx="908.4" cy="585.3" r="6.6" fill="#6b6b6b" stroke="#6b6b6b"/>
<circle cx="282.3" cy="544.7" r="6.6" fill="#6b6b6b" stroke="#6b6b6b"/>
<circle cx="361.3" cy="525.3" r="6.6" fill="#6b6b6b" stroke="#6b6b6b"/>
<circle cx="367.4" cy="641.2" r="6.6" fill="#6b6b6b" stroke="#6b6b6b"/>
<circle cx="364.1" cy="591.4" r="6.6" fill="#6b6b6b" stroke="#6b6b6b"/>
<circle cx="457.2" cy="552.1" r="6.6" fill="#6a6a6a" stroke="#6a6a6a"/>
<circle cx="455.1" cy="593.4" r="6.6" fill="#6a6a6a" stroke="#6a6a6a"/>
<circle cx="311.4" cy="565.2" r="6.6" fill="#6a6a6a" stroke="#6a6a6a"/>
<circle cx="365.7" cy="501.6" r="6.6" fill="#6a6a6a" stroke="#6a6a6a"/>
<circle cx="342.8" cy="514.6" r="6.6" fill="#6a6a6a" stroke="#6a6a6a"/>
<circle cx="335.5" cy="542.7" r="6.6" fill="#6a6a6a" stroke="#6a6a6a"/>
<circle cx="351.3" cy="528.1" r="6.6" fill="#6a6a6a" stroke="#6a6a6a"/>
<circle cx="484.2" cy="516.3" r="6.6" fill="#6a6a6a" stroke="#6a6a6a"/>
<circle cx="469.2" cy="439.2" r="6.6" fill="#6a6a6a" stroke="#6a6a6a"/>
<circle cx="406.2" cy="570.1" r="6.6" fill="#696969" stroke="#696969"/>
<circle cx="871.6" cy="626.1" r="6.6" fill="#696969" stroke="#696969"/>
<circle cx="924.2" cy="561.2" r="6.6" fill="#696969" stroke="#696969"/>
<circle cx="362.2" cy="543.1" r="6.6" fill="#696969" stroke="#696969"/>
<circle cx="452.1" cy="564.9" r="6.6" fill="#696969" stroke="#696969"/>
<circle cx="367.5" cy="647.4" r="6.6" fill="#696969" stroke="#696969"/>
<circle cx="724.3" cy="537.6" r="6.6" fill="#696969" stroke="#696969"/>
<circle cx="379.2" cy="539.6" r="6.6" fill="#696969" stroke="#696969"/>
<circle cx="418.3" cy="603.9" r="6.6" fill="#686868" stroke="#686868"/>
<circle cx="451.4" cy="559.4" r="6.6" fill="#686868" stroke="#686868"/>
<circle cx="899.1" cy="530.2" r="6.6" fill="#686868" stroke="#686868"/>
<circle cx="462.2" cy="534.6" r="6.6" fill="#686868" stroke="#686868"/>
<circle cx="410.3" cy="273.4" r="6.6" fill="#686868" stroke="#686868"/>
<circle cx="378.3" cy="471.9" r="6.6" fill="#686868" stroke="#686868"/>
<circle cx="395.1" cy="431.7" r="6.6" fill="#686868" stroke="#686868"/>
<circle cx="328.9" cy="536.3" r="6.6" fill="#686868" stroke="#686868"/>
<circle cx="364.3" cy="523.2" r="6.6" fill="#686868" stroke="#686868"/>
<circle cx="709.2" cy="406.9" r="6.6" fill="#686868" stroke="#686868"/>
<circle cx="935.0" cy="550.8" r="6.6" fill="#686868" stroke="#686868"/>
<circle cx="388.4" cy="608.1" r="6.6" fill="#686868" stroke="#686868"/>
<circle cx="394.0" cy="605.5" r="6.6" fill="#686868" stroke="#686868"/>
<circle cx="354.5" cy="604.2" r="6.6" fill="#686868" stroke="#686868"/>
<circle cx="341.6" cy="616.0" r="6.6" fill="#686868" stroke="#686868"/>
<circle cx="425.2" cy="490.9" r="6.6" fill="#676767" stroke="#676767"/>
<circle cx="396.8" cy="543.2" r="6.6" fill="#676767" stroke="#676767"/>
<circle cx="373.5" cy="556.8" r="6.6" fill="#676767" stroke="#676767"/>
<circle cx="856.4" cy="492.9" r="6.6" fill="#676767" stroke="#676767"/>
<circle cx="456.8" cy="620.4" r="6.6" fill="#676767" stroke="#676767"/>
<circle cx="449.4" cy="608.0" r="6.6" fill="#676767" stroke="#676767"/>
<circle cx="372.5" cy="508.1" r="6.6" fill="#676767" stroke="#676767"/>
<circle cx="463.1" cy="603.2" r="6.6" fill="#676767" stroke="#676767"/>
<circle cx="367.9" cy="636.7" r="6.6" fill="#676767" stroke="#676767"/>
<circle cx="379.4" cy="666.0" r="6.6" fill="#676767" stroke="#676767"/>
<circle cx="703.8" cy="702.7" r="6.6" fill="#666666" stroke="#666666"/>
<circle cx="881.7" cy="476.6" r="6.6" fill="#666666" stroke="#666666"/>
<circle cx="567.0" cy="523.0" r="6.6" fill="#666666" stroke="#666666"/>
<circle cx="444.4" cy="696.8" r="6.6" fill="#666666" stroke="#666666"/>
<circle cx="444.7" cy="490.0" r="6.6" fill="#666666" stroke="#666666"/>
<circle cx="721.7" cy="705.0" r="6.6" fill="#666666" stroke="#666666"/>
<circle cx="305.1" cy="552.0" r="6.6" fill="#656565" stroke="#656565"/>
<circle cx="422.7" cy="589.5" r="6.6" fill="#656565" stroke="#656565"/>
<circle cx="868.2" cy="518.3" r="6.6" fill="#656565" stroke="#656565"/>
<circle cx="391.4" cy="575.9" r="6.6" fill="#656565" stroke="#656565"/>
<circle cx="400.2" cy="612.3" r="6.6" fill="#656565" stroke="#656565"/>
<circle cx="480.4" cy="678.0" r="6.6" fill="#646464" stroke="#646464"/>
<circle cx="392.6" cy="530.8" r="6.6" fill="#646464" stroke="#646464"/>
<circle cx="405.8" cy="563.9" r="6.6" fill="#646464" stroke="#646464"/>
<circle cx="438.0" cy="508.0" r="6.6" fill="#646464" stroke="#646464"/>
<circle cx="378.1" cy="571.1" r="6.6" fill="#646464" stroke="#646464"/>
<circle cx="283.9" cy="532.8" r="6.6" fill="#646464" stroke="#646464"/>
<circle cx="401.0" cy="658.9" r="6.6" fill="#646464" stroke="#646464"/>
<circle cx="467.8" cy="511.5" r="6.6" fill="#636363" stroke="#636363"/>
<circle cx="390.5" cy="573.9" r="6.6" fill="#636363" stroke="#636363"/>
<circle cx="432.1" cy="491.5" r="6.6" fill="#636363" stroke="#636363"/>
<circle cx="420.0" cy="600.6" r="6.6" fill="#636363" stroke="#636363"/>
<circle cx="358.0" cy="648.3" r="6.6" fill="#636363" stroke="#636363"/>
<circle cx="466.7" cy="647.5" r="6.6" fill="#636363" stroke="#636363"/>
<circle cx="460.1" cy="633.1" r="6.6" fill="#636363" stroke="#636363"/>
<circle cx="850.3" cy="502.8" r="6.6" fill="#636363" stroke="#636363"/>
<circle cx="394.5" cy="483.8" r="6.6" fill="#636363" stroke="#636363"/>
<circle cx="429.2" cy="543.7" r="6.6" fill="#626262" stroke="#626262"/>
<circle cx="875.6" cy="521.5" r="6.6" fill="#626262" stroke="#626262"/>
<circle cx="440.3" cy="620.1" r="6.6" fill="#626262" stroke="#626262"/>
<circle cx="423.6" cy="588.4" r="6.6" fill="#626262" stroke="#626262"/>
<circle cx="334.8" cy="521.5" r="6.6" fill="#626262" stroke="#626262"/>
<circle cx="420.0" cy="650.9" r="6.6" fill="#626262" stroke="#626262"/>
<circle cx="380.1" cy="506.2" r="6.6" fill="#626262" stroke="#626262"/>
<circle cx="914.0" cy="607.1" r="6.6" fill="#626262" stroke="#626262"/>
<circle cx="395.0" cy="534.7" r="6.6" fill="#616161" stroke="#616161"/>
<circle cx="452.9" cy="588.1" r="6.6" fill="#616161" stroke="#616161"/>
<circle cx="875.3" cy="640.3" r="6.6" fill="#616161" stroke="#616161"/>
<circle cx="467.9" cy="627.5" r="6.6" fill="#616161" stroke="#616161"/>
<circle cx="306.1" cy="570.0" r="6.6" fill="#606060" stroke="#606060"/>
<circle cx="437.6" cy="528.1" r="6.6" fill="#606060" stroke="#606060"/>
<circle cx="389.4" cy="581.9" r="6.6" fill="#606060" stroke="#606060"/>
<circle cx="811.0" cy="691.4" r="6.6" fill="#606060" stroke="#606060"/>
<circle cx="707.6" cy="639.9" r="6.6" fill="#606060" stroke="#606060"/>
<circle cx="458.7" cy="524.3" r="6.6" fill="#606060" stroke="#606060"/>
<circle cx="417.5" cy="632.8" r="6.6" fill="#606060" stroke="#606060"/>
<circle cx="475.8" cy="553.8" r="6.6" fill="#606060" stroke="#606060"/>
<circle cx="731.2" cy="702.3" r="6.6" fill="#606060" stroke="#606060"/>
<circle cx="485.6" cy="446.3" r="6.6" fill="#606060" stroke="#606060"/>
<circle cx="282.3" cy="559.1" r="6.6" fill="#606060" stroke="#606060"/>
<circle cx="882.0" cy="642.3" r="6.6" fill="#606060" stroke="#606060"/>
<circle cx="431.1" cy="644.3" r="6.6" fill="#606060" stroke="#606060"/>
<circle cx="320.4" cy="604.8" r="6.6" fill="#606060" stroke="#606060"/>
<circle cx="354.9" cy="595.7" r="6.6" fill="#606060" stroke="#606060"/>
<circle cx="455.4" cy="556.2" r="6.6" fill="#606060" stroke="#606060"/>
<circle cx="872.7" cy="648.1" r="6.6" fill="#606060" stroke="#606060"/>
<circle cx="455.5" cy="450.4" r="6.6" fill="#606060" stroke="#606060"/>
<circle cx="708.0" cy="566.4" r="6.6" fill="#5f5f5f" stroke="#5f5f5f"/>
<circle cx="320.9" cy="541.8" r="6.6" fill="#5f5f5f" stroke="#5f5f5f"/>
<circle cx="915.3" cy="565.2" r="6.6" fill="#5f5f5f" stroke="#5f5f5f"/>
<circle cx="923.7" cy="568.6" r="6.6" fill="#5f5f5f" stroke="#5f5f5f"/>
<circle cx="914.6" cy="520.1" r="6.6" fill="#5e5e5e" stroke="#5e5e5e"/>
<circle cx="733.2" cy="701.5" r="6.6" fill="#5e5e5e" stroke="#5e5e5e"/>
<circle cx="921.0" cy="589.5" r="6.6" fill="#5e5e5e" stroke="#5e5e5e"/>
<circle cx="916.5" cy="552.0" r="6.6" fill="#5d5d5d" stroke="#5d5d5d"/>
<circle cx="710.2" cy="676.3" r="6.6" fill="#5c5c5c" stroke="#5c5c5c"/>
<circle cx="906.0" cy="550.0" r="6.6" fill="#5c5c5c" stroke="#5c5c5c"/>
<circle cx="828.7" cy="655.9" r="6.6" fill="#5c5c5c" stroke="#5c5c5c"/>
<circle cx="846.7" cy="667.9" r="6.6" fill="#5c5c5c" stroke="#5c5c5c"/>
<circle cx="751.8" cy="520.1" r="6.6" fill="#5b5b5b" stroke="#5b5b5b"/>
<circle cx="884.8" cy="522.8" r="6.6" fill="#5a5a5a" stroke="#5a5a5a"/>
<circle cx="840.5" cy="494.6" r="6.6" fill="#5a5a5a" stroke="#5a5a5a"/>
<circle cx="839.3" cy="663.1" r="6.6" fill="#5a5a5a" stroke="#5a5a5a"/>
<circle cx="269.5" cy="517.6" r="6.6" fill="#595959" stroke="#595959"/>
<circle cx="739.8" cy="251.9" r="6.6" fill="#595959" stroke="#595959"/>
<circle cx="720.7" cy="490.6" r="6.6" fill="#595959" stroke="#595959"/>
<circle cx="691.8" cy="428.6" r="6.6" fill="#595959" stroke="#595959"/>
<circle cx="483.2" cy="609.0" r="6.6" fill="#595959" stroke="#595959"/>
<circle cx="459.4" cy="643.7" r="6.6" fill="#595959" stroke="#595959"/>
<circle cx="904.3" cy="515.4" r="6.6" fill="#595959" stroke="#595959"/>
<circle cx="877.3" cy="650.0" r="6.6" fill="#595959" stroke="#595959"/>
<circle cx="884.3" cy="610.1" r="6.6" fill="#595959" stroke="#595959"/>
<circle cx="815.8" cy="669.1" r="6.6" fill="#585858" stroke="#585858"/>
<circle cx="716.9" cy="695.0" r="6.6" fill="#585858" stroke="#585858"/>
<circle cx="843.9" cy="645.4" r="6.6" fill="#585858" stroke="#585858"/>
<circle cx="409.8" cy="599.7" r="6.6" fill="#585858" stroke="#585858"/>
<circle cx="454.4" cy="635.0" r="6.6" fill="#585858" stroke="#585858"/>
<circle cx="888.6" cy="601.9" r="6.6" fill="#585858" stroke="#585858"/>
<circle cx="460.8" cy="590.1" r="6.6" fill="#585858" stroke="#585858"/>
<circle cx="868.1" cy="636.6" r="6.6" fill="#575757" stroke="#575757"/>
<circle cx="836.1" cy="638.4" r="6.6" fill="#575757" stroke="#575757"/>
<circle cx="441.1" cy="554.7" r="6.6" fill="#575757" stroke="#575757"/>
<circle cx="417.7" cy="611.6" r="6.6" fill="#565656" stroke="#565656"/>
<circle cx="436.3" cy="670.5" r="6.6" fill="#565656" stroke="#565656"/>
<circle cx="762.4" cy="523.0" r="6.6" fill="#565656" stroke="#565656"/>
<circle cx="909.5" cy="536.9" r="6.6" fill="#555555" stroke="#555555"/>
<circle cx="462.0" cy="543.0" r="6.6" fill="#555555" stroke="#555555"/>
<circle cx="900.3" cy="493.0" r="6.6" fill="#555555" stroke="#555555"/>
<circle cx="526.6" cy="348.8" r="6.6" fill="#555555" stroke="#555555"/>
<circle cx="395.0" cy="405.6" r="6.6" fill="#555555" stroke="#555555"/>
<circle cx="711.7" cy="324.2" r="6.6" fill="#555555" stroke="#555555"/>
<circle cx="756.0" cy="359.3" r="6.6" fill="#555555" stroke="#555555"/>
<circle cx="900.0" cy="492.0" r="6.6" fill="#555555" stroke="#555555"/>
<circle cx="936.4" cy="528.4" r="6.6" fill="#555555" stroke="#555555"/>
<circle cx="921.0" cy="560.6" r="6.6" fill="#555555" stroke="#555555"/>
<circle cx="462.1" cy="545.2" r="6.6" fill="#545454" stroke="#545454"/>
<circle cx="893.2" cy="611.1" r="6.6" fill="#545454" stroke="#545454"/>
<circle cx="816.4" cy="680.5" r="6.6" fill="#545454" stroke="#545454"/>
<circle cx="709.5" cy="609.8" r="6.6" fill="#545454" stroke="#545454"/>
<circle cx="435.8" cy="561.2" r="6.6" fill="#545454" stroke="#545454"/>
<circle cx="862.4" cy="646.2" r="6.6" fill="#545454" stroke="#545454"/>
<circle cx="418.8" cy="660.2" r="6.6" fill="#545454" stroke="#545454"/>
<circle cx="818.7" cy="679.1" r="6.6" fill="#545454" stroke="#545454"/>
<circle cx="476.5" cy="641.9" r="6.6" fill="#545454" stroke="#545454"/>
<circle cx="837.3" cy="680.2" r="6.6" fill="#535353" stroke="#535353"/>
<circle cx="884.4" cy="618.1" r="6.6" fill="#535353" stroke="#535353"/>
<circle cx="396.8" cy="573.0" r="6.6" fill="#535353" stroke="#535353"/>
<circle cx="862.0" cy="642.7" r="6.6" fill="#525252" stroke="#525252"/>
<circle cx="481.1" cy="574.2" r="6.6" fill="#525252" stroke="#525252"/>
<circle cx="837.6" cy="673.8" r="6.6" fill="#525252" stroke="#525252"/>
<circle cx="707.1" cy="622.5" r="6.6" fill="#525252" stroke="#525252"/>
<circle cx="836.8" cy="494.4" r="6.6" fill="#515151" stroke="#515151"/>
<circle cx="771.6" cy="515.7" r="6.6" fill="#515151" stroke="#515151"/>
<circle cx="737.2" cy="540.3" r="6.6" fill="#515151" stroke="#515151"/>
<circle cx="910.6" cy="569.2" r="6.6" fill="#515151" stroke="#515151"/>
<circle cx="853.3" cy="551.3" r="6.6" fill="#515151" stroke="#515151"/>
<circle cx="811.8" cy="583.2" r="6.6" fill="#515151" stroke="#515151"/>
<circle cx="484.9" cy="520.1" r="6.6" fill="#515151" stroke="#515151"/>
<circle cx="894.8" cy="515.7" r="6.6" fill="#515151" stroke="#515151"/>
<circle cx="397.9" cy="593.4" r="6.6" fill="#505050" stroke="#505050"/>
<circle cx="737.4" cy="560.5" r="6.6" fill="#505050" stroke="#505050"/>
<circle cx="811.2" cy="565.9" r="6.6" fill="#505050" stroke="#505050"/>
<circle cx="816.8" cy="577.1" r="6.6" fill="#505050" stroke="#505050"/>
<circle cx="445.1" cy="692.0" r="6.6" fill="#505050" stroke="#505050"/>
<circle cx="360.8" cy="615.3" r="6.6" fill="#505050" stroke="#505050"/>
<circle cx="434.3" cy="556.2" r="6.6" fill="#4f4f4f" stroke="#4f4f4f"/>
<circle cx="464.4" cy="701.5" r="6.6" fill="#4e4e4e" stroke="#4e4e4e"/>
<circle cx="410.8" cy="650.4" r="6.6" fill="#4e4e4e" stroke="#4e4e4e"/>
<circle cx="392.5" cy="591.2" r="6.6" fill="#4d4d4d" stroke="#4d4d4d"/>
<circle cx="768.7" cy="687.0" r="6.6" fill="#4b4b4b" stroke="#4b4b4b"/>
<circle cx="741.3" cy="672.1" r="6.6" fill="#4b4b4b" stroke="#4b4b4b"/>
<circle cx="781.9" cy="640.1" r="6.6" fill="#4a4a4a" stroke="#4a4a4a"/>
<circle cx="739.0" cy="671.1" r="6.6" fill="#4a4a4a" stroke="#4a4a4a"/>
<circle cx="423.3" cy="656.5" r="6.6" fill="#4a4a4a" stroke="#4a4a4a"/>
<circle cx="763.2" cy="501.3" r="6.6" fill="#4a4a4a" stroke="#4a4a4a"/>
<circle cx="734.0" cy="514.9" r="6.6" fill="#4a4a4a" stroke="#4a4a4a"/>
<circle cx="771.4" cy="604.3" r="6.6" fill="#4a4a4a" stroke="#4a4a4a"/>
<circle cx="849.2" cy="515.5" r="6.6" fill="#4a4a4a" stroke="#4a4a4a"/>
<circle cx="814.1" cy="638.7" r="6.6" fill="#4a4a4a" stroke="#4a4a4a"/>
<circle cx="720.2" cy="651.9" r="6.6" fill="#494949" stroke="#494949"/>
<circle cx="824.2" cy="688.7" r="6.6" fill="#494949" stroke="#494949"/>
<circle cx="902.1" cy="589.5" r="6.6" fill="#494949" stroke="#494949"/>
<circle cx="706.1" cy="460.8" r="6.6" fill="#494949" stroke="#494949"/>
<circle cx="836.3" cy="504.9" r="6.6" fill="#494949" stroke="#494949"/>
<circle cx="779.1" cy="536.9" r="6.6" fill="#494949" stroke="#494949"/>
<circle cx="874.4" cy="608.7" r="6.6" fill="#494949" stroke="#494949"/>
<circle cx="780.9" cy="537.0" r="6.6" fill="#494949" stroke="#494949"/>
<circle cx="743.4" cy="600.7" r="6.6" fill="#494949" stroke="#494949"/>
<circle cx="894.4" cy="531.4" r="6.6" fill="#494949" stroke="#494949"/>
<circle cx="800.1" cy="630.5" r="6.6" fill="#494949" stroke="#494949"/>
<circle cx="779.3" cy="512.0" r="6.6" fill="#494949" stroke="#494949"/>
<circle cx="725.3" cy="632.1" r="6.6" fill="#494949" stroke="#494949"/>
<circle cx="866.0" cy="587.5" r="6.6" fill="#494949" stroke="#494949"/>
<circle cx="912.6" cy="591.2" r="6.6" fill="#494949" stroke="#494949"/>
<circle cx="849.6" cy="644.4" r="6.6" fill="#484848" stroke="#484848"/>
<circle cx="749.3" cy="555.1" r="6.6" fill="#484848" stroke="#484848"/>
<circle cx="744.3" cy="596.1" r="6.6" fill="#484848" stroke="#484848"/>
<circle cx="891.9" cy="618.5" r="6.6" fill="#484848" stroke="#484848"/>
<circle cx="712.3" cy="635.0" r="6.6" fill="#484848" stroke="#484848"/>
<circle cx="883.2" cy="562.3" r="6.6" fill="#484848" stroke="#484848"/>
<circle cx="450.6" cy="548.6" r="6.6" fill="#484848" stroke="#484848"/>
<circle cx="782.7" cy="692.0" r="6.6" fill="#484848" stroke="#484848"/>
<circle cx="470.8" cy="617.0" r="6.6" fill="#484848" stroke="#484848"/>
<circle cx="722.2" cy="288.6" r="6.6" fill="#484848" stroke="#484848"/>
<circle cx="756.9" cy="609.1" r="6.6" fill="#484848" stroke="#484848"/>
<circle cx="785.0" cy="700.9" r="6.6" fill="#484848" stroke="#484848"/>
<circle cx="810.8" cy="593.5" r="6.6" fill="#474747" stroke="#474747"/>
<circle cx="703.6" cy="476.1" r="6.6" fill="#474747" stroke="#474747"/>
<circle cx="922.6" cy="562.6" r="6.6" fill="#474747" stroke="#474747"/>
<circle cx="773.9" cy="682.8" r="6.6" fill="#474747" stroke="#474747"/>
<circle cx="721.3" cy="644.5" r="6.6" fill="#474747" stroke="#474747"/>
<circle cx="915.3" cy="548.8" r="6.6" fill="#474747" stroke="#474747"/>
<circle cx="806.7" cy="572.4" r="6.6" fill="#474747" stroke="#474747"/>
<circle cx="743.8" cy="571.4" r="6.6" fill="#474747" stroke="#474747"/>
<circle cx="469.3" cy="558.7" r="6.6" fill="#474747" stroke="#474747"/>
<circle cx="766.6" cy="508.3" r="6.6" fill="#474747" stroke="#474747"/>
<circle cx="361.4" cy="576.1" r="6.6" fill="#474747" stroke="#474747"/>
<circle cx="479.7" cy="626.1" r="6.6" fill="#474747" stroke="#474747"/>
<circle cx="754.7" cy="695.3" r="6.6" fill="#474747" stroke="#474747"/>
<circle cx="746.5" cy="688.5" r="6.6" fill="#474747" stroke="#474747"/>
<circle cx="899.6" cy="548.5" r="6.6" fill="#474747" stroke="#474747"/>
<circle cx="384.1" cy="612.3" r="6.6" fill="#474747" stroke="#474747"/>
<circle cx="878.4" cy="595.4" r="6.6" fill="#464646" stroke="#464646"/>
<circle cx="472.5" cy="666.1" r="6.6" fill="#464646" stroke="#464646"/>
<circle cx="795.0" cy="640.2" r="6.6" fill="#464646" stroke="#464646"/>
<circle cx="763.3" cy="673.3" r="6.6" fill="#464646" stroke="#464646"/>
<circle cx="714.0" cy="620.1" r="6.6" fill="#464646" stroke="#464646"/>
<circle cx="901.9" cy="509.1" r="6.6" fill="#464646" stroke="#464646"/>
<circle cx="743.7" cy="545.1" r="6.6" fill="#464646" stroke="#464646"/>
<circle cx="452.0" cy="607.7" r="6.6" fill="#464646" stroke="#464646"/>
<circle cx="750.1" cy="543.5" r="6.6" fill="#464646" stroke="#464646"/>
<circle cx="833.0" cy="556.9" r="6.6" fill="#464646" stroke="#464646"/>
<circle cx="769.6" cy="573.2" r="6.6" fill="#454545" stroke="#454545"/>
<circle cx="916.2" cy="598.6" r="6.6" fill="#454545" stroke="#454545"/>
<circle cx="896.1" cy="508.1" r="6.6" fill="#454545" stroke="#454545"/>
<circle cx="794.8" cy="545.6" r="6.6" fill="#454545" stroke="#454545"/>
<circle cx="887.3" cy="615.0" r="6.6" fill="#454545" stroke="#454545"/>
<circle cx="703.4" cy="659.1" r="6.6" fill="#454545" stroke="#454545"/>
<circle cx="722.4" cy="573.6" r="6.6" fill="#454545" stroke="#454545"/>
<circle cx="737.4" cy="628.4" r="6.6" fill="#454545" stroke="#454545"/>
<circle cx="718.5" cy="625.7" r="6.6" fill="#454545" stroke="#454545"/>
<circle cx="864.5" cy="633.9" r="6.6" fill="#454545" stroke="#454545"/>
<circle cx="729.3" cy="558.3" r="6.6" fill="#444444" stroke="#444444"/>
<circle cx="744.8" cy="630.9" r="6.6" fill="#444444" stroke="#444444"/>
<circle cx="469.4" cy="540.8" r="6.6" fill="#444444" stroke="#444444"/>
<circle cx="395.2" cy="599.8" r="6.6" fill="#444444" stroke="#444444"/>
<circle cx="891.6" cy="526.4" r="6.6" fill="#444444" stroke="#444444"/>
<circle cx="764.5" cy="644.6" r="6.6" fill="#444444" stroke="#444444"/>
<circle cx="805.0" cy="465.9" r="6.6" fill="#444444" stroke="#444444"/>
<circle cx="805.8" cy="493.8" r="6.6" fill="#444444" stroke="#444444"/>
<circle cx="448.4" cy="688.6" r="6.6" fill="#444444" stroke="#444444"/>
<circle cx="808.2" cy="667.5" r="6.6" fill="#444444" stroke="#444444"/>
<circle cx="781.2" cy="532.4" r="6.6" fill="#444444" stroke="#444444"/>
<circle cx="428.5" cy="641.8" r="6.6" fill="#444444" stroke="#444444"/>
<circle cx="847.8" cy="564.9" r="6.6" fill="#444444" stroke="#444444"/>
<circle cx="869.3" cy="526.7" r="6.6" fill="#434343" stroke="#434343"/>
<circle cx="712.2" cy="446.3" r="6.6" fill="#434343" stroke="#434343"/>
<circle cx="770.1" cy="528.6" r="6.6" fill="#434343" stroke="#434343"/>
<circle cx="385.4" cy="653.9" r="6.6" fill="#434343" stroke="#434343"/>
<circle cx="744.7" cy="575.5" r="6.6" fill="#434343" stroke="#434343"/>
<circle cx="775.8" cy="620.8" r="6.6" fill="#434343" stroke="#434343"/>
<circle cx="737.3" cy="519.6" r="6.6" fill="#434343" stroke="#434343"/>
<circle cx="740.0" cy="595.4" r="6.6" fill="#434343" stroke="#434343"/>
<circle cx="706.3" cy="685.6" r="6.6" fill="#424242" stroke="#424242"/>
<circle cx="436.8" cy="548.8" r="6.6" fill="#424242" stroke="#424242"/>
<circle cx="778.3" cy="585.9" r="6.6" fill="#424242" stroke="#424242"/>
<circle cx="714.5" cy="276.0" r="6.6" fill="#424242" stroke="#424242"/>
<circle cx="708.4" cy="371.8" r="6.6" fill="#424242" stroke="#424242"/>
<circle cx="705.0" cy="386.9" r="6.6" fill="#424242" stroke="#424242"/>
<circle cx="701.7" cy="420.3" r="6.6" fill="#424242" stroke="#424242"/>
<circle cx="382.2" cy="599.6" r="6.6" fill="#424242" stroke="#424242"/>
<circle cx="465.5" cy="704.0" r="6.6" fill="#424242" stroke="#424242"/>
<circle cx="727.3" cy="638.8" r="6.6" fill="#424242" stroke="#424242"/>
<circle cx="719.7" cy="675.5" r="6.6" fill="#414141" stroke="#414141"/>
<circle cx="818.4" cy="536.0" r="6.6" fill="#414141" stroke="#414141"/>
<circle cx="732.2" cy="580.5" r="6.6" fill="#414141" stroke="#414141"/>
<circle cx="833.4" cy="566.5" r="6.6" fill="#414141" stroke="#414141"/>
<circle cx="856.2" cy="593.6" r="6.6" fill="#414141" stroke="#414141"/>
<circle cx="807.7" cy="692.5" r="6.6" fill="#404040" stroke="#404040"/>
<circle cx="841.5" cy="546.3" r="6.6" fill="#404040" stroke="#404040"/>
<circle cx="720.7" cy="669.6" r="6.6" fill="#404040" stroke="#404040"/>
<circle cx="809.2" cy="501.4" r="6.6" fill="#404040" stroke="#404040"/>
<circle cx="828.5" cy="603.6" r="6.6" fill="#404040" stroke="#404040"/>
<circle cx="885.6" cy="537.9" r="6.6" fill="#404040" stroke="#404040"/>
<circle cx="759.7" cy="520.0" r="6.6" fill="#404040" stroke="#404040"/>
<circle cx="829.8" cy="641.5" r="6.6" fill="#404040" stroke="#404040"/>
<circle cx="825.6" cy="691.3" r="6.6" fill="#404040" stroke="#404040"/>
<circle cx="819.7" cy="608.0" r="6.6" fill="#404040" stroke="#404040"/>
<circle cx="820.5" cy="524.6" r="6.6" fill="#404040" stroke="#404040"/>
<circle cx="901.9" cy="584.8" r="6.6" fill="#404040" stroke="#404040"/>
<circle cx="780.8" cy="568.0" r="6.6" fill="#404040" stroke="#404040"/>
<circle cx="828.4" cy="601.5" r="6.6" fill="#404040" stroke="#404040"/>
<circle cx="845.4" cy="574.9" r="6.6" fill="#404040" stroke="#404040"/>
<circle cx="853.1" cy="552.1" r="6.6" fill="#404040" stroke="#404040"/>
<circle cx="846.0" cy="619.7" r="6.6" fill="#404040" stroke="#404040"/>
<circle cx="896.0" cy="607.0" r="6.6" fill="#404040" stroke="#404040"/>
<circle cx="864.9" cy="632.9" r="6.6" fill="#404040" stroke="#404040"/>
<circle cx="840.2" cy="632.1" r="6.6" fill="#3f3f3f" stroke="#3f3f3f"/>
<circle cx="723.8" cy="639.8" r="6.6" fill="#3f3f3f" stroke="#3f3f3f"/>
<circle cx="744.4" cy="635.8" r="6.6" fill="#3f3f3f" stroke="#3f3f3f"/>
<circle cx="873.2" cy="578.7" r="6.6" fill="#3f3f3f" stroke="#3f3f3f"/>
<circle cx="813.1" cy="663.1" r="6.6" fill="#3f3f3f" stroke="#3f3f3f"/>
<circle cx="457.5" cy="692.0" r="6.6" fill="#3f3f3f" stroke="#3f3f3f"/>
<circle cx="837.0" cy="639.6" r="6.6" fill="#3f3f3f" stroke="#3f3f3f"/>
<circle cx="830.1" cy="640.3" r="6.6" fill="#3f3f3f" stroke="#3f3f3f"/>
<circle cx="704.3" cy="664.4" r="6.6" fill="#3f3f3f" stroke="#3f3f3f"/>
<circle cx="785.5" cy="665.0" r="6.6" fill="#3f3f3f" stroke="#3f3f3f"/>
<circle cx="857.2" cy="520.3" r="6.6" fill="#3f3f3f" stroke="#3f3f3f"/>
<circle cx="746.8" cy="693.1" r="6.6" fill="#3f3f3f" stroke="#3f3f3f"/>
<circle cx="782.0" cy="629.0" r="6.6" fill="#3f3f3f" stroke="#3f3f3f"/>
<circle cx="752.0" cy="520.5" r="6.6" fill="#3f3f3f" stroke="#3f3f3f"/>
<circle cx="820.7" cy="689.4" r="6.6" fill="#3f3f3f" stroke="#3f3f3f"/>
<circle cx="869.6" cy="601.1" r="6.6" fill="#3f3f3f" stroke="#3f3f3f"/>
<circle cx="823.2" cy="673.5" r="6.6" fill="#3f3f3f" stroke="#3f3f3f"/>
<circle cx="888.9" cy="517.9" r="6.6" fill="#3f3f3f" stroke="#3f3f3f"/>
<circle cx="881.0" cy="581.4" r="6.6" fill="#3f3f3f" stroke="#3f3f3f"/>
<circle cx="731.6" cy="562.7" r="6.6" fill="#3f3f3f" stroke="#3f3f3f"/>
<circle cx="807.7" cy="508.8" r="6.6" fill="#3f3f3f" stroke="#3f3f3f"/>
<circle cx="901.4" cy="521.5" r="6.6" fill="#3f3f3f" stroke="#3f3f3f"/>
<circle cx="757.1" cy="632.5" r="6.6" fill="#3f3f3f" stroke="#3f3f3f"/>
<circle cx="795.0" cy="691.8" r="6.6" fill="#3f3f3f" stroke="#3f3f3f"/>
<circle cx="736.4" cy="629.4" r="6.6" fill="#3f3f3f" stroke="#3f3f3f"/>
<circle cx="789.2" cy="692.6" r="6.6" fill="#3e3e3e" stroke="#3e3e3e"/>
<circle cx="797.1" cy="538.9" r="6.6" fill="#3e3e3e" stroke="#3e3e3e"/>
<circle cx="774.0" cy="610.6" r="6.6" fill="#3e3e3e" stroke="#3e3e3e"/>
<circle cx="802.5" cy="510.4" r="6.6" fill="#3e3e3e" stroke="#3e3e3e"/>
<circle cx="879.5" cy="515.7" r="6.6" fill="#3e3e3e" stroke="#3e3e3e"/>
<circle cx="786.9" cy="519.0" r="6.6" fill="#3e3e3e" stroke="#3e3e3e"/>
<circle cx="758.9" cy="575.2" r="6.6" fill="#3e3e3e" stroke="#3e3e3e"/>
<circle cx="789.0" cy="577.4" r="6.6" fill="#3e3e3e" stroke="#3e3e3e"/>
<circle cx="740.7" cy="531.6" r="6.6" fill="#3e3e3e" stroke="#3e3e3e"/>
<circle cx="806.7" cy="601.8" r="6.6" fill="#3e3e3e" stroke="#3e3e3e"/>
<circle cx="826.6" cy="533.1" r="6.6" fill="#3e3e3e" stroke="#3e3e3e"/>
<circle cx="781.1" cy="555.1" r="6.6" fill="#3e3e3e" stroke="#3e3e3e"/>
<circle cx="817.9" cy="646.4" r="6.6" fill="#3e3e3e" stroke="#3e3e3e"/>
<circle cx="809.7" cy="571.6" r="6.6" fill="#3e3e3e" stroke="#3e3e3e"/>
<circle cx="928.1" cy="555.7" r="6.6" fill="#3e3e3e" stroke="#3e3e3e"/>
<circle cx="808.0" cy="527.6" r="6.6" fill="#3e3e3e" stroke="#3e3e3e"/>
<circle cx="846.2" cy="519.2" r="6.6" fill="#3e3e3e" stroke="#3e3e3e"/>
<circle cx="806.7" cy="523.8" r="6.6" fill="#3e3e3e" stroke="#3e3e3e"/>
<circle cx="865.0" cy="575.0" r="6.6" fill="#3e3e3e" stroke="#3e3e3e"/>
<circle cx="406.9" cy="605.2" r="6.6" fill="#3d3d3d" stroke="#3d3d3d"/>
<circle cx="892.6" cy="549.3" r="6.6" fill="#3d3d3d" stroke="#3d3d3d"/>
<circle cx="813.1" cy="500.1" r="6.6" fill="#3d3d3d" stroke="#3d3d3d"/>
<circle cx="788.1" cy="675.0" r="6.6" fill="#3d3d3d" stroke="#3d3d3d"/>
<circle cx="742.3" cy="653.9" r="6.6" fill="#3d3d3d" stroke="#3d3d3d"/>
<circle cx="873.2" cy="546.6" r="6.6" fill="#3d3d3d" stroke="#3d3d3d"/>
<circle cx="756.0" cy="632.4" r="6.6" fill="#3d3d3d" stroke="#3d3d3d"/>
<circle cx="830.1" cy="591.7" r="6.6" fill="#3d3d3d" stroke="#3d3d3d"/>
<circle cx="844.5" cy="586.2" r="6.6" fill="#3d3d3d" stroke="#3d3d3d"/>
<circle cx="870.8" cy="576.6" r="6.6" fill="#3d3d3d" stroke="#3d3d3d"/>
<circle cx="868.1" cy="620.4" r="6.6" fill="#3d3d3d" stroke="#3d3d3d"/>
<circle cx="760.3" cy="675.9" r="6.6" fill="#3d3d3d" stroke="#3d3d3d"/>
<circle cx="845.8" cy="600.5" r="6.6" fill="#3d3d3d" stroke="#3d3d3d"/>
<circle cx="731.0" cy="660.1" r="6.6" fill="#3d3d3d" stroke="#3d3d3d"/>
<circle cx="766.2" cy="686.3" r="6.6" fill="#3d3d3d" stroke="#3d3d3d"/>
<circle cx="758.2" cy="674.5" r="6.6" fill="#3d3d3d" stroke="#3d3d3d"/>
<circle cx="880.7" cy="596.8" r="6.6" fill="#3d3d3d" stroke="#3d3d3d"/>
<circle cx="895.5" cy="526.9" r="6.6" fill="#3d3d3d" stroke="#3d3d3d"/>
<circle cx="822.2" cy="693.6" r="6.6" fill="#3d3d3d" stroke="#3d3d3d"/>
<circle cx="819.5" cy="582.0" r="6.6" fill="#3d3d3d" stroke="#3d3d3d"/>
<circle cx="863.0" cy="491.3" r="6.6" fill="#3d3d3d" stroke="#3d3d3d"/>
<circle cx="847.0" cy="513.5" r="6.6" fill="#3d3d3d" stroke="#3d3d3d"/>
<circle cx="784.9" cy="604.9" r="6.6" fill="#3d3d3d" stroke="#3d3d3d"/>
<circle cx="446.8" cy="629.9" r="6.6" fill="#3d3d3d" stroke="#3d3d3d"/>
<circle cx="824.6" cy="594.5" r="6.6" fill="#3d3d3d" stroke="#3d3d3d"/>
<circle cx="789.5" cy="509.3" r="6.6" fill="#3d3d3d" stroke="#3d3d3d"/>
<circle cx="780.7" cy="561.8" r="6.6" fill="#3d3d3d" stroke="#3d3d3d"/>
<circle cx="750.2" cy="590.3" r="6.6" fill="#3d3d3d" stroke="#3d3d3d"/>
<circle cx="884.0" cy="587.0" r="6.6" fill="#3d3d3d" stroke="#3d3d3d"/>
<circle cx="847.9" cy="612.9" r="6.6" fill="#3d3d3d" stroke="#3d3d3d"/>
<circle cx="808.5" cy="517.9" r="6.6" fill="#3d3d3d" stroke="#3d3d3d"/>
<circle cx="840.1" cy="565.4" r="6.6" fill="#3d3d3d" stroke="#3d3d3d"/>
<circle cx="738.9" cy="525.4" r="6.6" fill="#3d3d3d" stroke="#3d3d3d"/>
<circle cx="837.9" cy="502.4" r="6.6" fill="#3c3c3c" stroke="#3c3c3c"/>
<circle cx="777.6" cy="509.4" r="6.6" fill="#3c3c3c" stroke="#3c3c3c"/>
<circle cx="717.3" cy="607.4" r="6.6" fill="#3c3c3c" stroke="#3c3c3c"/>
<circle cx="781.5" cy="525.1" r="6.6" fill="#3c3c3c" stroke="#3c3c3c"/>
<circle cx="757.8" cy="624.3" r="6.6" fill="#3c3c3c" stroke="#3c3c3c"/>
<circle cx="422.4" cy="689.3" r="6.6" fill="#3c3c3c" stroke="#3c3c3c"/>
<circle cx="734.1" cy="593.0" r="6.6" fill="#3c3c3c" stroke="#3c3c3c"/>
<circle cx="850.6" cy="536.2" r="6.6" fill="#3c3c3c" stroke="#3c3c3c"/>
<circle cx="747.9" cy="658.9" r="6.6" fill="#3c3c3c" stroke="#3c3c3c"/>
<circle cx="787.9" cy="526.3" r="6.6" fill="#3c3c3c" stroke="#3c3c3c"/>
<circle cx="801.4" cy="661.7" r="6.6" fill="#3c3c3c" stroke="#3c3c3c"/>
<circle cx="880.9" cy="568.6" r="6.6" fill="#3c3c3c" stroke="#3c3c3c"/>
<circle cx="831.7" cy="554.6" r="6.6" fill="#3c3c3c" stroke="#3c3c3c"/>
<circle cx="758.3" cy="512.3" r="6.6" fill="#3c3c3c" stroke="#3c3c3c"/>
<circle cx="839.3" cy="504.2" r="6.6" fill="#3c3c3c" stroke="#3c3c3c"/>
<circle cx="882.0" cy="608.3" r="6.6" fill="#3c3c3c" stroke="#3c3c3c"/>
<circle cx="811.0" cy="639.2" r="6.6" fill="#3c3c3c" stroke="#3c3c3c"/>
<circle cx="805.3" cy="591.3" r="6.6" fill="#3c3c3c" stroke="#3c3c3c"/>
<circle cx="866.4" cy="575.1" r="6.6" fill="#3c3c3c" stroke="#3c3c3c"/>
<circle cx="840.2" cy="505.3" r="6.6" fill="#3c3c3c" stroke="#3c3c3c"/>
<circle cx="701.2" cy="568.6" r="6.6" fill="#3c3c3c" stroke="#3c3c3c"/>
<circle cx="769.5" cy="559.8" r="6.6" fill="#3c3c3c" stroke="#3c3c3c"/>
<circle cx="746.5" cy="515.7" r="6.6" fill="#3c3c3c" stroke="#3c3c3c"/>
<circle cx="767.9" cy="684.6" r="6.6" fill="#3c3c3c" stroke="#3c3c3c"/>
<circle cx="729.5" cy="531.4" r="6.6" fill="#3b3b3b" stroke="#3b3b3b"/>
<circle cx="822.6" cy="680.4" r="6.6" fill="#3b3b3b" stroke="#3b3b3b"/>
<circle cx="811.1" cy="589.0" r="6.6" fill="#3b3b3b" stroke="#3b3b3b"/>
<circle cx="908.3" cy="548.2" r="6.6" fill="#3b3b3b" stroke="#3b3b3b"/>
<circle cx="869.4" cy="594.1" r="6.6" fill="#3b3b3b" stroke="#3b3b3b"/>
<circle cx="846.6" cy="508.4" r="6.6" fill="#3b3b3b" stroke="#3b3b3b"/>
<circle cx="764.9" cy="661.6" r="6.6" fill="#3b3b3b" stroke="#3b3b3b"/>
<circle cx="838.6" cy="584.1" r="6.6" fill="#3b3b3b" stroke="#3b3b3b"/>
<circle cx="822.1" cy="611.2" r="6.6" fill="#3b3b3b" stroke="#3b3b3b"/>
<circle cx="769.6" cy="551.8" r="6.6" fill="#3b3b3b" stroke="#3b3b3b"/>
<circle cx="777.5" cy="691.8" r="6.6" fill="#3b3b3b" stroke="#3b3b3b"/>
<circle cx="884.9" cy="536.4" r="6.6" fill="#3b3b3b" stroke="#3b3b3b"/>
<circle cx="888.8" cy="611.0" r="6.6" fill="#3b3b3b" stroke="#3b3b3b"/>
<circle cx="799.5" cy="606.7" r="6.6" fill="#3b3b3b" stroke="#3b3b3b"/>
<circle cx="850.1" cy="535.6" r="6.6" fill="#3b3b3b" stroke="#3b3b3b"/>
<circle cx="787.8" cy="594.5" r="6.6" fill="#3b3b3b" stroke="#3b3b3b"/>
<circle cx="906.6" cy="554.5" r="6.6" fill="#3b3b3b" stroke="#3b3b3b"/>
<circle cx="861.5" cy="630.8" r="6.6" fill="#3b3b3b" stroke="#3b3b3b"/>
<circle cx="735.4" cy="704.5" r="6.6" fill="#3b3b3b" stroke="#3b3b3b"/>
<circle cx="791.2" cy="611.5" r="6.6" fill="#3b3b3b" stroke="#3b3b3b"/>
<circle cx="836.9" cy="587.2" r="6.6" fill="#3a3a3a" stroke="#3a3a3a"/>
<circle cx="858.1" cy="557.9" r="6.6" fill="#3a3a3a" stroke="#3a3a3a"/>
<circle cx="814.3" cy="539.0" r="6.6" fill="#3a3a3a" stroke="#3a3a3a"/>
<circle cx="812.3" cy="656.1" r="6.6" fill="#3a3a3a" stroke="#3a3a3a"/>
<circle cx="789.3" cy="551.5" r="6.6" fill="#3a3a3a" stroke="#3a3a3a"/>
<circle cx="772.5" cy="590.3" r="6.6" fill="#3a3a3a" stroke="#3a3a3a"/>
<circle cx="732.3" cy="641.0" r="6.6" fill="#3a3a3a" stroke="#3a3a3a"/>
<circle cx="770.2" cy="656.0" r="6.6" fill="#3a3a3a" stroke="#3a3a3a"/>
<circle cx="777.7" cy="557.3" r="6.6" fill="#3a3a3a" stroke="#3a3a3a"/>
<circle cx="759.4" cy="516.5" r="6.6" fill="#3a3a3a" stroke="#3a3a3a"/>
<circle cx="819.3" cy="565.1" r="6.6" fill="#3a3a3a" stroke="#3a3a3a"/>
<circle cx="765.7" cy="529.5" r="6.6" fill="#3a3a3a" stroke="#3a3a3a"/>
<circle cx="717.0" cy="631.4" r="6.6" fill="#3a3a3a" stroke="#3a3a3a"/>
<circle cx="909.5" cy="591.0" r="6.6" fill="#3a3a3a" stroke="#3a3a3a"/>
<circle cx="852.3" cy="464.4" r="6.6" fill="#3a3a3a" stroke="#3a3a3a"/>
<circle cx="836.6" cy="488.8" r="6.6" fill="#3a3a3a" stroke="#3a3a3a"/>
<circle cx="833.3" cy="580.0" r="6.6" fill="#3a3a3a" stroke="#3a3a3a"/>
<circle cx="795.0" cy="526.7" r="6.6" fill="#3a3a3a" stroke="#3a3a3a"/>
<circle cx="891.8" cy="553.7" r="6.6" fill="#3a3a3a" stroke="#3a3a3a"/>
<circle cx="904.5" cy="582.2" r="6.6" fill="#3a3a3a" stroke="#3a3a3a"/>
<circle cx="874.5" cy="533.6" r="6.6" fill="#3a3a3a" stroke="#3a3a3a"/>
<circle cx="739.2" cy="546.9" r="6.6" fill="#3a3a3a" stroke="#3a3a3a"/>
<circle cx="752.0" cy="633.2" r="6.6" fill="#3a3a3a" stroke="#3a3a3a"/>
<circle cx="768.4" cy="654.4" r="6.6" fill="#3a3a3a" stroke="#3a3a3a"/>
<circle cx="868.5" cy="603.9" r="6.6" fill="#3a3a3a" stroke="#3a3a3a"/>
<circle cx="810.6" cy="578.3" r="6.6" fill="#3a3a3a" stroke="#3a3a3a"/>
<circle cx="864.3" cy="521.0" r="6.6" fill="#3a3a3a" stroke="#3a3a3a"/>
<circle cx="810.1" cy="637.0" r="6.6" fill="#3a3a3a" stroke="#3a3a3a"/>
<circle cx="763.9" cy="584.4" r="6.6" fill="#3a3a3a" stroke="#3a3a3a"/>
<circle cx="804.1" cy="566.5" r="6.6" fill="#3a3a3a" stroke="#3a3a3a"/>
<circle cx="778.4" cy="548.1" r="6.6" fill="#3a3a3a" stroke="#3a3a3a"/>
<circle cx="740.7" cy="658.5" r="6.6" fill="#3a3a3a" stroke="#3a3a3a"/>
<circle cx="704.5" cy="689.0" r="6.6" fill="#393939" stroke="#393939"/>
<circle cx="815.9" cy="647.2" r="6.6" fill="#393939" stroke="#393939"/>
<circle cx="819.0" cy="637.3" r="6.6" fill="#393939" stroke="#393939"/>
<circle cx="793.7" cy="662.4" r="6.6" fill="#393939" stroke="#393939"/>
<circle cx="702.5" cy="570.7" r="6.6" fill="#393939" stroke="#393939"/>
<circle cx="822.2" cy="637.7" r="6.6" fill="#393939" stroke="#393939"/>
<circle cx="905.7" cy="549.1" r="6.6" fill="#393939" stroke="#393939"/>
<circle cx="764.9" cy="506.0" r="6.6" fill="#393939" stroke="#393939"/>
<circle cx="806.3" cy="499.8" r="6.6" fill="#393939" stroke="#393939"/>
<circle cx="713.9" cy="604.7" r="6.6" fill="#393939" stroke="#393939"/>
<circle cx="803.0" cy="645.6" r="6.6" fill="#393939" stroke="#393939"/>
<circle cx="788.3" cy="527.2" r="6.6" fill="#393939" stroke="#393939"/>
<circle cx="903.4" cy="579.4" r="6.6" fill="#393939" stroke="#393939"/>
<circle cx="832.4" cy="624.6" r="6.6" fill="#393939" stroke="#393939"/>
<circle cx="822.3" cy="576.4" r="6.6" fill="#393939" stroke="#393939"/>
<circle cx="861.0" cy="584.5" r="6.6" fill="#393939" stroke="#393939"/>
<circle cx="788.1" cy="533.5" r="6.6" fill="#393939" stroke="#393939"/>
<circle cx="724.1" cy="542.1" r="6.6" fill="#393939" stroke="#393939"/>
<circle cx="859.6" cy="509.3" r="6.6" fill="#393939" stroke="#393939"/>
<circle cx="884.3" cy="593.6" r="6.6" fill="#393939" stroke="#393939"/>
<circle cx="769.8" cy="532.8" r="6.6" fill="#393939" stroke="#393939"/>
<circle cx="888.7" cy="614.5" r="6.6" fill="#393939" stroke="#393939"/>
<circle cx="806.4" cy="586.5" r="6.6" fill="#393939" stroke="#393939"/>
<circle cx="738.6" cy="532.8" r="6.6" fill="#393939" stroke="#393939"/>
<circle cx="872.3" cy="563.8" r="6.6" fill="#393939" stroke="#393939"/>
<circle cx="783.3" cy="627.0" r="6.6" fill="#393939" stroke="#393939"/>
<circle cx="733.7" cy="614.5" r="6.6" fill="#393939" stroke="#393939"/>
<circle cx="782.0" cy="670.4" r="6.6" fill="#393939" stroke="#393939"/>
<circle cx="754.4" cy="653.3" r="6.6" fill="#393939" stroke="#393939"/>
<circle cx="714.5" cy="578.8" r="6.6" fill="#393939" stroke="#393939"/>
<circle cx="762.9" cy="613.2" r="6.6" fill="#393939" stroke="#393939"/>
<circle cx="746.3" cy="700.2" r="6.6" fill="#393939" stroke="#393939"/>
<circle cx="833.4" cy="630.0" r="6.6" fill="#383838" stroke="#383838"/>
<circle cx="876.5" cy="513.4" r="6.6" fill="#383838" stroke="#383838"/>
<circle cx="753.6" cy="521.8" r="6.6" fill="#383838" stroke="#383838"/>
<circle cx="743.7" cy="550.5" r="6.6" fill="#383838" stroke="#383838"/>
<circle cx="803.5" cy="584.8" r="6.6" fill="#383838" stroke="#383838"/>
<circle cx="706.5" cy="679.9" r="6.6" fill="#383838" stroke="#383838"/>
<circle cx="906.9" cy="542.5" r="6.6" fill="#383838" stroke="#383838"/>
<circle cx="823.9" cy="551.1" r="6.6" fill="#383838" stroke="#383838"/>
<circle cx="789.4" cy="591.0" r="6.6" fill="#383838" stroke="#383838"/>
<circle cx="758.3" cy="517.4" r="6.6" fill="#383838" stroke="#383838"/>
<circle cx="751.6" cy="561.3" r="6.6" fill="#383838" stroke="#383838"/>
<circle cx="734.4" cy="647.9" r="6.6" fill="#383838" stroke="#383838"/>
<circle cx="746.9" cy="674.8" r="6.6" fill="#383838" stroke="#383838"/>
<circle cx="804.6" cy="579.8" r="6.6" fill="#383838" stroke="#383838"/>
<circle cx="825.3" cy="646.1" r="6.6" fill="#383838" stroke="#383838"/>
<circle cx="841.9" cy="521.9" r="6.6" fill="#383838" stroke="#383838"/>
<circle cx="807.3" cy="672.8" r="6.6" fill="#383838" stroke="#383838"/>
<circle cx="835.3" cy="551.5" r="6.6" fill="#383838" stroke="#383838"/>
<circle cx="719.2" cy="691.7" r="6.6" fill="#383838" stroke="#383838"/>
<circle cx="708.9" cy="626.9" r="6.6" fill="#383838" stroke="#383838"/>
<circle cx="841.0" cy="574.5" r="6.6" fill="#383838" stroke="#383838"/>
<circle cx="705.2" cy="650.5" r="6.6" fill="#383838" stroke="#383838"/>
<circle cx="742.9" cy="633.6" r="6.6" fill="#383838" stroke="#383838"/>
<circle cx="781.6" cy="672.6" r="6.6" fill="#383838" stroke="#383838"/>
<circle cx="802.0" cy="566.5" r="6.6" fill="#383838" stroke="#383838"/>
<circle cx="741.6" cy="547.4" r="6.6" fill="#383838" stroke="#383838"/>
<circle cx="701.5" cy="683.6" r="6.6" fill="#383838" stroke="#383838"/>
<circle cx="846.9" cy="580.6" r="6.6" fill="#383838" stroke="#383838"/>
<circle cx="881.1" cy="558.9" r="6.6" fill="#383838" stroke="#383838"/>
<circle cx="776.8" cy="577.2" r="6.6" fill="#383838" stroke="#383838"/>
<circle cx="762.3" cy="655.9" r="6.6" fill="#383838" stroke="#383838"/>
<circle cx="895.7" cy="543.4" r="6.6" fill="#383838" stroke="#383838"/>
<circle cx="859.4" cy="548.1" r="6.6" fill="#383838" stroke="#383838"/>
<circle cx="823.7" cy="649.6" r="6.6" fill="#373737" stroke="#373737"/>
<circle cx="803.7" cy="701.7" r="6.6" fill="#373737" stroke="#373737"/>
<circle cx="865.1" cy="566.1" r="6.6" fill="#373737" stroke="#373737"/>
<circle cx="862.1" cy="537.4" r="6.6" fill="#373737" stroke="#373737"/>
<circle cx="826.9" cy="489.0" r="6.6" fill="#373737" stroke="#373737"/>
<circle cx="769.4" cy="554.4" r="6.6" fill="#373737" stroke="#373737"/>
<circle cx="842.1" cy="590.3" r="6.6" fill="#373737" stroke="#373737"/>
<circle cx="777.9" cy="548.0" r="6.6" fill="#373737" stroke="#373737"/>
<circle cx="880.4" cy="594.7" r="6.6" fill="#373737" stroke="#373737"/>
<circle cx="783.6" cy="657.6" r="6.6" fill="#373737" stroke="#373737"/>
<circle cx="846.8" cy="589.3" r="6.6" fill="#373737" stroke="#373737"/>
<circle cx="827.5" cy="682.7" r="6.6" fill="#373737" stroke="#373737"/>
<circle cx="712.0" cy="617.3" r="6.6" fill="#373737" stroke="#373737"/>
<circle cx="710.0" cy="690.7" r="6.6" fill="#373737" stroke="#373737"/>
<circle cx="822.3" cy="521.6" r="6.6" fill="#373737" stroke="#373737"/>
<circle cx="817.6" cy="655.4" r="6.6" fill="#373737" stroke="#373737"/>
<circle cx="902.6" cy="536.0" r="6.6" fill="#363636" stroke="#363636"/>
<circle cx="878.8" cy="570.4" r="6.6" fill="#363636" stroke="#363636"/>
<circle cx="778.3" cy="630.0" r="6.6" fill="#363636" stroke="#363636"/>
<circle cx="817.9" cy="516.2" r="6.6" fill="#363636" stroke="#363636"/>
<circle cx="801.5" cy="626.8" r="6.6" fill="#363636" stroke="#363636"/>
<circle cx="777.0" cy="655.1" r="6.6" fill="#363636" stroke="#363636"/>
<circle cx="755.4" cy="554.6" r="6.6" fill="#363636" stroke="#363636"/>
<circle cx="735.0" cy="602.3" r="6.6" fill="#363636" stroke="#363636"/>
<circle cx="782.2" cy="546.7" r="6.6" fill="#363636" stroke="#363636"/>
<circle cx="896.5" cy="543.9" r="6.6" fill="#363636" stroke="#363636"/>
<circle cx="848.9" cy="519.3" r="6.6" fill="#363636" stroke="#363636"/>
<circle cx="878.2" cy="521.6" r="6.6" fill="#363636" stroke="#363636"/>
<circle cx="834.1" cy="576.8" r="6.6" fill="#353535" stroke="#353535"/>
<circle cx="743.3" cy="581.1" r="6.6" fill="#353535" stroke="#353535"/>
<circle cx="705.1" cy="636.7" r="6.6" fill="#353535" stroke="#353535"/>
<circle cx="705.0" cy="588.8" r="6.6" fill="#353535" stroke="#353535"/>
<circle cx="777.9" cy="537.2" r="6.6" fill="#353535" stroke="#353535"/>
<circle cx="817.8" cy="571.2" r="6.6" fill="#353535" stroke="#353535"/>
<circle cx="852.8" cy="622.1" r="6.6" fill="#353535" stroke="#353535"/>
<circle cx="794.4" cy="669.3" r="6.6" fill="#353535" stroke="#353535"/>
<circle cx="835.6" cy="539.1" r="6.6" fill="#353535" stroke="#353535"/>
<circle cx="808.5" cy="606.9" r="6.6" fill="#353535" stroke="#353535"/>
<circle cx="801.5" cy="588.6" r="6.6" fill="#353535" stroke="#353535"/>
<circle cx="899.5" cy="540.6" r="6.6" fill="#353535" stroke="#353535"/>
<circle cx="795.0" cy="524.9" r="6.6" fill="#353535" stroke="#353535"/>
<circle cx="769.7" cy="550.5" r="6.6" fill="#353535" stroke="#353535"/>
<circle cx="799.2" cy="614.2" r="6.6" fill="#353535" stroke="#353535"/>
<circle cx="808.8" cy="665.9" r="6.6" fill="#353535" stroke="#353535"/>
<circle cx="831.2" cy="639.8" r="6.6" fill="#353535" stroke="#353535"/>
<circle cx="872.8" cy="574.2" r="6.6" fill="#353535" stroke="#353535"/>
<circle cx="787.9" cy="658.8" r="6.6" fill="#353535" stroke="#353535"/>
<circle cx="733.7" cy="697.1" r="6.6" fill="#353535" stroke="#353535"/>
<circle cx="721.9" cy="698.9" r="6.6" fill="#343434" stroke="#343434"/>
<circle cx="752.4" cy="639.5" r="6.6" fill="#343434" stroke="#343434"/>
<circle cx="709.8" cy="624.9" r="6.6" fill="#343434" stroke="#343434"/>
<circle cx="766.6" cy="682.0" r="6.6" fill="#343434" stroke="#343434"/>
<circle cx="766.3" cy="652.7" r="6.6" fill="#343434" stroke="#343434"/>
<circle cx="904.5" cy="573.2" r="6.6" fill="#343434" stroke="#343434"/>
<circle cx="740.5" cy="684.9" r="6.6" fill="#343434" stroke="#343434"/>
<circle cx="794.9" cy="655.8" r="6.6" fill="#343434" stroke="#343434"/>
<circle cx="712.9" cy="611.4" r="6.6" fill="#343434" stroke="#343434"/>
<circle cx="708.3" cy="632.0" r="6.6" fill="#343434" stroke="#343434"/>
<circle cx="738.9" cy="616.9" r="6.6" fill="#343434" stroke="#343434"/>
<circle cx="801.8" cy="593.9" r="6.6" fill="#343434" stroke="#343434"/>
<circle cx="800.1" cy="534.2" r="6.6" fill="#343434" stroke="#343434"/>
<circle cx="813.2" cy="583.2" r="6.6" fill="#343434" stroke="#343434"/>
<circle cx="826.6" cy="528.4" r="6.6" fill="#343434" stroke="#343434"/>
<circle cx="777.6" cy="625.1" r="6.6" fill="#343434" stroke="#343434"/>
<circle cx="799.4" cy="660.5" r="6.6" fill="#343434" stroke="#343434"/>
<circle cx="797.6" cy="690.6" r="6.6" fill="#333333" stroke="#333333"/>
<circle cx="863.5" cy="587.7" r="6.6" fill="#333333" stroke="#333333"/>
<circle cx="759.4" cy="665.0" r="6.6" fill="#333333" stroke="#333333"/>
<circle cx="867.5" cy="583.8" r="6.6" fill="#333333" stroke="#333333"/>
<circle cx="711.1" cy="646.6" r="6.6" fill="#333333" stroke="#333333"/>
<circle cx="834.9" cy="558.0" r="6.6" fill="#333333" stroke="#333333"/>
<circle cx="853.8" cy="514.4" r="6.6" fill="#333333" stroke="#333333"/>
<circle cx="863.2" cy="522.7" r="6.6" fill="#333333" stroke="#333333"/>
<circle cx="754.5" cy="549.8" r="6.6" fill="#333333" stroke="#333333"/>
<circle cx="802.7" cy="649.7" r="6.6" fill="#333333" stroke="#333333"/>
<circle cx="878.8" cy="558.7" r="6.6" fill="#333333" stroke="#333333"/>
<circle cx="808.6" cy="448.0" r="6.6" fill="#333333" stroke="#333333"/>
<circle cx="883.0" cy="498.8" r="6.6" fill="#333333" stroke="#333333"/>
<circle cx="923.2" cy="494.5" r="6.6" fill="#333333" stroke="#333333"/>
<circle cx="799.8" cy="508.1" r="6.6" fill="#333333" stroke="#333333"/>
<circle cx="753.4" cy="564.0" r="6.6" fill="#333333" stroke="#333333"/>
<circle cx="751.1" cy="685.7" r="6.6" fill="#333333" stroke="#333333"/>
<circle cx="851.9" cy="526.2" r="6.6" fill="#333333" stroke="#333333"/>
<circle cx="723.1" cy="699.9" r="6.6" fill="#333333" stroke="#333333"/>
<circle cx="771.6" cy="665.1" r="6.6" fill="#333333" stroke="#333333"/>
<circle cx="746.4" cy="603.5" r="6.6" fill="#333333" stroke="#333333"/>
<circle cx="836.9" cy="646.6" r="6.6" fill="#333333" stroke="#333333"/>
<circle cx="906.6" cy="540.8" r="6.6" fill="#323232" stroke="#323232"/>
<circle cx="739.8" cy="665.3" r="6.6" fill="#323232" stroke="#323232"/>
<circle cx="789.0" cy="646.5" r="6.6" fill="#323232" stroke="#323232"/>
<circle cx="823.7" cy="655.5" r="6.6" fill="#323232" stroke="#323232"/>
<circle cx="898.6" cy="538.0" r="6.6" fill="#323232" stroke="#323232"/>
<circle cx="758.5" cy="653.6" r="6.6" fill="#323232" stroke="#323232"/>
<circle cx="721.7" cy="573.4" r="6.6" fill="#323232" stroke="#323232"/>
<circle cx="728.8" cy="615.5" r="6.6" fill="#323232" stroke="#323232"/>
<circle cx="856.5" cy="530.6" r="6.6" fill="#323232" stroke="#323232"/>
<circle cx="834.0" cy="643.6" r="6.6" fill="#323232" stroke="#323232"/>
<circle cx="481.1" cy="621.7" r="6.6" fill="#323232" stroke="#323232"/>
<circle cx="393.4" cy="577.2" r="6.6" fill="#323232" stroke="#323232"/>
<circle cx="471.6" cy="669.7" r="6.6" fill="#323232" stroke="#323232"/>
<circle cx="423.2" cy="593.6" r="6.6" fill="#323232" stroke="#323232"/>
<circle cx="412.6" cy="595.9" r="6.6" fill="#323232" stroke="#323232"/>
<circle cx="375.1" cy="563.3" r="6.6" fill="#323232" stroke="#323232"/>
<circle cx="478.2" cy="620.3" r="6.6" fill="#323232" stroke="#323232"/>
<circle cx="425.4" cy="638.1" r="6.6" fill="#313131" stroke="#313131"/>
<circle cx="434.1" cy="594.3" r="6.6" fill="#313131" stroke="#313131"/>
<circle cx="391.2" cy="593.1" r="6.6" fill="#313131" stroke="#313131"/>
<circle cx="434.5" cy="623.6" r="6.6" fill="#313131" stroke="#313131"/>
<circle cx="406.2" cy="667.7" r="6.6" fill="#303030" stroke="#303030"/>
<circle cx="360.3" cy="618.8" r="6.6" fill="#303030" stroke="#303030"/>
<circle cx="475.9" cy="481.0" r="6.6" fill="#303030" stroke="#303030"/>
<circle cx="428.7" cy="624.0" r="6.6" fill="#303030" stroke="#303030"/>
<circle cx="379.6" cy="580.5" r="6.6" fill="#303030" stroke="#303030"/>
<circle cx="476.1" cy="580.6" r="6.6" fill="#303030" stroke="#303030"/>
<circle cx="456.0" cy="585.4" r="6.6" fill="#303030" stroke="#303030"/>
<circle cx="435.6" cy="656.3" r="6.6" fill="#303030" stroke="#303030"/>
<circle cx="476.7" cy="535.4" r="6.6" fill="#303030" stroke="#303030"/>
<circle cx="456.9" cy="607.1" r="6.6" fill="#303030" stroke="#303030"/>
<circle cx="417.1" cy="657.0" r="6.6" fill="#2f2f2f" stroke="#2f2f2f"/>
<circle cx="454.1" cy="496.5" r="6.6" fill="#2f2f2f" stroke="#2f2f2f"/>
<circle cx="462.5" cy="643.4" r="6.6" fill="#2f2f2f" stroke="#2f2f2f"/>
<circle cx="418.9" cy="576.4" r="6.6" fill="#2f2f2f" stroke="#2f2f2f"/>
<circle cx="467.2" cy="631.9" r="6.6" fill="#2f2f2f" stroke="#2f2f2f"/>
<circle cx="484.7" cy="605.5" r="6.6" fill="#2f2f2f" stroke="#2f2f2f"/>
<circle cx="852.4" cy="464.0" r="6.6" fill="#2f2f2f" stroke="#2f2f2f"/>
<circle cx="480.7" cy="562.9" r="6.6" fill="#2f2f2f" stroke="#2f2f2f"/>
<circle cx="468.2" cy="526.2" r="6.6" fill="#2f2f2f" stroke="#2f2f2f"/>
<circle cx="402.3" cy="577.1" r="6.6" fill="#2f2f2f" stroke="#2f2f2f"/>
<circle cx="416.3" cy="611.6" r="6.6" fill="#2f2f2f" stroke="#2f2f2f"/>
<circle cx="393.6" cy="594.7" r="6.6" fill="#2f2f2f" stroke="#2f2f2f"/>
<circle cx="408.9" cy="585.0" r="6.6" fill="#2f2f2f" stroke="#2f2f2f"/>
<circle cx="408.1" cy="647.6" r="6.6" fill="#2f2f2f" stroke="#2f2f2f"/>
<circle cx="415.3" cy="670.5" r="6.6" fill="#2f2f2f" stroke="#2f2f2f"/>
<circle cx="405.5" cy="598.3" r="6.6" fill="#2f2f2f" stroke="#2f2f2f"/>
<circle cx="471.3" cy="594.4" r="6.6" fill="#2f2f2f" stroke="#2f2f2f"/>
<circle cx="479.1" cy="659.0" r="6.6" fill="#2f2f2f" stroke="#2f2f2f"/>
<circle cx="468.6" cy="673.2" r="6.6" fill="#2f2f2f" stroke="#2f2f2f"/>
<circle cx="482.9" cy="701.3" r="6.6" fill="#2f2f2f" stroke="#2f2f2f"/>
<circle cx="477.7" cy="550.8" r="6.6" fill="#2f2f2f" stroke="#2f2f2f"/>
<circle cx="472.4" cy="486.9" r="6.6" fill="#2f2f2f" stroke="#2f2f2f"/>
<circle cx="414.6" cy="616.0" r="6.6" fill="#2f2f2f" stroke="#2f2f2f"/>
<circle cx="476.1" cy="549.0" r="6.6" fill="#2f2f2f" stroke="#2f2f2f"/>
<circle cx="452.1" cy="691.2" r="6.6" fill="#2f2f2f" stroke="#2f2f2f"/>
<circle cx="438.2" cy="613.7" r="6.6" fill="#2f2f2f" stroke="#2f2f2f"/>
<circle cx="440.4" cy="673.2" r="6.6" fill="#2f2f2f" stroke="#2f2f2f"/>
<circle cx="450.0" cy="648.4" r="6.6" fill="#2e2e2e" stroke="#2e2e2e"/>
<circle cx="475.5" cy="699.8" r="6.6" fill="#2e2e2e" stroke="#2e2e2e"/>
<circle cx="438.8" cy="572.1" r="6.6" fill="#2e2e2e" stroke="#2e2e2e"/>
<circle cx="449.3" cy="613.1" r="6.6" fill="#2e2e2e" stroke="#2e2e2e"/>
<circle cx="371.4" cy="581.3" r="6.6" fill="#2e2e2e" stroke="#2e2e2e"/>
<circle cx="437.3" cy="681.7" r="6.6" fill="#2e2e2e" stroke="#2e2e2e"/>
<circle cx="378.0" cy="568.1" r="6.6" fill="#2e2e2e" stroke="#2e2e2e"/>
<circle cx="406.2" cy="609.4" r="6.6" fill="#2e2e2e" stroke="#2e2e2e"/>
<circle cx="446.0" cy="614.5" r="6.6" fill="#2e2e2e" stroke="#2e2e2e"/>
<circle cx="427.1" cy="554.4" r="6.6" fill="#2e2e2e" stroke="#2e2e2e"/>
<circle cx="434.8" cy="604.5" r="6.6" fill="#2e2e2e" stroke="#2e2e2e"/>
<circle cx="412.0" cy="640.3" r="6.6" fill="#2e2e2e" stroke="#2e2e2e"/>
<circle cx="460.5" cy="582.5" r="6.6" fill="#2e2e2e" stroke="#2e2e2e"/>
<circle cx="479.0" cy="554.2" r="6.6" fill="#2e2e2e" stroke="#2e2e2e"/>
<circle cx="395.6" cy="609.5" r="6.6" fill="#2e2e2e" stroke="#2e2e2e"/>
<circle cx="400.8" cy="608.6" r="6.6" fill="#2e2e2e" stroke="#2e2e2e"/>
<circle cx="375.3" cy="594.9" r="6.6" fill="#2e2e2e" stroke="#2e2e2e"/>
<circle cx="475.8" cy="579.4" r="6.6" fill="#2e2e2e" stroke="#2e2e2e"/>
<circle cx="460.0" cy="539.8" r="6.6" fill="#2e2e2e" stroke="#2e2e2e"/>
<circle cx="378.8" cy="630.8" r="6.6" fill="#2e2e2e" stroke="#2e2e2e"/>
<circle cx="476.6" cy="610.7" r="6.6" fill="#2e2e2e" stroke="#2e2e2e"/>
<circle cx="424.7" cy="657.9" r="6.6" fill="#2e2e2e" stroke="#2e2e2e"/>
<circle cx="477.8" cy="552.5" r="6.6" fill="#2e2e2e" stroke="#2e2e2e"/>
<circle cx="480.7" cy="677.1" r="6.6" fill="#2e2e2e" stroke="#2e2e2e"/>
<circle cx="405.5" cy="618.6" r="6.6" fill="#2d2d2d" stroke="#2d2d2d"/>
<circle cx="465.2" cy="587.7" r="6.6" fill="#2d2d2d" stroke="#2d2d2d"/>
<circle cx="416.3" cy="618.3" r="6.6" fill="#2d2d2d" stroke="#2d2d2d"/>
<circle cx="472.0" cy="634.6" r="6.6" fill="#2d2d2d" stroke="#2d2d2d"/>
<circle cx="451.8" cy="591.5" r="6.6" fill="#2d2d2d" stroke="#2d2d2d"/>
<circle cx="443.3" cy="621.7" r="6.6" fill="#2d2d2d" stroke="#2d2d2d"/>
<circle cx="466.9" cy="530.6" r="6.6" fill="#2d2d2d" stroke="#2d2d2d"/>
<circle cx="398.8" cy="654.5" r="6.6" fill="#2d2d2d" stroke="#2d2d2d"/>
<circle cx="463.1" cy="494.5" r="6.6" fill="#2d2d2d" stroke="#2d2d2d"/>
<circle cx="478.0" cy="624.9" r="6.6" fill="#2d2d2d" stroke="#2d2d2d"/>
<circle cx="469.5" cy="583.6" r="6.6" fill="#2d2d2d" stroke="#2d2d2d"/>
<circle cx="446.5" cy="631.4" r="6.6" fill="#2d2d2d" stroke="#2d2d2d"/>
<circle cx="478.0" cy="647.9" r="6.6" fill="#2d2d2d" stroke="#2d2d2d"/>
<circle cx="404.1" cy="581.7" r="6.6" fill="#2d2d2d" stroke="#2d2d2d"/>
<circle cx="463.6" cy="611.3" r="6.6" fill="#2d2d2d" stroke="#2d2d2d"/>
<circle cx="418.1" cy="618.4" r="6.6" fill="#2d2d2d" stroke="#2d2d2d"/>
<circle cx="759.2" cy="563.5" r="6.6" fill="#2d2d2d" stroke="#2d2d2d"/>
<circle cx="474.8" cy="700.0" r="6.6" fill="#2d2d2d" stroke="#2d2d2d"/>
<circle cx="455.4" cy="594.4" r="6.6" fill="#2d2d2d" stroke="#2d2d2d"/>
<circle cx="720.0" cy="570.6" r="6.6" fill="#2d2d2d" stroke="#2d2d2d"/>
<circle cx="834.6" cy="502.3" r="6.6" fill="#2d2d2d" stroke="#2d2d2d"/>
<circle cx="744.7" cy="493.0" r="6.6" fill="#2d2d2d" stroke="#2d2d2d"/>
<circle cx="477.7" cy="689.5" r="6.6" fill="#2c2c2c" stroke="#2c2c2c"/>
<circle cx="409.6" cy="642.9" r="6.6" fill="#2c2c2c" stroke="#2c2c2c"/>
<circle cx="395.4" cy="618.1" r="6.6" fill="#2c2c2c" stroke="#2c2c2c"/>
<circle cx="898.0" cy="521.6" r="6.6" fill="#2c2c2c" stroke="#2c2c2c"/>
<circle cx="459.3" cy="501.1" r="6.6" fill="#2c2c2c" stroke="#2c2c2c"/>
<circle cx="474.1" cy="522.6" r="6.6" fill="#2c2c2c" stroke="#2c2c2c"/>
<circle cx="789.6" cy="591.7" r="6.6" fill="#2c2c2c" stroke="#2c2c2c"/>
<circle cx="394.5" cy="601.5" r="6.6" fill="#2c2c2c" stroke="#2c2c2c"/>
<circle cx="461.0" cy="550.3" r="6.6" fill="#2c2c2c" stroke="#2c2c2c"/>
<circle cx="442.8" cy="655.0" r="6.6" fill="#2c2c2c" stroke="#2c2c2c"/>
<circle cx="887.7" cy="611.6" r="6.6" fill="#2c2c2c" stroke="#2c2c2c"/>
<circle cx="482.8" cy="693.0" r="6.6" fill="#2c2c2c" stroke="#2c2c2c"/>
<circle cx="442.4" cy="535.2" r="6.6" fill="#2c2c2c" stroke="#2c2c2c"/>
<circle cx="447.6" cy="546.7" r="6.6" fill="#2c2c2c" stroke="#2c2c2c"/>
<circle cx="459.7" cy="579.2" r="6.6" fill="#2c2c2c" stroke="#2c2c2c"/>
<circle cx="449.9" cy="680.5" r="6.6" fill="#2c2c2c" stroke="#2c2c2c"/>
<circle cx="447.5" cy="673.1" r="6.6" fill="#2c2c2c" stroke="#2c2c2c"/>
<circle cx="464.5" cy="683.6" r="6.6" fill="#2c2c2c" stroke="#2c2c2c"/>
<circle cx="414.4" cy="559.9" r="6.6" fill="#2c2c2c" stroke="#2c2c2c"/>
<circle cx="454.9" cy="644.2" r="6.6" fill="#2c2c2c" stroke="#2c2c2c"/>
<circle cx="388.6" cy="603.9" r="6.6" fill="#2c2c2c" stroke="#2c2c2c"/>
<circle cx="463.1" cy="585.3" r="6.6" fill="#2c2c2c" stroke="#2c2c2c"/>
<circle cx="712.2" cy="583.5" r="6.6" fill="#2c2c2c" stroke="#2c2c2c"/>
<circle cx="395.2" cy="636.5" r="6.6" fill="#2c2c2c" stroke="#2c2c2c"/>
<circle cx="830.9" cy="510.0" r="6.6" fill="#2c2c2c" stroke="#2c2c2c"/>
<circle cx="418.6" cy="658.2" r="6.6" fill="#2c2c2c" stroke="#2c2c2c"/>
<circle cx="473.5" cy="524.5" r="6.6" fill="#2c2c2c" stroke="#2c2c2c"/>
<circle cx="405.7" cy="582.2" r="6.6" fill="#2c2c2c" stroke="#2c2c2c"/>
<circle cx="400.5" cy="663.4" r="6.6" fill="#2c2c2c" stroke="#2c2c2c"/>
<circle cx="380.3" cy="614.0" r="6.6" fill="#2c2c2c" stroke="#2c2c2c"/>
<circle cx="749.7" cy="615.3" r="6.6" fill="#2c2c2c" stroke="#2c2c2c"/>
<circle cx="404.4" cy="593.6" r="6.6" fill="#2c2c2c" stroke="#2c2c2c"/>
<circle cx="779.9" cy="579.3" r="6.6" fill="#2c2c2c" stroke="#2c2c2c"/>
<circle cx="762.9" cy="699.0" r="6.6" fill="#2b2b2b" stroke="#2b2b2b"/>
<circle cx="406.1" cy="567.6" r="6.6" fill="#2b2b2b" stroke="#2b2b2b"/>
<circle cx="879.6" cy="605.6" r="6.6" fill="#2b2b2b" stroke="#2b2b2b"/>
<circle cx="455.5" cy="618.7" r="6.6" fill="#2b2b2b" stroke="#2b2b2b"/>
<circle cx="467.8" cy="692.2" r="6.6" fill="#2b2b2b" stroke="#2b2b2b"/>
<circle cx="804.6" cy="558.0" r="6.6" fill="#2b2b2b" stroke="#2b2b2b"/>
<circle cx="457.7" cy="594.9" r="6.6" fill="#2b2b2b" stroke="#2b2b2b"/>
<circle cx="855.4" cy="529.9" r="6.6" fill="#2b2b2b" stroke="#2b2b2b"/>
<circle cx="789.9" cy="624.3" r="6.6" fill="#2b2b2b" stroke="#2b2b2b"/>
<circle cx="450.6" cy="551.0" r="6.6" fill="#2b2b2b" stroke="#2b2b2b"/>
<circle cx="439.8" cy="628.9" r="6.6" fill="#2b2b2b" stroke="#2b2b2b"/>
<circle cx="695.8" cy="449.8" r="6.6" fill="#2b2b2b" stroke="#2b2b2b"/>
<circle cx="433.6" cy="648.6" r="6.6" fill="#2b2b2b" stroke="#2b2b2b"/>
<circle cx="407.6" cy="620.6" r="6.6" fill="#2b2b2b" stroke="#2b2b2b"/>
<circle cx="453.3" cy="657.0" r="6.6" fill="#2b2b2b" stroke="#2b2b2b"/>
<circle cx="722.6" cy="519.4" r="6.6" fill="#2b2b2b" stroke="#2b2b2b"/>
<circle cx="483.2" cy="700.2" r="6.6" fill="#2b2b2b" stroke="#2b2b2b"/>
<circle cx="441.7" cy="662.1" r="6.6" fill="#2b2b2b" stroke="#2b2b2b"/>
<circle cx="734.0" cy="511.2" r="6.6" fill="#2b2b2b" stroke="#2b2b2b"/>
<circle cx="396.1" cy="612.4" r="6.6" fill="#2b2b2b" stroke="#2b2b2b"/>
<circle cx="419.6" cy="580.9" r="6.6" fill="#2b2b2b" stroke="#2b2b2b"/>
<circle cx="433.8" cy="619.1" r="6.6" fill="#2b2b2b" stroke="#2b2b2b"/>
<circle cx="749.1" cy="542.6" r="6.6" fill="#2b2b2b" stroke="#2b2b2b"/>
<circle cx="876.9" cy="493.2" r="6.6" fill="#2b2b2b" stroke="#2b2b2b"/>
<circle cx="853.4" cy="523.7" r="6.6" fill="#2b2b2b" stroke="#2b2b2b"/>
<circle cx="402.0" cy="612.0" r="6.6" fill="#2b2b2b" stroke="#2b2b2b"/>
<circle cx="362.4" cy="640.8" r="6.6" fill="#2a2a2a" stroke="#2a2a2a"/>
<circle cx="481.7" cy="598.8" r="6.6" fill="#2a2a2a" stroke="#2a2a2a"/>
<circle cx="766.6" cy="693.1" r="6.6" fill="#2a2a2a" stroke="#2a2a2a"/>
<circle cx="396.9" cy="638.5" r="6.6" fill="#2a2a2a" stroke="#2a2a2a"/>
<circle cx="442.1" cy="645.3" r="6.6" fill="#2a2a2a" stroke="#2a2a2a"/>
<circle cx="479.2" cy="517.6" r="6.6" fill="#2a2a2a" stroke="#2a2a2a"/>
<circle cx="812.0" cy="522.8" r="6.6" fill="#2a2a2a" stroke="#2a2a2a"/>
<circle cx="448.2" cy="521.7" r="6.6" fill="#2a2a2a" stroke="#2a2a2a"/>
<circle cx="714.2" cy="602.2" r="6.6" fill="#2a2a2a" stroke="#2a2a2a"/>
<circle cx="414.3" cy="626.5" r="6.6" fill="#2a2a2a" stroke="#2a2a2a"/>
<circle cx="468.2" cy="701.2" r="6.6" fill="#2a2a2a" stroke="#2a2a2a"/>
<circle cx="470.8" cy="699.2" r="6.6" fill="#2a2a2a" stroke="#2a2a2a"/>
<circle cx="462.6" cy="649.0" r="6.6" fill="#2a2a2a" stroke="#2a2a2a"/>
<circle cx="709.3" cy="593.3" r="6.6" fill="#2a2a2a" stroke="#2a2a2a"/>
<circle cx="423.2" cy="562.6" r="6.6" fill="#2a2a2a" stroke="#2a2a2a"/>
<circle cx="476.9" cy="604.3" r="6.6" fill="#2a2a2a" stroke="#2a2a2a"/>
<circle cx="784.4" cy="539.6" r="6.6" fill="#2a2a2a" stroke="#2a2a2a"/>
<circle cx="444.1" cy="644.8" r="6.6" fill="#2a2a2a" stroke="#2a2a2a"/>
<circle cx="442.3" cy="692.5" r="6.6" fill="#2a2a2a" stroke="#2a2a2a"/>
<circle cx="437.5" cy="681.4" r="6.6" fill="#2a2a2a" stroke="#2a2a2a"/>
<circle cx="429.7" cy="670.9" r="6.6" fill="#2a2a2a" stroke="#2a2a2a"/>
<circle cx="473.7" cy="689.5" r="6.6" fill="#2a2a2a" stroke="#2a2a2a"/>
<circle cx="825.4" cy="568.6" r="6.6" fill="#2a2a2a" stroke="#2a2a2a"/>
<circle cx="448.1" cy="659.2" r="6.6" fill="#2a2a2a" stroke="#2a2a2a"/>
<circle cx="782.0" cy="669.2" r="6.6" fill="#292929" stroke="#292929"/>
<circle cx="418.7" cy="596.5" r="6.6" fill="#292929" stroke="#292929"/>
<circle cx="781.3" cy="562.8" r="6.6" fill="#292929" stroke="#292929"/>
<circle cx="412.4" cy="593.3" r="6.6" fill="#292929" stroke="#292929"/>
<circle cx="457.5" cy="655.9" r="6.6" fill="#292929" stroke="#292929"/>
<circle cx="750.4" cy="551.7" r="6.6" fill="#292929" stroke="#292929"/>
<circle cx="741.4" cy="544.2" r="6.6" fill="#292929" stroke="#292929"/>
<circle cx="482.8" cy="617.6" r="6.6" fill="#292929" stroke="#292929"/>
<circle cx="416.6" cy="578.9" r="6.6" fill="#292929" stroke="#292929"/>
<circle cx="728.7" cy="576.6" r="6.6" fill="#292929" stroke="#292929"/>
<circle cx="416.7" cy="631.5" r="6.6" fill="#292929" stroke="#292929"/>
<circle cx="383.1" cy="558.5" r="6.6" fill="#292929" stroke="#292929"/>
<circle cx="797.7" cy="577.3" r="6.6" fill="#292929" stroke="#292929"/>
<circle cx="471.7" cy="597.0" r="6.6" fill="#292929" stroke="#292929"/>
<circle cx="418.3" cy="630.6" r="6.6" fill="#292929" stroke="#292929"/>
<circle cx="459.0" cy="690.6" r="6.6" fill="#292929" stroke="#292929"/>
<circle cx="480.0" cy="581.0" r="6.6" fill="#292929" stroke="#292929"/>
<circle cx="422.2" cy="656.1" r="6.6" fill="#292929" stroke="#292929"/>
<circle cx="441.0" cy="703.7" r="6.6" fill="#292929" stroke="#292929"/>
<circle cx="472.7" cy="583.1" r="6.6" fill="#292929" stroke="#292929"/>
<circle cx="369.1" cy="644.8" r="6.6" fill="#292929" stroke="#292929"/>
<circle cx="810.8" cy="508.9" r="6.6" fill="#292929" stroke="#292929"/>
<circle cx="710.3" cy="581.2" r="6.6" fill="#292929" stroke="#292929"/>
<circle cx="460.8" cy="663.1" r="6.6" fill="#292929" stroke="#292929"/>
<circle cx="389.7" cy="587.5" r="6.6" fill="#292929" stroke="#292929"/>
<circle cx="476.2" cy="656.7" r="6.6" fill="#292929" stroke="#292929"/>
<circle cx="470.3" cy="643.0" r="6.6" fill="#292929" stroke="#292929"/>
<circle cx="482.1" cy="636.3" r="6.6" fill="#292929" stroke="#292929"/>
<circle cx="456.9" cy="565.0" r="6.6" fill="#292929" stroke="#292929"/>
<circle cx="768.9" cy="653.6" r="6.6" fill="#292929" stroke="#292929"/>
<circle cx="430.6" cy="644.0" r="6.6" fill="#292929" stroke="#292929"/>
<circle cx="441.0" cy="685.2" r="6.6" fill="#292929" stroke="#292929"/>
<circle cx="379.1" cy="608.4" r="6.6" fill="#292929" stroke="#292929"/>
<circle cx="480.6" cy="519.7" r="6.6" fill="#292929" stroke="#292929"/>
<circle cx="793.3" cy="645.1" r="6.6" fill="#292929" stroke="#292929"/>
<circle cx="439.9" cy="573.4" r="6.6" fill="#292929" stroke="#292929"/>
<circle cx="452.0" cy="626.5" r="6.6" fill="#292929" stroke="#292929"/>
<circle cx="451.9" cy="607.5" r="6.6" fill="#282828" stroke="#282828"/>
<circle cx="778.6" cy="701.3" r="6.6" fill="#282828" stroke="#282828"/>
<circle cx="384.7" cy="635.4" r="6.6" fill="#282828" stroke="#282828"/>
<circle cx="459.0" cy="614.8" r="6.6" fill="#282828" stroke="#282828"/>
<circle cx="451.6" cy="549.4" r="6.6" fill="#282828" stroke="#282828"/>
<circle cx="461.7" cy="563.5" r="6.6" fill="#282828" stroke="#282828"/>
<circle cx="443.3" cy="596.5" r="6.6" fill="#282828" stroke="#282828"/>
<circle cx="426.2" cy="561.4" r="6.6" fill="#282828" stroke="#282828"/>
<circle cx="480.4" cy="661.2" r="6.6" fill="#282828" stroke="#282828"/>
<circle cx="728.7" cy="492.3" r="6.6" fill="#282828" stroke="#282828"/>
<circle cx="459.3" cy="527.1" r="6.6" fill="#282828" stroke="#282828"/>
<circle cx="433.9" cy="577.5" r="6.6" fill="#282828" stroke="#282828"/>
<circle cx="475.0" cy="601.3" r="6.6" fill="#282828" stroke="#282828"/>
<circle cx="453.9" cy="630.8" r="6.6" fill="#282828" stroke="#282828"/>
<circle cx="918.7" cy="529.0" r="6.6" fill="#282828" stroke="#282828"/>
<circle cx="771.2" cy="564.8" r="6.6" fill="#282828" stroke="#282828"/>
<circle cx="443.9" cy="594.3" r="6.6" fill="#282828" stroke="#282828"/>
<circle cx="825.8" cy="636.2" r="6.6" fill="#282828" stroke="#282828"/>
<circle cx="829.2" cy="619.0" r="6.6" fill="#282828" stroke="#282828"/>
<circle cx="423.2" cy="640.0" r="6.6" fill="#282828" stroke="#282828"/>
<circle cx="777.2" cy="478.2" r="6.6" fill="#282828" stroke="#282828"/>
<circle cx="789.8" cy="513.4" r="6.6" fill="#272727" stroke="#272727"/>
<circle cx="483.2" cy="638.5" r="6.6" fill="#272727" stroke="#272727"/>
<circle cx="849.4" cy="578.4" r="6.6" fill="#272727" stroke="#272727"/>
<circle cx="421.1" cy="578.4" r="6.6" fill="#272727" stroke="#272727"/>
<circle cx="420.5" cy="601.1" r="6.6" fill="#272727" stroke="#272727"/>
<circle cx="468.5" cy="577.5" r="6.6" fill="#272727" stroke="#272727"/>
<circle cx="408.6" cy="656.0" r="6.6" fill="#272727" stroke="#272727"/>
<circle cx="452.5" cy="623.8" r="6.6" fill="#272727" stroke="#272727"/>
<circle cx="400.7" cy="619.6" r="6.6" fill="#272727" stroke="#272727"/>
<circle cx="778.8" cy="636.0" r="6.6" fill="#272727" stroke="#272727"/>
<circle cx="715.1" cy="528.8" r="6.6" fill="#272727" stroke="#272727"/>
<circle cx="472.2" cy="578.3" r="6.6" fill="#272727" stroke="#272727"/>
<circle cx="429.5" cy="643.3" r="6.6" fill="#272727" stroke="#272727"/>
<circle cx="872.6" cy="555.8" r="6.6" fill="#272727" stroke="#272727"/>
<circle cx="476.6" cy="451.3" r="6.6" fill="#272727" stroke="#272727"/>
<circle cx="783.1" cy="525.8" r="6.6" fill="#272727" stroke="#272727"/>
<circle cx="738.0" cy="589.7" r="6.6" fill="#272727" stroke="#272727"/>
<circle cx="463.0" cy="591.3" r="6.6" fill="#272727" stroke="#272727"/>
<circle cx="852.8" cy="645.6" r="6.6" fill="#272727" stroke="#272727"/>
<circle cx="421.8" cy="597.3" r="6.6" fill="#272727" stroke="#272727"/>
<circle cx="433.8" cy="591.8" r="6.6" fill="#272727" stroke="#272727"/>
<circle cx="453.6" cy="543.7" r="6.6" fill="#272727" stroke="#272727"/>
<circle cx="475.4" cy="578.8" r="6.6" fill="#272727" stroke="#272727"/>
<circle cx="410.9" cy="588.3" r="6.6" fill="#272727" stroke="#272727"/>
<circle cx="725.9" cy="507.3" r="6.6" fill="#262626" stroke="#262626"/>
<circle cx="476.4" cy="667.5" r="6.6" fill="#262626" stroke="#262626"/>
<circle cx="748.4" cy="678.5" r="6.6" fill="#262626" stroke="#262626"/>
<circle cx="404.4" cy="581.6" r="6.6" fill="#262626" stroke="#262626"/>
<circle cx="409.8" cy="609.2" r="6.6" fill="#262626" stroke="#262626"/>
<circle cx="483.8" cy="683.2" r="6.6" fill="#262626" stroke="#262626"/>
<circle cx="393.8" cy="560.1" r="6.6" fill="#262626" stroke="#262626"/>
<circle cx="479.3" cy="655.5" r="6.6" fill="#262626" stroke="#262626"/>
<circle cx="442.3" cy="682.5" r="6.6" fill="#262626" stroke="#262626"/>
<circle cx="404.7" cy="556.9" r="6.6" fill="#262626" stroke="#262626"/>
<circle cx="395.9" cy="656.6" r="6.6" fill="#262626" stroke="#262626"/>
<circle cx="439.6" cy="537.3" r="6.6" fill="#262626" stroke="#262626"/>
<circle cx="420.5" cy="603.1" r="6.6" fill="#262626" stroke="#262626"/>
<circle cx="734.8" cy="551.1" r="6.6" fill="#262626" stroke="#262626"/>
<circle cx="454.6" cy="533.7" r="6.6" fill="#262626" stroke="#262626"/>
<circle cx="437.9" cy="557.3" r="6.6" fill="#262626" stroke="#262626"/>
<circle cx="838.8" cy="510.7" r="6.6" fill="#262626" stroke="#262626"/>
<circle cx="691.7" cy="429.0" r="6.6" fill="#262626" stroke="#262626"/>
<circle cx="397.0" cy="608.6" r="6.6" fill="#262626" stroke="#262626"/>
<circle cx="907.7" cy="559.7" r="6.6" fill="#262626" stroke="#262626"/>
<circle cx="449.6" cy="639.5" r="6.6" fill="#262626" stroke="#262626"/>
<circle cx="812.3" cy="523.7" r="6.6" fill="#262626" stroke="#262626"/>
<circle cx="478.0" cy="625.4" r="6.6" fill="#262626" stroke="#262626"/>
<circle cx="717.6" cy="603.4" r="6.6" fill="#262626" stroke="#262626"/>
<circle cx="450.3" cy="603.7" r="6.6" fill="#262626" stroke="#262626"/>
<circle cx="482.5" cy="700.8" r="6.6" fill="#262626" stroke="#262626"/>
<circle cx="423.7" cy="558.3" r="6.6" fill="#262626" stroke="#262626"/>
<circle cx="381.6" cy="611.3" r="6.6" fill="#262626" stroke="#262626"/>
<circle cx="399.6" cy="623.3" r="6.6" fill="#262626" stroke="#262626"/>
<circle cx="471.2" cy="691.3" r="6.6" fill="#262626" stroke="#262626"/>
<circle cx="458.6" cy="680.1" r="6.6" fill="#262626" stroke="#262626"/>
<circle cx="440.6" cy="649.7" r="6.6" fill="#262626" stroke="#262626"/>
<circle cx="469.3" cy="626.6" r="6.6" fill="#262626" stroke="#262626"/>
<circle cx="417.3" cy="620.8" r="6.6" fill="#262626" stroke="#262626"/>
<circle cx="419.8" cy="624.7" r="6.6" fill="#262626" stroke="#262626"/>
<circle cx="448.5" cy="694.2" r="6.6" fill="#262626" stroke="#262626"/>
<circle cx="460.8" cy="543.0" r="6.6" fill="#252525" stroke="#252525"/>
<circle cx="770.5" cy="666.0" r="6.6" fill="#252525" stroke="#252525"/>
<circle cx="439.7" cy="701.5" r="6.6" fill="#252525" stroke="#252525"/>
<circle cx="472.3" cy="676.7" r="6.6" fill="#252525" stroke="#252525"/>
<circle cx="428.9" cy="576.7" r="6.6" fill="#252525" stroke="#252525"/>
<circle cx="870.8" cy="622.2" r="6.6" fill="#252525" stroke="#252525"/>
<circle cx="423.7" cy="597.5" r="6.6" fill="#252525" stroke="#252525"/>
<circle cx="432.2" cy="696.7" r="6.6" fill="#252525" stroke="#252525"/>
<circle cx="461.7" cy="598.2" r="6.6" fill="#252525" stroke="#252525"/>
<circle cx="434.9" cy="701.5" r="6.6" fill="#252525" stroke="#252525"/>
<circle cx="435.1" cy="640.9" r="6.6" fill="#252525" stroke="#252525"/>
<circle cx="465.3" cy="493.2" r="6.6" fill="#252525" stroke="#252525"/>
<circle cx="713.6" cy="682.1" r="6.6" fill="#252525" stroke="#252525"/>
<circle cx="788.5" cy="692.5" r="6.6" fill="#252525" stroke="#252525"/>
<circle cx="417.2" cy="593.5" r="6.6" fill="#252525" stroke="#252525"/>
<circle cx="422.7" cy="615.5" r="6.6" fill="#252525" stroke="#252525"/>
<circle cx="484.8" cy="588.9" r="6.6" fill="#252525" stroke="#252525"/>
<circle cx="478.8" cy="518.3" r="6.6" fill="#252525" stroke="#252525"/>
<circle cx="471.9" cy="472.5" r="6.6" fill="#252525" stroke="#252525"/>
<circle cx="453.5" cy="585.5" r="6.6" fill="#242424" stroke="#242424"/>
<circle cx="761.6" cy="603.6" r="6.6" fill="#242424" stroke="#242424"/>
<circle cx="455.9" cy="605.5" r="6.6" fill="#242424" stroke="#242424"/>
<circle cx="468.4" cy="592.3" r="6.6" fill="#242424" stroke="#242424"/>
<circle cx="468.4" cy="672.0" r="6.6" fill="#242424" stroke="#242424"/>
<circle cx="402.0" cy="657.7" r="6.6" fill="#242424" stroke="#242424"/>
<circle cx="399.8" cy="593.4" r="6.6" fill="#242424" stroke="#242424"/>
<circle cx="366.4" cy="579.8" r="6.6" fill="#242424" stroke="#242424"/>
<circle cx="390.2" cy="576.3" r="6.6" fill="#242424" stroke="#242424"/>
<circle cx="397.6" cy="622.0" r="6.6" fill="#242424" stroke="#242424"/>
<circle cx="929.4" cy="449.1" r="6.6" fill="#242424" stroke="#242424"/>
<circle cx="967.2" cy="546.6" r="6.6" fill="#242424" stroke="#242424"/>
<circle cx="458.3" cy="661.6" r="6.6" fill="#242424" stroke="#242424"/>
<circle cx="439.6" cy="551.6" r="6.6" fill="#242424" stroke="#242424"/>
<circle cx="751.8" cy="555.2" r="6.6" fill="#242424" stroke="#242424"/>
<circle cx="423.8" cy="643.8" r="6.6" fill="#242424" stroke="#242424"/>
<circle cx="800.3" cy="544.2" r="6.6" fill="#242424" stroke="#242424"/>
<circle cx="441.3" cy="610.5" r="6.6" fill="#242424" stroke="#242424"/>
<circle cx="359.3" cy="639.4" r="6.6" fill="#242424" stroke="#242424"/>
<circle cx="458.2" cy="672.0" r="6.6" fill="#242424" stroke="#242424"/>
<circle cx="405.9" cy="585.0" r="6.6" fill="#242424" stroke="#242424"/>
<circle cx="477.7" cy="686.0" r="6.6" fill="#242424" stroke="#242424"/>
<circle cx="482.3" cy="668.4" r="6.6" fill="#242424" stroke="#242424"/>
<circle cx="360.3" cy="626.1" r="6.6" fill="#242424" stroke="#242424"/>
<circle cx="451.1" cy="674.0" r="6.6" fill="#232323" stroke="#232323"/>
<circle cx="403.9" cy="624.1" r="6.6" fill="#232323" stroke="#232323"/>
<circle cx="380.0" cy="561.4" r="6.6" fill="#232323" stroke="#232323"/>
<circle cx="438.9" cy="519.3" r="6.6" fill="#232323" stroke="#232323"/>
<circle cx="427.1" cy="548.0" r="6.6" fill="#232323" stroke="#232323"/>
<circle cx="730.3" cy="664.2" r="6.6" fill="#232323" stroke="#232323"/>
<circle cx="713.6" cy="503.1" r="6.6" fill="#232323" stroke="#232323"/>
<circle cx="451.9" cy="637.5" r="6.6" fill="#232323" stroke="#232323"/>
<circle cx="456.4" cy="663.8" r="6.6" fill="#232323" stroke="#232323"/>
<circle cx="385.0" cy="592.9" r="6.6" fill="#232323" stroke="#232323"/>
<circle cx="425.7" cy="598.9" r="6.6" fill="#232323" stroke="#232323"/>
<circle cx="418.3" cy="562.6" r="6.6" fill="#232323" stroke="#232323"/>
<circle cx="447.2" cy="579.8" r="6.6" fill="#232323" stroke="#232323"/>
<circle cx="421.5" cy="578.4" r="6.6" fill="#232323" stroke="#232323"/>
<circle cx="395.3" cy="641.0" r="6.6" fill="#232323" stroke="#232323"/>
<circle cx="392.2" cy="640.3" r="6.6" fill="#232323" stroke="#232323"/>
<circle cx="777.1" cy="651.2" r="6.6" fill="#232323" stroke="#232323"/>
<circle cx="716.3" cy="474.4" r="6.6" fill="#232323" stroke="#232323"/>
<circle cx="389.9" cy="566.5" r="6.6" fill="#232323" stroke="#232323"/>
<circle cx="484.4" cy="631.2" r="6.6" fill="#232323" stroke="#232323"/>
<circle cx="415.2" cy="599.5" r="6.6" fill="#232323" stroke="#232323"/>
<circle cx="425.5" cy="549.2" r="6.6" fill="#232323" stroke="#232323"/>
<circle cx="390.4" cy="639.4" r="6.6" fill="#232323" stroke="#232323"/>
<circle cx="808.7" cy="571.7" r="6.6" fill="#232323" stroke="#232323"/>
<circle cx="739.8" cy="633.7" r="6.6" fill="#232323" stroke="#232323"/>
<circle cx="825.9" cy="550.4" r="6.6" fill="#232323" stroke="#232323"/>
<circle cx="467.3" cy="589.4" r="6.6" fill="#232323" stroke="#232323"/>
<circle cx="445.5" cy="651.6" r="6.6" fill="#232323" stroke="#232323"/>
<circle cx="843.5" cy="547.8" r="6.6" fill="#222222" stroke="#222222"/>
<circle cx="845.7" cy="554.9" r="6.6" fill="#222222" stroke="#222222"/>
<circle cx="380.1" cy="627.9" r="6.6" fill="#222222" stroke="#222222"/>
<circle cx="703.3" cy="462.1" r="6.6" fill="#222222" stroke="#222222"/>
<circle cx="484.7" cy="599.2" r="6.6" fill="#222222" stroke="#222222"/>
<circle cx="751.6" cy="699.8" r="6.6" fill="#222222" stroke="#222222"/>
<circle cx="416.8" cy="547.5" r="6.6" fill="#222222" stroke="#222222"/>
<circle cx="821.7" cy="606.1" r="6.6" fill="#222222" stroke="#222222"/>
<circle cx="426.0" cy="595.8" r="6.6" fill="#222222" stroke="#222222"/>
<circle cx="681.9" cy="624.8" r="6.6" fill="#222222" stroke="#222222"/>
<circle cx="364.0" cy="654.9" r="6.6" fill="#222222" stroke="#222222"/>
<circle cx="462.2" cy="576.6" r="6.6" fill="#222222" stroke="#222222"/>
<circle cx="397.9" cy="624.2" r="6.6" fill="#222222" stroke="#222222"/>
<circle cx="482.9" cy="510.2" r="6.6" fill="#222222" stroke="#222222"/>
<circle cx="874.6" cy="583.5" r="6.6" fill="#222222" stroke="#222222"/>
<circle cx="391.3" cy="647.3" r="6.6" fill="#222222" stroke="#222222"/>
<circle cx="911.2" cy="563.4" r="6.6" fill="#222222" stroke="#222222"/>
<circle cx="884.6" cy="599.8" r="6.6" fill="#222222" stroke="#222222"/>
<circle cx="439.5" cy="698.7" r="6.6" fill="#222222" stroke="#222222"/>
<circle cx="762.0" cy="547.3" r="6.6" fill="#222222" stroke="#222222"/>
<circle cx="445.7" cy="689.7" r="6.6" fill="#222222" stroke="#222222"/>
<circle cx="923.6" cy="562.9" r="6.6" fill="#222222" stroke="#222222"/>
<circle cx="408.5" cy="672.9" r="6.6" fill="#222222" stroke="#222222"/>
<circle cx="790.6" cy="672.9" r="6.6" fill="#222222" stroke="#222222"/>
<circle cx="889.1" cy="528.9" r="6.6" fill="#222222" stroke="#222222"/>
<circle cx="404.6" cy="578.8" r="6.6" fill="#222222" stroke="#222222"/>
<circle cx="700.4" cy="607.9" r="6.6" fill="#222222" stroke="#222222"/>
<circle cx="380.7" cy="662.4" r="6.6" fill="#222222" stroke="#222222"/>
<circle cx="459.9" cy="621.0" r="6.6" fill="#212121" stroke="#212121"/>
<circle cx="443.3" cy="595.3" r="6.6" fill="#212121" stroke="#212121"/>
<circle cx="715.9" cy="555.1" r="6.6" fill="#212121" stroke="#212121"/>
<circle cx="473.9" cy="700.8" r="6.6" fill="#212121" stroke="#212121"/>
<circle cx="474.2" cy="685.5" r="6.6" fill="#212121" stroke="#212121"/>
<circle cx="464.4" cy="555.6" r="6.6" fill="#212121" stroke="#212121"/>
<circle cx="419.3" cy="602.5" r="6.6" fill="#212121" stroke="#212121"/>
<circle cx="748.8" cy="644.4" r="6.6" fill="#212121" stroke="#212121"/>
<circle cx="794.9" cy="561.0" r="6.6" fill="#212121" stroke="#212121"/>
<circle cx="421.4" cy="560.7" r="6.6" fill="#212121" stroke="#212121"/>
<circle cx="426.2" cy="575.0" r="6.6" fill="#212121" stroke="#212121"/>
<circle cx="453.3" cy="554.5" r="6.6" fill="#212121" stroke="#212121"/>
<circle cx="423.8" cy="599.3" r="6.6" fill="#212121" stroke="#212121"/>
<circle cx="450.2" cy="614.9" r="6.6" fill="#212121" stroke="#212121"/>
<circle cx="444.6" cy="649.7" r="6.6" fill="#212121" stroke="#212121"/>
<circle cx="420.1" cy="655.5" r="6.6" fill="#212121" stroke="#212121"/>
<circle cx="704.2" cy="468.6" r="6.6" fill="#212121" stroke="#212121"/>
<circle cx="782.0" cy="582.3" r="6.6" fill="#212121" stroke="#212121"/>
<circle cx="730.5" cy="551.8" r="6.6" fill="#212121" stroke="#212121"/>
<circle cx="742.0" cy="555.6" r="6.6" fill="#212121" stroke="#212121"/>
<circle cx="403.1" cy="586.5" r="6.6" fill="#212121" stroke="#212121"/>
<circle cx="873.6" cy="619.8" r="6.6" fill="#212121" stroke="#212121"/>
<circle cx="730.6" cy="667.4" r="6.6" fill="#212121" stroke="#212121"/>
<circle cx="462.9" cy="648.7" r="6.6" fill="#212121" stroke="#212121"/>
<circle cx="442.0" cy="663.5" r="6.6" fill="#212121" stroke="#212121"/>
<circle cx="402.4" cy="602.4" r="6.6" fill="#212121" stroke="#212121"/>
<circle cx="413.2" cy="674.3" r="6.6" fill="#212121" stroke="#212121"/>
<circle cx="480.5" cy="520.0" r="6.6" fill="#212121" stroke="#212121"/>
<circle cx="750.0" cy="610.6" r="6.6" fill="#212121" stroke="#212121"/>
<circle cx="483.1" cy="472.3" r="6.6" fill="#212121" stroke="#212121"/>
<circle cx="481.7" cy="627.1" r="6.6" fill="#202020" stroke="#202020"/>
<circle cx="450.8" cy="691.4" r="6.6" fill="#202020" stroke="#202020"/>
<circle cx="479.6" cy="678.2" r="6.6" fill="#202020" stroke="#202020"/>
<circle cx="827.0" cy="509.4" r="6.6" fill="#202020" stroke="#202020"/>
<circle cx="781.5" cy="590.0" r="6.6" fill="#202020" stroke="#202020"/>
<circle cx="444.0" cy="651.7" r="6.6" fill="#202020" stroke="#202020"/>
<circle cx="460.8" cy="536.4" r="6.6" fill="#202020" stroke="#202020"/>
<circle cx="426.1" cy="556.4" r="6.6" fill="#202020" stroke="#202020"/>
<circle cx="464.6" cy="666.8" r="6.6" fill="#202020" stroke="#202020"/>
<circle cx="434.4" cy="664.0" r="6.6" fill="#202020" stroke="#202020"/>
<circle cx="457.8" cy="664.7" r="6.6" fill="#202020" stroke="#202020"/>
<circle cx="461.2" cy="639.9" r="6.6" fill="#202020" stroke="#202020"/>
<circle cx="432.9" cy="554.7" r="6.6" fill="#202020" stroke="#202020"/>
<circle cx="425.5" cy="678.1" r="6.6" fill="#202020" stroke="#202020"/>
<circle cx="739.5" cy="536.2" r="6.6" fill="#202020" stroke="#202020"/>
<circle cx="397.4" cy="566.0" r="6.6" fill="#202020" stroke="#202020"/>
<circle cx="434.5" cy="574.2" r="6.6" fill="#202020" stroke="#202020"/>
<circle cx="394.5" cy="588.3" r="6.6" fill="#202020" stroke="#202020"/>
<circle cx="430.5" cy="556.9" r="6.6" fill="#202020" stroke="#202020"/>
<circle cx="479.9" cy="485.3" r="6.6" fill="#202020" stroke="#202020"/>
<circle cx="481.0" cy="634.9" r="6.6" fill="#202020" stroke="#202020"/>
<circle cx="870.5" cy="625.4" r="6.6" fill="#202020" stroke="#202020"/>
<circle cx="415.5" cy="604.6" r="6.6" fill="#202020" stroke="#202020"/>
<circle cx="749.2" cy="594.8" r="6.6" fill="#202020" stroke="#202020"/>
<circle cx="823.4" cy="542.9" r="6.6" fill="#202020" stroke="#202020"/>
<circle cx="370.4" cy="605.0" r="6.6" fill="#202020" stroke="#202020"/>
<circle cx="453.3" cy="700.8" r="6.6" fill="#202020" stroke="#202020"/>
<circle cx="877.8" cy="527.4" r="6.6" fill="#202020" stroke="#202020"/>
<circle cx="428.4" cy="644.5" r="6.6" fill="#202020" stroke="#202020"/>
<circle cx="429.8" cy="660.0" r="6.6" fill="#1f1f1f" stroke="#1f1f1f"/>
<circle cx="711.0" cy="513.2" r="6.6" fill="#1f1f1f" stroke="#1f1f1f"/>
<circle cx="462.1" cy="509.9" r="6.6" fill="#1f1f1f" stroke="#1f1f1f"/>
<circle cx="476.8" cy="556.8" r="6.6" fill="#1f1f1f" stroke="#1f1f1f"/>
<circle cx="381.0" cy="564.6" r="6.6" fill="#1f1f1f" stroke="#1f1f1f"/>
<circle cx="480.3" cy="694.8" r="6.6" fill="#1f1f1f" stroke="#1f1f1f"/>
<circle cx="742.3" cy="648.0" r="6.6" fill="#1f1f1f" stroke="#1f1f1f"/>
<circle cx="479.6" cy="572.9" r="6.6" fill="#1f1f1f" stroke="#1f1f1f"/>
<circle cx="452.0" cy="662.5" r="6.6" fill="#1f1f1f" stroke="#1f1f1f"/>
<circle cx="738.8" cy="559.6" r="6.6" fill="#1f1f1f" stroke="#1f1f1f"/>
<circle cx="873.7" cy="494.2" r="6.6" fill="#1f1f1f" stroke="#1f1f1f"/>
<circle cx="719.0" cy="555.0" r="6.6" fill="#1f1f1f" stroke="#1f1f1f"/>
<circle cx="911.5" cy="490.7" r="6.6" fill="#1f1f1f" stroke="#1f1f1f"/>
<circle cx="431.1" cy="612.0" r="6.6" fill="#1f1f1f" stroke="#1f1f1f"/>
<circle cx="476.4" cy="672.0" r="6.6" fill="#1f1f1f" stroke="#1f1f1f"/>
<circle cx="362.0" cy="598.8" r="6.6" fill="#1e1e1e" stroke="#1e1e1e"/>
<circle cx="459.6" cy="543.3" r="6.6" fill="#1e1e1e" stroke="#1e1e1e"/>
<circle cx="457.9" cy="687.9" r="6.6" fill="#1e1e1e" stroke="#1e1e1e"/>
<circle cx="408.5" cy="631.9" r="6.6" fill="#1e1e1e" stroke="#1e1e1e"/>
<circle cx="448.6" cy="546.7" r="6.6" fill="#1e1e1e" stroke="#1e1e1e"/>
<circle cx="479.7" cy="682.1" r="6.6" fill="#1e1e1e" stroke="#1e1e1e"/>
<circle cx="860.1" cy="554.8" r="6.6" fill="#1e1e1e" stroke="#1e1e1e"/>
<circle cx="463.0" cy="567.9" r="6.6" fill="#1e1e1e" stroke="#1e1e1e"/>
<path d="M498.2 327.5 L494.4 341.0 L492.4 363.9 L488.5 380.6 L488.5 399.9 L489.5 420.1 L487.5 440.0 L490.5 469.7 L490.5 501.8 L474.2 523.6 L460.9 536.9 L444.5 553.3 L437.6 567.0 L424.8 582.8 L419.4 596.3 L416.5 625.0 L419.4 654.3 L436.7 684.2 L451.1 708.5 L618.6 708.5 L612.8 672.4 L601.5 659.1 L593.7 645.0 L585.9 623.9 L577.9 603.0 L569.7 581.5 L564.6 554.1 L556.7 520.5 L548.6 497.1 L547.6 481.5 L541.8 469.8 L535.7 441.5 L531.6 430.1 L529.5 396.2 L529.5 381.3 L521.9 366.0 L516.8 348.7 L510.6 331.8 L502.6 327.5 Z" fill="#1c1c1c"/>
<path d="M686.8 416.4 L685.3 421.4 L679.2 446.9 L675.2 454.8 L670.4 479.3 L667.3 490.3 L663.4 509.2 L660.3 522.3 L653.3 550.6 L643.2 579.9 L630.3 614.6 L622.4 650.1 L615.4 686.0 L611.5 708.5 L777.6 708.5 L784.9 677.8 L799.4 655.0 L809.7 639.0 L813.1 613.6 L787.9 595.5 L758.2 576.1 L747.6 561.7 L726.0 555.1 L702.0 543.7 L695.5 500.7 L692.5 470.5 L689.6 437.0 L683.6 415.7 Z" fill="#1c1c1c"/>
<circle class="o" cx="504.5" cy="306.3" r="6.6" fill="#1e1e1e" stroke="#1e1e1e"/>
<circle class="o" cx="741.6" cy="524.3" r="6.6" fill="#1e1e1e" stroke="#1e1e1e"/>
<circle class="o" cx="780.2" cy="504.1" r="6.6" fill="#1e1e1e" stroke="#1e1e1e"/>
<circle class="o" cx="473.9" cy="450.6" r="6.6" fill="#1d1d1d" stroke="#1d1d1d"/>
<circle class="o" cx="826.3" cy="475.1" r="6.6" fill="#1d1d1d" stroke="#1d1d1d"/>
<circle class="o" cx="846.7" cy="582.4" r="6.6" fill="#1d1d1d" stroke="#1d1d1d"/>
<circle class="o" cx="867.7" cy="556.4" r="6.6" fill="#1d1d1d" stroke="#1d1d1d"/>
<circle class="o" cx="711.1" cy="606.8" r="6.6" fill="#1d1d1d" stroke="#1d1d1d"/>
<circle class="o" cx="851.2" cy="652.2" r="6.6" fill="#1d1d1d" stroke="#1d1d1d"/>
<circle class="o" cx="777.6" cy="647.2" r="6.6" fill="#1d1d1d" stroke="#1d1d1d"/>
<circle class="o" cx="923.8" cy="494.8" r="6.6" fill="#1c1c1c" stroke="#1c1c1c"/>
<circle class="o" cx="883.2" cy="500.4" r="6.6" fill="#1c1c1c" stroke="#1c1c1c"/>
<circle class="o" cx="719.4" cy="474.2" r="6.6" fill="#1c1c1c" stroke="#1c1c1c"/>
<circle class="o" cx="498.1" cy="328.7" r="6.6" fill="#1c1c1c" stroke="#1c1c1c"/>
<circle class="o" cx="496.4" cy="340.7" r="6.6" fill="#1c1c1c" stroke="#1c1c1c"/>
<circle class="o" cx="493.6" cy="351.0" r="6.6" fill="#1c1c1c" stroke="#1c1c1c"/>
<circle class="o" cx="490.3" cy="362.7" r="6.6" fill="#1c1c1c" stroke="#1c1c1c"/>
<circle class="o" cx="488.5" cy="379.2" r="6.6" fill="#1c1c1c" stroke="#1c1c1c"/>
<circle class="o" cx="489.5" cy="391.3" r="6.6" fill="#1c1c1c" stroke="#1c1c1c"/>
<circle class="o" cx="488.8" cy="401.3" r="6.6" fill="#1c1c1c" stroke="#1c1c1c"/>
<circle class="o" cx="487.1" cy="411.5" r="6.6" fill="#1c1c1c" stroke="#1c1c1c"/>
<circle class="o" cx="488.6" cy="422.4" r="6.6" fill="#1c1c1c" stroke="#1c1c1c"/>
<circle class="o" cx="489.4" cy="430.6" r="6.6" fill="#1c1c1c" stroke="#1c1c1c"/>
<circle class="o" cx="488.1" cy="442.2" r="6.6" fill="#1c1c1c" stroke="#1c1c1c"/>
<circle class="o" cx="486.2" cy="449.6" r="6.6" fill="#1c1c1c" stroke="#1c1c1c"/>
<circle class="o" cx="490.9" cy="459.5" r="6.6" fill="#1c1c1c" stroke="#1c1c1c"/>
<circle class="o" cx="492.4" cy="470.1" r="6.6" fill="#1c1c1c" stroke="#1c1c1c"/>
<circle class="o" cx="490.6" cy="482.6" r="6.6" fill="#1c1c1c" stroke="#1c1c1c"/>
<circle class="o" cx="489.2" cy="491.6" r="6.6" fill="#1c1c1c" stroke="#1c1c1c"/>
<circle class="o" cx="489.7" cy="503.7" r="6.6" fill="#1c1c1c" stroke="#1c1c1c"/>
<circle class="o" cx="487.4" cy="510.9" r="6.6" fill="#1c1c1c" stroke="#1c1c1c"/>
<circle class="o" cx="481.2" cy="516.3" r="6.6" fill="#1c1c1c" stroke="#1c1c1c"/>
<circle class="o" cx="475.5" cy="522.2" r="6.6" fill="#1c1c1c" stroke="#1c1c1c"/>
<circle class="o" cx="467.5" cy="532.7" r="6.6" fill="#1c1c1c" stroke="#1c1c1c"/>
<circle class="o" cx="459.0" cy="535.6" r="6.6" fill="#1c1c1c" stroke="#1c1c1c"/>
<circle class="o" cx="450.6" cy="546.5" r="6.6" fill="#1c1c1c" stroke="#1c1c1c"/>
<circle class="o" cx="444.3" cy="554.9" r="6.6" fill="#1c1c1c" stroke="#1c1c1c"/>
<circle class="o" cx="440.0" cy="564.5" r="6.6" fill="#1c1c1c" stroke="#1c1c1c"/>
<circle class="o" cx="432.7" cy="573.9" r="6.6" fill="#1c1c1c" stroke="#1c1c1c"/>
<circle class="o" cx="425.7" cy="583.3" r="6.6" fill="#1c1c1c" stroke="#1c1c1c"/>
<circle class="o" cx="421.1" cy="597.1" r="6.6" fill="#1c1c1c" stroke="#1c1c1c"/>
<circle class="o" cx="416.8" cy="604.6" r="6.6" fill="#1c1c1c" stroke="#1c1c1c"/>
<circle class="o" cx="416.6" cy="614.4" r="6.6" fill="#1c1c1c" stroke="#1c1c1c"/>
<circle class="o" cx="415.4" cy="624.2" r="6.6" fill="#1c1c1c" stroke="#1c1c1c"/>
<circle class="o" cx="416.0" cy="634.6" r="6.6" fill="#1c1c1c" stroke="#1c1c1c"/>
<circle class="o" cx="417.1" cy="642.1" r="6.6" fill="#1c1c1c" stroke="#1c1c1c"/>
<circle class="o" cx="418.9" cy="653.8" r="6.6" fill="#1c1c1c" stroke="#1c1c1c"/>
<circle class="o" cx="422.9" cy="664.5" r="6.6" fill="#1c1c1c" stroke="#1c1c1c"/>
<circle class="o" cx="433.0" cy="674.0" r="6.6" fill="#1c1c1c" stroke="#1c1c1c"/>
<circle class="o" cx="437.3" cy="685.2" r="6.6" fill="#1c1c1c" stroke="#1c1c1c"/>
<circle class="o" cx="441.6" cy="692.0" r="6.6" fill="#1c1c1c" stroke="#1c1c1c"/>
<circle class="o" cx="446.6" cy="700.3" r="6.6" fill="#1c1c1c" stroke="#1c1c1c"/>
<circle class="o" cx="453.0" cy="706.2" r="6.6" fill="#1c1c1c" stroke="#1c1c1c"/>
<circle class="o" cx="460.2" cy="708.1" r="6.6" fill="#1c1c1c" stroke="#1c1c1c"/>
<circle class="o" cx="471.2" cy="708.8" r="6.6" fill="#1c1c1c" stroke="#1c1c1c"/>
<circle class="o" cx="476.9" cy="710.8" r="6.6" fill="#1c1c1c" stroke="#1c1c1c"/>
<circle class="o" cx="490.0" cy="708.7" r="6.6" fill="#1c1c1c" stroke="#1c1c1c"/>
<circle class="o" cx="496.9" cy="708.5" r="6.6" fill="#1c1c1c" stroke="#1c1c1c"/>
<circle class="o" cx="509.3" cy="710.5" r="6.6" fill="#1c1c1c" stroke="#1c1c1c"/>
<circle class="o" cx="515.7" cy="710.4" r="6.6" fill="#1c1c1c" stroke="#1c1c1c"/>
<circle class="o" cx="524.6" cy="708.2" r="6.6" fill="#1c1c1c" stroke="#1c1c1c"/>
<circle class="o" cx="535.0" cy="707.5" r="6.6" fill="#1c1c1c" stroke="#1c1c1c"/>
<circle class="o" cx="545.1" cy="708.7" r="6.6" fill="#1c1c1c" stroke="#1c1c1c"/>
<circle class="o" cx="555.2" cy="709.7" r="6.6" fill="#1c1c1c" stroke="#1c1c1c"/>
<circle class="o" cx="561.7" cy="706.8" r="6.6" fill="#1c1c1c" stroke="#1c1c1c"/>
<circle class="o" cx="572.5" cy="706.8" r="6.6" fill="#1c1c1c" stroke="#1c1c1c"/>
<circle class="o" cx="580.1" cy="707.8" r="6.6" fill="#1c1c1c" stroke="#1c1c1c"/>
<circle class="o" cx="590.4" cy="707.3" r="6.6" fill="#1c1c1c" stroke="#1c1c1c"/>
<circle class="o" cx="602.4" cy="708.7" r="6.6" fill="#1c1c1c" stroke="#1c1c1c"/>
<circle class="o" cx="609.1" cy="708.9" r="6.6" fill="#1c1c1c" stroke="#1c1c1c"/>
<circle class="o" cx="618.6" cy="710.9" r="6.6" fill="#1c1c1c" stroke="#1c1c1c"/>
<circle class="o" cx="615.5" cy="698.3" r="6.6" fill="#1c1c1c" stroke="#1c1c1c"/>
<circle class="o" cx="617.3" cy="690.1" r="6.6" fill="#1c1c1c" stroke="#1c1c1c"/>
<circle class="o" cx="612.4" cy="681.6" r="6.6" fill="#1c1c1c" stroke="#1c1c1c"/>
<circle class="o" cx="610.6" cy="670.0" r="6.6" fill="#1c1c1c" stroke="#1c1c1c"/>
<circle class="o" cx="602.5" cy="658.8" r="6.6" fill="#1c1c1c" stroke="#1c1c1c"/>
<circle class="o" cx="595.0" cy="643.3" r="6.6" fill="#1c1c1c" stroke="#1c1c1c"/>
<circle class="o" cx="588.0" cy="635.3" r="6.6" fill="#1c1c1c" stroke="#1c1c1c"/>
<circle class="o" cx="584.7" cy="625.6" r="6.6" fill="#1c1c1c" stroke="#1c1c1c"/>
<circle class="o" cx="580.5" cy="615.6" r="6.6" fill="#1c1c1c" stroke="#1c1c1c"/>
<circle class="o" cx="576.1" cy="604.7" r="6.6" fill="#1c1c1c" stroke="#1c1c1c"/>
<circle class="o" cx="573.8" cy="593.5" r="6.6" fill="#1c1c1c" stroke="#1c1c1c"/>
<circle class="o" cx="572.0" cy="583.1" r="6.6" fill="#1c1c1c" stroke="#1c1c1c"/>
<circle class="o" cx="568.5" cy="574.0" r="6.6" fill="#1c1c1c" stroke="#1c1c1c"/>
<circle class="o" cx="567.3" cy="562.0" r="6.6" fill="#1c1c1c" stroke="#1c1c1c"/>
<circle class="o" cx="565.6" cy="555.9" r="6.6" fill="#1c1c1c" stroke="#1c1c1c"/>
<circle class="o" cx="562.8" cy="542.2" r="6.6" fill="#1c1c1c" stroke="#1c1c1c"/>
<circle class="o" cx="557.9" cy="533.2" r="6.6" fill="#1c1c1c" stroke="#1c1c1c"/>
<circle class="o" cx="555.3" cy="519.6" r="6.6" fill="#1c1c1c" stroke="#1c1c1c"/>
<circle class="o" cx="551.7" cy="506.4" r="6.6" fill="#1c1c1c" stroke="#1c1c1c"/>
<circle class="o" cx="548.6" cy="496.6" r="6.6" fill="#1c1c1c" stroke="#1c1c1c"/>
<circle class="o" cx="549.5" cy="481.0" r="6.6" fill="#1c1c1c" stroke="#1c1c1c"/>
<circle class="o" cx="543.4" cy="471.0" r="6.6" fill="#1c1c1c" stroke="#1c1c1c"/>
<circle class="o" cx="542.2" cy="458.8" r="6.6" fill="#1c1c1c" stroke="#1c1c1c"/>
<circle class="o" cx="539.5" cy="449.7" r="6.6" fill="#1c1c1c" stroke="#1c1c1c"/>
<circle class="o" cx="534.7" cy="439.5" r="6.6" fill="#1c1c1c" stroke="#1c1c1c"/>
<circle class="o" cx="533.8" cy="432.2" r="6.6" fill="#1c1c1c" stroke="#1c1c1c"/>
<circle class="o" cx="529.4" cy="421.1" r="6.6" fill="#1c1c1c" stroke="#1c1c1c"/>
<circle class="o" cx="528.2" cy="405.3" r="6.6" fill="#1c1c1c" stroke="#1c1c1c"/>
<circle class="o" cx="531.4" cy="397.9" r="6.6" fill="#1c1c1c" stroke="#1c1c1c"/>
<circle class="o" cx="530.0" cy="382.0" r="6.6" fill="#1c1c1c" stroke="#1c1c1c"/>
<circle class="o" cx="524.0" cy="368.2" r="6.6" fill="#1c1c1c" stroke="#1c1c1c"/>
<circle class="o" cx="520.5" cy="356.1" r="6.6" fill="#1c1c1c" stroke="#1c1c1c"/>
<circle class="o" cx="514.5" cy="346.8" r="6.6" fill="#1c1c1c" stroke="#1c1c1c"/>
<circle class="o" cx="510.8" cy="330.6" r="6.6" fill="#1c1c1c" stroke="#1c1c1c"/>
<circle class="o" cx="505.0" cy="326.4" r="6.6" fill="#1c1c1c" stroke="#1c1c1c"/>
<circle class="o" cx="688.0" cy="416.5" r="6.6" fill="#1c1c1c" stroke="#1c1c1c"/>
<circle class="o" cx="687.9" cy="424.9" r="6.6" fill="#1c1c1c" stroke="#1c1c1c"/>
<circle class="o" cx="682.3" cy="430.8" r="6.6" fill="#1c1c1c" stroke="#1c1c1c"/>
<circle class="o" cx="678.2" cy="445.1" r="6.6" fill="#1c1c1c" stroke="#1c1c1c"/>
<circle class="o" cx="675.4" cy="457.5" r="6.6" fill="#1c1c1c" stroke="#1c1c1c"/>
<circle class="o" cx="672.8" cy="467.0" r="6.6" fill="#1c1c1c" stroke="#1c1c1c"/>
<circle class="o" cx="669.4" cy="476.4" r="6.6" fill="#1c1c1c" stroke="#1c1c1c"/>
<circle class="o" cx="667.3" cy="492.3" r="6.6" fill="#1c1c1c" stroke="#1c1c1c"/>
<circle class="o" cx="666.6" cy="496.7" r="6.6" fill="#1c1c1c" stroke="#1c1c1c"/>
<circle class="o" cx="664.2" cy="507.5" r="6.6" fill="#1c1c1c" stroke="#1c1c1c"/>
<circle class="o" cx="657.4" cy="524.6" r="6.6" fill="#1c1c1c" stroke="#1c1c1c"/>
<circle class="o" cx="656.3" cy="528.7" r="6.6" fill="#1c1c1c" stroke="#1c1c1c"/>
<circle class="o" cx="658.6" cy="540.7" r="6.6" fill="#1c1c1c" stroke="#1c1c1c"/>
<circle class="o" cx="652.8" cy="551.3" r="6.6" fill="#1c1c1c" stroke="#1c1c1c"/>
<circle class="o" cx="648.7" cy="558.7" r="6.6" fill="#1c1c1c" stroke="#1c1c1c"/>
<circle class="o" cx="648.5" cy="571.5" r="6.6" fill="#1c1c1c" stroke="#1c1c1c"/>
<circle class="o" cx="646.3" cy="580.0" r="6.6" fill="#1c1c1c" stroke="#1c1c1c"/>
<circle class="o" cx="636.5" cy="588.6" r="6.6" fill="#1c1c1c" stroke="#1c1c1c"/>
<circle class="o" cx="640.0" cy="597.7" r="6.6" fill="#1c1c1c" stroke="#1c1c1c"/>
<circle class="o" cx="634.1" cy="606.2" r="6.6" fill="#1c1c1c" stroke="#1c1c1c"/>
<circle class="o" cx="628.3" cy="617.7" r="6.6" fill="#1c1c1c" stroke="#1c1c1c"/>
<circle class="o" cx="630.0" cy="625.1" r="6.6" fill="#1c1c1c" stroke="#1c1c1c"/>
<circle class="o" cx="623.8" cy="630.3" r="6.6" fill="#1c1c1c" stroke="#1c1c1c"/>
<circle class="o" cx="622.2" cy="638.6" r="6.6" fill="#1c1c1c" stroke="#1c1c1c"/>
<circle class="o" cx="622.5" cy="647.8" r="6.6" fill="#1c1c1c" stroke="#1c1c1c"/>
<circle class="o" cx="621.8" cy="659.1" r="6.6" fill="#1c1c1c" stroke="#1c1c1c"/>
<circle class="o" cx="620.3" cy="666.7" r="6.6" fill="#1c1c1c" stroke="#1c1c1c"/>
<circle class="o" cx="616.5" cy="678.6" r="6.6" fill="#1c1c1c" stroke="#1c1c1c"/>
<circle class="o" cx="616.0" cy="689.0" r="6.6" fill="#1c1c1c" stroke="#1c1c1c"/>
<circle class="o" cx="610.5" cy="697.5" r="6.6" fill="#1c1c1c" stroke="#1c1c1c"/>
<circle class="o" cx="609.8" cy="708.1" r="6.6" fill="#1c1c1c" stroke="#1c1c1c"/>
<circle class="o" cx="623.2" cy="711.1" r="6.6" fill="#1c1c1c" stroke="#1c1c1c"/>
<circle class="o" cx="630.1" cy="705.4" r="6.6" fill="#1c1c1c" stroke="#1c1c1c"/>
<circle class="o" cx="640.4" cy="710.1" r="6.6" fill="#1c1c1c" stroke="#1c1c1c"/>
<circle class="o" cx="650.2" cy="710.8" r="6.6" fill="#1c1c1c" stroke="#1c1c1c"/>
<circle class="o" cx="658.3" cy="707.0" r="6.6" fill="#1c1c1c" stroke="#1c1c1c"/>
<circle class="o" cx="665.4" cy="706.7" r="6.6" fill="#1c1c1c" stroke="#1c1c1c"/>
<circle class="o" cx="674.7" cy="706.9" r="6.6" fill="#1c1c1c" stroke="#1c1c1c"/>
<circle class="o" cx="682.7" cy="708.8" r="6.6" fill="#1c1c1c" stroke="#1c1c1c"/>
<circle class="o" cx="695.4" cy="710.0" r="6.6" fill="#1c1c1c" stroke="#1c1c1c"/>
<circle class="o" cx="702.3" cy="709.7" r="6.6" fill="#1c1c1c" stroke="#1c1c1c"/>
<circle class="o" cx="710.1" cy="709.3" r="6.6" fill="#1c1c1c" stroke="#1c1c1c"/>
<circle class="o" cx="722.3" cy="707.9" r="6.6" fill="#1c1c1c" stroke="#1c1c1c"/>
<circle class="o" cx="730.3" cy="706.6" r="6.6" fill="#1c1c1c" stroke="#1c1c1c"/>
<circle class="o" cx="743.1" cy="711.1" r="6.6" fill="#1c1c1c" stroke="#1c1c1c"/>
<circle class="o" cx="750.0" cy="708.5" r="6.6" fill="#1c1c1c" stroke="#1c1c1c"/>
<circle class="o" cx="759.4" cy="711.8" r="6.6" fill="#1c1c1c" stroke="#1c1c1c"/>
<circle class="o" cx="769.3" cy="705.3" r="6.6" fill="#1c1c1c" stroke="#1c1c1c"/>
<circle class="o" cx="780.0" cy="707.9" r="6.6" fill="#1c1c1c" stroke="#1c1c1c"/>
<circle class="o" cx="776.9" cy="700.1" r="6.6" fill="#1c1c1c" stroke="#1c1c1c"/>
<circle class="o" cx="782.0" cy="685.8" r="6.6" fill="#1c1c1c" stroke="#1c1c1c"/>
<circle class="o" cx="781.8" cy="674.6" r="6.6" fill="#1c1c1c" stroke="#1c1c1c"/>
<circle class="o" cx="788.6" cy="671.5" r="6.6" fill="#1c1c1c" stroke="#1c1c1c"/>
<circle class="o" cx="796.8" cy="660.3" r="6.6" fill="#1c1c1c" stroke="#1c1c1c"/>
<circle class="o" cx="797.4" cy="653.4" r="6.6" fill="#1c1c1c" stroke="#1c1c1c"/>
<circle class="o" cx="806.2" cy="648.2" r="6.6" fill="#1c1c1c" stroke="#1c1c1c"/>
<circle class="o" cx="809.4" cy="639.8" r="6.6" fill="#1c1c1c" stroke="#1c1c1c"/>
<circle class="o" cx="809.5" cy="623.7" r="6.6" fill="#1c1c1c" stroke="#1c1c1c"/>
<circle class="o" cx="814.3" cy="613.1" r="6.6" fill="#1c1c1c" stroke="#1c1c1c"/>
<circle class="o" cx="801.4" cy="609.1" r="6.6" fill="#1c1c1c" stroke="#1c1c1c"/>
<circle class="o" cx="794.7" cy="602.5" r="6.6" fill="#1c1c1c" stroke="#1c1c1c"/>
<circle class="o" cx="786.9" cy="597.3" r="6.6" fill="#1c1c1c" stroke="#1c1c1c"/>
<circle class="o" cx="777.6" cy="592.0" r="6.6" fill="#1c1c1c" stroke="#1c1c1c"/>
<circle class="o" cx="769.0" cy="580.2" r="6.6" fill="#1c1c1c" stroke="#1c1c1c"/>
<circle class="o" cx="754.8" cy="576.7" r="6.6" fill="#1c1c1c" stroke="#1c1c1c"/>
<circle class="o" cx="744.7" cy="561.4" r="6.6" fill="#1c1c1c" stroke="#1c1c1c"/>
<circle class="o" cx="734.6" cy="561.5" r="6.6" fill="#1c1c1c" stroke="#1c1c1c"/>
<circle class="o" cx="724.4" cy="554.7" r="6.6" fill="#1c1c1c" stroke="#1c1c1c"/>
<circle class="o" cx="716.8" cy="547.4" r="6.6" fill="#1c1c1c" stroke="#1c1c1c"/>
<circle class="o" cx="701.8" cy="540.5" r="6.6" fill="#1c1c1c" stroke="#1c1c1c"/>
<circle class="o" cx="698.7" cy="535.8" r="6.6" fill="#1c1c1c" stroke="#1c1c1c"/>
<circle class="o" cx="697.6" cy="521.0" r="6.6" fill="#1c1c1c" stroke="#1c1c1c"/>
<circle class="o" cx="699.6" cy="510.0" r="6.6" fill="#1c1c1c" stroke="#1c1c1c"/>
<circle class="o" cx="695.4" cy="500.1" r="6.6" fill="#1c1c1c" stroke="#1c1c1c"/>
<circle class="o" cx="693.4" cy="488.8" r="6.6" fill="#1c1c1c" stroke="#1c1c1c"/>
<circle class="o" cx="691.9" cy="480.2" r="6.6" fill="#1c1c1c" stroke="#1c1c1c"/>
<circle class="o" cx="692.0" cy="472.1" r="6.6" fill="#1c1c1c" stroke="#1c1c1c"/>
<circle class="o" cx="690.0" cy="457.9" r="6.6" fill="#1c1c1c" stroke="#1c1c1c"/>
<circle class="o" cx="689.1" cy="446.6" r="6.6" fill="#1c1c1c" stroke="#1c1c1c"/>
<circle class="o" cx="692.2" cy="433.6" r="6.6" fill="#1c1c1c" stroke="#1c1c1c"/>
<circle class="o" cx="689.0" cy="424.9" r="6.6" fill="#1c1c1c" stroke="#1c1c1c"/>
<circle class="o" cx="686.8" cy="412.5" r="6.6" fill="#1c1c1c" stroke="#1c1c1c"/>
<circle class="o" cx="494.0" cy="309.6" r="6.6" fill="#1a1a1a" stroke="#1a1a1a"/>
</g></g>
<line x1="377.8" y1="77.0" x2="386.4" y2="80.8" stroke="#c5173f" stroke-width="3.6" stroke-linecap="round"/>
<line x1="409.5" y1="189.4" x2="416.7" y2="187.0" stroke="#c5173f" stroke-width="3.6" stroke-linecap="round"/>
<line x1="514.8" y1="260.3" x2="504.0" y2="300.7" stroke="#c5173f" stroke-width="3.6" stroke-linecap="round"/>
<line x1="617.2" y1="270.7" x2="486.0" y2="336.0" stroke="#c5173f" stroke-width="3.6" stroke-linecap="round"/>
<line x1="560.3" y1="295.5" x2="738.1" y2="398.6" stroke="#c5173f" stroke-width="3.6" stroke-linecap="round"/>
<line x1="667.6" y1="312.0" x2="746.0" y2="319.0" stroke="#c5173f" stroke-width="3.6" stroke-linecap="round"/>
<line x1="821.4" y1="255.3" x2="798.7" y2="264.2" stroke="#c5173f" stroke-width="3.6" stroke-linecap="round"/>
<line x1="375.6" y1="347.9" x2="398.8" y2="352.7" stroke="#c5173f" stroke-width="3.6" stroke-linecap="round"/>
<line x1="497.4" y1="359.0" x2="524.7" y2="359.5" stroke="#c5173f" stroke-width="3.6" stroke-linecap="round"/>
<line x1="728.3" y1="357.2" x2="736.7" y2="360.8" stroke="#c5173f" stroke-width="3.6" stroke-linecap="round"/>
<line x1="776.0" y1="359.6" x2="806.0" y2="353.5" stroke="#c5173f" stroke-width="3.6" stroke-linecap="round"/>
<line x1="406.3" y1="391.3" x2="456.8" y2="403.0" stroke="#c5173f" stroke-width="3.6" stroke-linecap="round"/>
<line x1="692.3" y1="393.9" x2="721.0" y2="392.9" stroke="#c5173f" stroke-width="3.6" stroke-linecap="round"/>
<line x1="644.6" y1="421.2" x2="714.2" y2="413.0" stroke="#c5173f" stroke-width="3.6" stroke-linecap="round"/>
<line x1="876.0" y1="415.5" x2="890.6" y2="415.5" stroke="#c5173f" stroke-width="3.6" stroke-linecap="round"/>
<text transform="translate(319.54 71.90) scale(1.1386 1)" font-size="24.49" font-weight="bold" class="lab">resA</text>
<text transform="translate(412.62 181.90) scale(1.1826 1)" font-size="24.49" font-weight="bold" class="lab">ktrB</text>
<text transform="translate(470.93 247.60) scale(1.1154 1)" font-size="24.49" font-weight="bold" class="lab">arnC_2</text>
<text transform="translate(477.49 283.80) scale(1.0849 1)" font-size="24.49" font-weight="bold" class="lab">COQ5_5</text>
<text transform="translate(616.08 263.10) scale(1.1791 1)" font-size="24.49" font-weight="bold" class="lab">adh1</text>
<text transform="translate(590.78 316.50) scale(1.1038 1)" font-size="24.49" font-weight="bold" class="lab">ypdB</text>
<text transform="translate(806.85 245.50) scale(1.1326 1)" font-size="24.49" font-weight="bold" class="lab">mepA_2</text>
<text transform="translate(304.63 348.30) scale(1.1723 1)" font-size="24.49" font-weight="bold" class="lab">uidA</text>
<text transform="translate(533.67 368.50) scale(1.1259 1)" font-size="24.49" font-weight="bold" class="lab">thrC_2</text>
<text transform="translate(657.21 349.70) scale(1.0594 1)" font-size="24.49" font-weight="bold" class="lab">casC</text>
<text transform="translate(804.57 349.60) scale(1.1475 1)" font-size="24.49" font-weight="bold" class="lab">xerC_11</text>
<text transform="translate(814.67 356.60) scale(1.0293 1)" font-size="24.49" font-weight="bold" class="lab">flbH_</text>
<text transform="translate(305.90 386.30) scale(1.1121 1)" font-size="24.49" font-weight="bold" class="lab">serA_2</text>
<text transform="translate(627.84 403.10) scale(1.1384 1)" font-size="24.49" font-weight="bold" class="lab">rluB</text>
<text transform="translate(541.02 434.60) scale(1.1239 1)" font-size="24.49" font-weight="bold" class="lab">arnB_1</text>
<text transform="translate(893.73 422.30) scale(1.1201 1)" font-size="24.49" font-weight="bold" class="lab">iolU_1</text>
<line x1="170" y1="416.2" x2="1045" y2="416.2" stroke="#c5173f" stroke-width="3.8" stroke-dasharray="14.6 7.2"/>
<rect x="170" y="10.8" width="875" height="693" fill="none" stroke="#000" stroke-width="3"/>
<line x1="156" y1="21.0" x2="170" y2="21.0" stroke="#000" stroke-width="3"/>
<line x1="156" y1="191.7" x2="170" y2="191.7" stroke="#000" stroke-width="3"/>
<line x1="156" y1="362.4" x2="170" y2="362.4" stroke="#000" stroke-width="3"/>
<line x1="156" y1="533.1" x2="170" y2="533.1" stroke="#000" stroke-width="3"/>
<line x1="156" y1="703.8" x2="170" y2="703.8" stroke="#000" stroke-width="3"/>
<line x1="208.6" y1="704" x2="208.6" y2="718.8" stroke="#000" stroke-width="3"/>
<line x1="341.4" y1="704" x2="341.4" y2="718.8" stroke="#000" stroke-width="3"/>
<line x1="474.2" y1="704" x2="474.2" y2="718.8" stroke="#000" stroke-width="3"/>
<line x1="607.0" y1="704" x2="607.0" y2="718.8" stroke="#000" stroke-width="3"/>
<line x1="739.8" y1="704" x2="739.8" y2="718.8" stroke="#000" stroke-width="3"/>
<line x1="872.6" y1="704" x2="872.6" y2="718.8" stroke="#000" stroke-width="3"/>
<line x1="1005.4" y1="704" x2="1005.4" y2="718.8" stroke="#000" stroke-width="3"/>
<!-- colorbar -->
<rect x="1053.8" y="11.1" width="34.1" height="692.8" fill="url(#cb)" stroke="#000" stroke-width="3.2"/>
<text transform="translate(50.11 32.85) scale(1.0737 1)" font-size="34.65">10</text>
<rect x="93.9" y="12.2" width="14.4" height="2.5" fill="#000"/>
<text transform="translate(111.68 20.17) scale(1.1267 1)" font-size="23.38">20</text>
<text transform="translate(50.11 203.85) scale(1.0607 1)" font-size="35.07">10</text>
<rect x="93.9" y="183.1" width="14.4" height="2.5" fill="#000"/>
<text transform="translate(112.09 191.16) scale(1.0532 1)" font-size="24.14">15</text>
<text transform="translate(49.76 373.66) scale(1.0873 1)" font-size="33.66">10</text>
<rect x="93.9" y="353.1" width="14.4" height="2.5" fill="#000"/>
<text transform="translate(110.97 360.87) scale(1.1618 1)" font-size="23.24">10</text>
<text transform="translate(64.91 544.75) scale(1.0607 1)" font-size="35.07">10</text>
<rect x="109.2" y="524.0" width="13.9" height="2.5" fill="#000"/>
<text transform="translate(126.83 532.06) scale(1.0088 1)" font-size="24.00">5</text>
<text transform="translate(83.21 715.86) scale(1.0959 1)" font-size="33.94">10</text>
<text transform="translate(125.50 702.97) scale(1.1117 1)" font-size="22.54">0</text>
<rect x="187.9" y="746.8" width="20.7" height="2.8" fill="#000"/>
<text transform="translate(212.52 757.56) scale(1.0113 1)" font-size="34.08">3</text>
<rect x="320.5" y="746.8" width="20.7" height="2.8" fill="#000"/>
<text transform="translate(344.68 757.90) scale(1.0553 1)" font-size="34.57">2</text>
<rect x="454.6" y="746.8" width="20.7" height="2.8" fill="#000"/>
<text transform="translate(478.16 757.90) scale(0.9283 1)" font-size="35.07">1</text>
<text transform="translate(596.83 757.56) scale(1.0747 1)" font-size="34.08">0</text>
<text transform="translate(730.36 757.90) scale(0.9283 1)" font-size="35.07">1</text>
<text transform="translate(862.48 757.90) scale(1.0553 1)" font-size="34.57">2</text>
<text transform="translate(995.92 757.56) scale(1.0113 1)" font-size="34.08">3</text>
<line x1="1088" y1="703.9" x2="1103" y2="703.9" stroke="#000" stroke-width="3"/>
<text transform="translate(1118.69 715.85) scale(1.0806 1)" font-size="34.65">1000</text>
<line x1="1088" y1="581.0" x2="1103" y2="581.0" stroke="#000" stroke-width="3"/>
<text transform="translate(1119.65 592.99) scale(1.0680 1)" font-size="34.65">2000</text>
<line x1="1088" y1="458.2" x2="1103" y2="458.2" stroke="#000" stroke-width="3"/>
<text transform="translate(1120.03 470.13) scale(1.0630 1)" font-size="34.65">3000</text>
<line x1="1088" y1="335.3" x2="1103" y2="335.3" stroke="#000" stroke-width="3"/>
<text transform="translate(1120.59 347.27) scale(1.0556 1)" font-size="34.65">4000</text>
<line x1="1088" y1="212.5" x2="1103" y2="212.5" stroke="#000" stroke-width="3"/>
<text transform="translate(1120.03 224.41) scale(1.0630 1)" font-size="34.65">5000</text>
<line x1="1088" y1="89.6" x2="1103" y2="89.6" stroke="#000" stroke-width="3"/>
<text transform="translate(1119.65 101.55) scale(1.0680 1)" font-size="34.65">6000</text>
<text transform="translate(278.11 808.20) scale(1.0391 1)" font-size="36.06">Average BMI difference between alleles</text>
<text transform="translate(135.21 846.00) scale(1.1064 1)" font-size="34.44">(alternative allele mean - major allele mean; BMI points)</text>
<g transform="translate(0 0) rotate(-90)"><text transform="translate(-421.95 26.60) scale(0.9951 1)" font-size="35.80">P-value</text></g>
<g transform="rotate(-90)"><text transform="translate(-428.00 1246.50) scale(1.0153 1)" font-size="36.14">samples</text></g>

</svg>
</body></html>
